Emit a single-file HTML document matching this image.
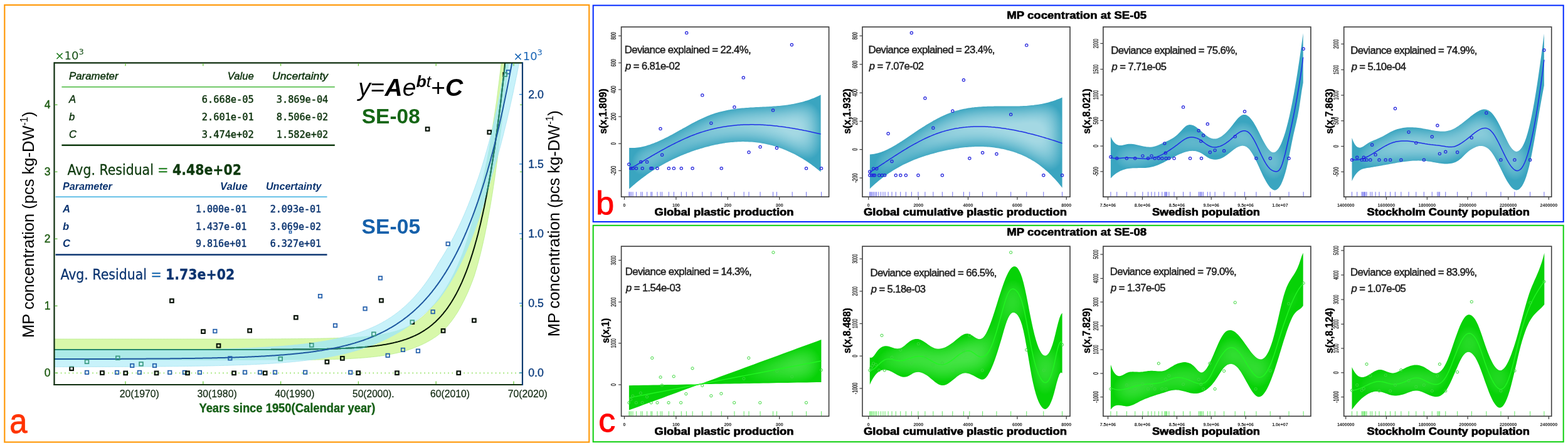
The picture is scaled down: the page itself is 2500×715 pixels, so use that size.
<!DOCTYPE html>
<html><head><meta charset="utf-8"><title>MP concentration figure</title>
<style>html,body{margin:0;padding:0;background:#fff;} svg{display:block;}</style></head>
<body><svg width="2500" height="715" viewBox="0 0 2500 715">
<rect width="2500" height="715" fill="#fff"/>
<rect x="7.3" y="8" width="932" height="697.6" fill="none" stroke="#FF9A0C" stroke-width="2.2"/>
<rect x="945.7" y="8.6" width="1547" height="345.4" fill="none" stroke="#0028FF" stroke-width="2"/>
<rect x="945.7" y="359.8" width="1547" height="345.4" fill="none" stroke="#0DCF0D" stroke-width="2"/>
<defs><clipPath id="cpA"><rect x="86.5" y="100.3" width="746.5" height="513.7"/></clipPath><clipPath id="cpB5"><path d="M82.4,559.0 83.6,559.0 84.9,559.0 86.1,559.0 87.3,559.0 88.6,559.0 89.8,559.0 91.1,559.0 92.3,559.0 93.5,559.0 94.8,559.0 96.0,559.0 97.2,559.0 98.5,559.0 99.7,559.0 101.0,559.0 102.2,559.0 103.4,559.0 104.7,559.0 105.9,559.0 107.1,559.0 108.4,559.0 109.6,559.0 110.9,559.0 112.1,559.0 113.3,559.0 114.6,559.0 115.8,559.0 117.1,559.0 118.3,559.0 119.5,559.0 120.8,559.0 122.0,559.0 123.2,559.0 124.5,559.0 125.7,559.0 127.0,559.0 128.2,559.0 129.4,559.0 130.7,559.0 131.9,559.0 133.1,559.0 134.4,559.0 135.6,559.0 136.9,559.0 138.1,559.0 139.3,559.0 140.6,559.0 141.8,559.0 143.1,558.9 144.3,558.9 145.5,558.9 146.8,558.9 148.0,558.9 149.2,558.9 150.5,558.9 151.7,558.9 153.0,558.9 154.2,558.9 155.4,558.9 156.7,558.9 157.9,558.9 159.1,558.9 160.4,558.9 161.6,558.9 162.9,558.9 164.1,558.9 165.3,558.9 166.6,558.9 167.8,558.9 169.1,558.9 170.3,558.9 171.5,558.9 172.8,558.9 174.0,558.9 175.2,558.9 176.5,558.9 177.7,558.9 179.0,558.8 180.2,558.8 181.4,558.8 182.7,558.8 183.9,558.8 185.1,558.8 186.4,558.8 187.6,558.8 188.9,558.8 190.1,558.8 191.3,558.8 192.6,558.8 193.8,558.8 195.0,558.8 196.3,558.8 197.5,558.8 198.8,558.8 200.0,558.8 201.2,558.8 202.5,558.8 203.7,558.8 205.0,558.7 206.2,558.7 207.4,558.7 208.7,558.7 209.9,558.7 211.1,558.7 212.4,558.7 213.6,558.7 214.9,558.7 216.1,558.7 217.3,558.7 218.6,558.7 219.8,558.7 221.0,558.7 222.3,558.7 223.5,558.7 224.8,558.6 226.0,558.6 227.2,558.6 228.5,558.6 229.7,558.6 230.9,558.6 232.2,558.6 233.4,558.6 234.7,558.6 235.9,558.6 237.1,558.6 238.4,558.6 239.6,558.6 240.9,558.5 242.1,558.5 243.3,558.5 244.6,558.5 245.8,558.5 247.0,558.5 248.3,558.5 249.5,558.5 250.8,558.5 252.0,558.5 253.2,558.5 254.5,558.4 255.7,558.4 256.9,558.4 258.2,558.4 259.4,558.4 260.7,558.4 261.9,558.4 263.1,558.4 264.4,558.4 265.6,558.3 266.9,558.3 268.1,558.3 269.3,558.3 270.6,558.3 271.8,558.3 273.0,558.3 274.3,558.3 275.5,558.2 276.8,558.2 278.0,558.2 279.2,558.2 280.5,558.2 281.7,558.2 282.9,558.2 284.2,558.2 285.4,558.1 286.7,558.1 287.9,558.1 289.1,558.1 290.4,558.1 291.6,558.1 292.9,558.1 294.1,558.0 295.3,558.0 296.6,558.0 297.8,558.0 299.0,558.0 300.3,558.0 301.5,557.9 302.8,557.9 304.0,557.9 305.2,557.9 306.5,557.9 307.7,557.8 308.9,557.8 310.2,557.8 311.4,557.8 312.7,557.8 313.9,557.8 315.1,557.7 316.4,557.7 317.6,557.7 318.8,557.7 320.1,557.6 321.3,557.6 322.6,557.6 323.8,557.6 325.0,557.6 326.3,557.5 327.5,557.5 328.8,557.5 330.0,557.5 331.2,557.4 332.5,557.4 333.7,557.4 334.9,557.4 336.2,557.3 337.4,557.3 338.7,557.3 339.9,557.3 341.1,557.2 342.4,557.2 343.6,557.2 344.8,557.2 346.1,557.1 347.3,557.1 348.6,557.1 349.8,557.0 351.0,557.0 352.3,557.0 353.5,556.9 354.8,556.9 356.0,556.9 357.2,556.8 358.5,556.8 359.7,556.8 360.9,556.7 362.2,556.7 363.4,556.7 364.7,556.6 365.9,556.6 367.1,556.6 368.4,556.5 369.6,556.5 370.8,556.4 372.1,556.4 373.3,556.4 374.6,556.3 375.8,556.3 377.0,556.2 378.3,556.2 379.5,556.2 380.7,556.1 382.0,556.1 383.2,556.0 384.5,556.0 385.7,555.9 386.9,555.9 388.2,555.9 389.4,555.8 390.7,555.8 391.9,555.7 393.1,555.7 394.4,555.6 395.6,555.6 396.8,555.5 398.1,555.4 399.3,555.4 400.6,555.3 401.8,555.3 403.0,555.2 404.3,555.2 405.5,555.1 406.7,555.1 408.0,555.0 409.2,554.9 410.5,554.9 411.7,554.8 412.9,554.8 414.2,554.7 415.4,554.6 416.6,554.6 417.9,554.5 419.1,554.4 420.4,554.4 421.6,554.3 422.8,554.2 424.1,554.1 425.3,554.1 426.6,554.0 427.8,553.9 429.0,553.9 430.3,553.8 431.5,553.7 432.7,553.6 434.0,553.5 435.2,553.5 436.5,553.4 437.7,553.3 438.9,553.2 440.2,553.1 441.4,553.0 442.6,552.9 443.9,552.9 445.1,552.8 446.4,552.7 447.6,552.6 448.8,552.5 450.1,552.4 451.3,552.3 452.6,552.2 453.8,552.1 455.0,552.0 456.3,551.9 457.5,551.8 458.7,551.7 460.0,551.6 461.2,551.5 462.5,551.3 463.7,551.2 464.9,551.1 466.2,551.0 467.4,550.9 468.6,550.8 469.9,550.6 471.1,550.5 472.4,550.4 473.6,550.3 474.8,550.1 476.1,550.0 477.3,549.9 478.6,549.7 479.8,549.6 481.0,549.5 482.3,549.3 483.5,549.2 484.7,549.0 486.0,548.9 487.2,548.7 488.5,548.6 489.7,548.4 490.9,548.3 492.2,548.1 493.4,547.9 494.6,547.8 495.9,547.6 497.1,547.5 498.4,547.3 499.6,547.1 500.8,546.9 502.1,546.8 503.3,546.6 504.5,546.4 505.8,546.2 507.0,546.0 508.3,545.8 509.5,545.6 510.7,545.4 512.0,545.2 513.2,545.0 514.5,544.8 515.7,544.6 516.9,544.4 518.2,544.2 519.4,544.0 520.6,543.8 521.9,543.5 523.1,543.3 524.4,543.1 525.6,542.8 526.8,542.6 528.1,542.4 529.3,542.1 530.5,541.9 531.8,541.6 533.0,541.3 534.3,541.1 535.5,540.8 536.7,540.6 538.0,540.3 539.2,540.0 540.5,539.7 541.7,539.4 542.9,539.2 544.2,538.9 545.4,538.6 546.6,538.3 547.9,538.0 549.1,537.6 550.4,537.3 551.6,537.0 552.8,536.7 554.1,536.4 555.3,536.0 556.5,535.7 557.8,535.3 559.0,535.0 560.3,534.6 561.5,534.3 562.7,533.9 564.0,533.5 565.2,533.2 566.4,532.8 567.7,532.4 568.9,532.0 570.2,531.6 571.4,531.2 572.6,530.8 573.9,530.4 575.1,529.9 576.4,529.5 577.6,529.0 578.8,528.6 580.1,528.1 581.3,527.7 582.5,527.2 583.8,526.7 585.0,526.2 586.3,525.7 587.5,525.2 588.7,524.7 590.0,524.2 591.2,523.6 592.4,523.1 593.7,522.5 594.9,522.0 596.2,521.4 597.4,520.8 598.6,520.3 599.9,519.7 601.1,519.0 602.4,518.4 603.6,517.8 604.8,517.2 606.1,516.5 607.3,515.9 608.5,515.2 609.8,514.5 611.0,513.8 612.3,513.1 613.5,512.4 614.7,511.7 616.0,510.9 617.2,510.2 618.4,509.4 619.7,508.6 620.9,507.8 622.2,507.0 623.4,506.2 624.6,505.4 625.9,504.5 627.1,503.7 628.3,502.8 629.6,501.9 630.8,501.0 632.1,500.1 633.3,499.1 634.5,498.2 635.8,497.2 637.0,496.2 638.3,495.2 639.5,494.2 640.7,493.1 642.0,492.1 643.2,491.0 644.4,489.9 645.7,488.8 646.9,487.6 648.2,486.5 649.4,485.3 650.6,484.1 651.9,482.9 653.1,481.7 654.3,480.4 655.6,479.2 656.8,477.9 658.1,476.6 659.3,475.3 660.5,474.0 661.8,472.6 663.0,471.2 664.2,469.8 665.5,468.4 666.7,466.9 668.0,465.5 669.2,464.0 670.4,462.4 671.7,460.9 672.9,459.3 674.2,457.7 675.4,456.1 676.6,454.5 677.9,452.8 679.1,451.1 680.3,449.4 681.6,447.6 682.8,445.8 684.1,444.0 685.3,442.2 686.5,440.3 687.8,438.4 689.0,436.4 690.2,434.5 691.5,432.5 692.7,430.4 694.0,428.4 695.2,426.3 696.4,424.2 697.7,422.0 698.9,419.8 700.2,417.9 701.4,416.0 702.6,414.1 703.9,412.2 705.1,410.2 706.3,408.2 707.6,406.2 708.8,404.1 710.1,402.0 711.3,399.9 712.5,397.8 713.8,395.6 715.0,393.4 716.2,391.2 717.5,389.0 718.7,386.7 720.0,384.4 721.2,382.1 722.4,379.7 723.7,377.3 724.9,374.9 726.1,372.5 727.4,370.0 728.6,367.5 729.9,364.9 731.1,362.4 732.3,359.7 733.6,357.1 734.8,354.4 736.1,351.7 737.3,348.9 738.5,346.1 739.8,343.3 741.0,340.4 742.2,337.5 743.5,334.5 744.7,331.5 746.0,328.5 747.2,325.4 748.4,322.3 749.7,319.2 750.9,316.0 752.1,312.8 753.4,309.5 754.6,306.2 755.9,302.9 757.1,299.5 758.3,296.1 759.6,292.6 760.8,289.0 762.1,285.5 763.3,281.9 764.5,278.2 765.8,274.3 767.0,270.4 768.2,266.4 769.5,262.4 770.7,258.3 772.0,254.2 773.2,250.0 774.4,245.7 775.7,241.4 776.9,237.1 778.1,232.6 779.4,228.2 780.6,223.6 781.9,219.0 783.1,214.4 784.3,209.6 785.6,204.2 786.8,198.6 788.1,193.0 789.3,187.2 790.5,181.4 791.8,175.5 793.0,169.5 794.2,163.4 795.5,157.2 796.7,151.0 798.0,144.6 799.2,138.1 800.4,131.5 801.7,124.8 802.9,118.0 804.1,111.1 805.4,104.1 806.6,97.0 807.9,89.8 809.1,82.5 810.3,75.0 811.6,67.5 812.8,59.8 814.0,52.0 815.3,44.1 816.5,36.0 817.8,27.9 819.0,19.6 820.2,11.2 821.5,2.6 822.7,-6.1 824.0,-14.9 825.2,-23.8 826.4,-32.9 827.7,-42.2 828.9,-51.4 830.1,-60.8 831.4,-70.3 832.6,-80.0 833.9,-89.8 835.1,-99.8 836.3,-109.9 837.6,-120.2 838.8,-130.7 840.0,-141.3 841.3,-152.0 842.5,-162.9 843.8,-174.0 843.8,7.3 842.5,15.0 841.3,22.7 840.0,30.2 838.8,37.7 837.6,45.0 836.3,52.3 835.1,59.4 833.9,66.4 832.6,73.4 831.4,80.3 830.1,87.0 828.9,93.7 827.7,100.3 826.4,106.7 825.2,113.0 824.0,119.2 822.7,125.4 821.5,131.5 820.2,137.4 819.0,143.3 817.8,149.2 816.5,154.9 815.3,160.6 814.0,166.2 812.8,171.7 811.6,177.2 810.3,182.6 809.1,187.9 807.9,193.1 806.6,198.3 805.4,203.4 804.1,208.4 802.9,213.4 801.7,218.3 800.4,223.1 799.2,227.9 798.0,232.6 796.7,237.3 795.5,241.8 794.2,246.4 793.0,250.8 791.8,255.3 790.5,259.6 789.3,263.9 788.1,268.1 786.8,272.3 785.6,276.4 784.3,280.5 783.1,285.1 781.9,289.6 780.6,294.0 779.4,298.3 778.1,302.6 776.9,306.8 775.7,311.0 774.4,315.1 773.2,319.1 772.0,323.1 770.7,327.0 769.5,330.8 768.2,334.6 767.0,338.3 765.8,342.0 764.5,345.6 763.3,349.3 762.1,352.9 760.8,356.5 759.6,360.0 758.3,363.5 757.1,366.9 755.9,370.2 754.6,373.5 753.4,376.8 752.1,379.9 750.9,383.1 749.7,386.2 748.4,389.2 747.2,392.2 746.0,395.2 744.7,398.1 743.5,400.9 742.2,403.7 741.0,406.5 739.8,409.2 738.5,411.9 737.3,414.5 736.1,417.1 734.8,419.7 733.6,422.2 732.3,424.6 731.1,427.1 729.9,429.5 728.6,431.9 727.4,434.2 726.1,436.5 724.9,438.8 723.7,441.0 722.4,443.2 721.2,445.3 720.0,447.4 718.7,449.5 717.5,451.6 716.2,453.6 715.0,455.6 713.8,457.5 712.5,459.4 711.3,461.3 710.1,463.2 708.8,465.0 707.6,466.8 706.3,468.6 705.1,470.4 703.9,472.1 702.6,473.8 701.4,475.4 700.2,477.1 698.9,478.7 697.7,480.1 696.4,481.4 695.2,482.8 694.0,484.1 692.7,485.4 691.5,486.7 690.2,487.9 689.0,489.2 687.8,490.4 686.5,491.7 685.3,492.9 684.1,494.1 682.8,495.2 681.6,496.4 680.3,497.5 679.1,498.7 677.9,499.8 676.6,500.9 675.4,502.0 674.2,503.1 672.9,504.1 671.7,505.2 670.4,506.2 669.2,507.3 668.0,508.3 666.7,509.3 665.5,510.3 664.2,511.2 663.0,512.2 661.8,513.2 660.5,514.1 659.3,515.0 658.1,516.0 656.8,516.9 655.6,517.8 654.3,518.6 653.1,519.5 651.9,520.3 650.6,521.2 649.4,522.0 648.2,522.8 646.9,523.6 645.7,524.4 644.4,525.2 643.2,526.0 642.0,526.8 640.7,527.5 639.5,528.3 638.3,529.0 637.0,529.8 635.8,530.5 634.5,531.2 633.3,531.9 632.1,532.6 630.8,533.3 629.6,534.0 628.3,534.7 627.1,535.4 625.9,536.0 624.6,536.7 623.4,537.3 622.2,538.0 620.9,538.6 619.7,539.2 618.4,539.9 617.2,540.5 616.0,541.1 614.7,541.7 613.5,542.2 612.3,542.8 611.0,543.4 609.8,544.0 608.5,544.5 607.3,545.1 606.1,545.6 604.8,546.2 603.6,546.7 602.4,547.2 601.1,547.7 599.9,548.3 598.6,548.8 597.4,549.3 596.2,549.8 594.9,550.2 593.7,550.7 592.4,551.2 591.2,551.7 590.0,552.1 588.7,552.6 587.5,553.1 586.3,553.5 585.0,553.9 583.8,554.4 582.5,554.8 581.3,555.2 580.1,555.6 578.8,556.1 577.6,556.5 576.4,556.9 575.1,557.3 573.9,557.7 572.6,558.1 571.4,558.4 570.2,558.8 568.9,559.2 567.7,559.6 566.4,559.9 565.2,560.3 564.0,560.7 562.7,561.0 561.5,561.3 560.3,561.7 559.0,562.0 557.8,562.4 556.5,562.7 555.3,563.0 554.1,563.3 552.8,563.6 551.6,564.0 550.4,564.3 549.1,564.6 547.9,564.9 546.6,565.1 545.4,565.4 544.2,565.7 542.9,566.0 541.7,566.3 540.5,566.6 539.2,566.8 538.0,567.1 536.7,567.3 535.5,567.6 534.3,567.9 533.0,568.1 531.8,568.4 530.5,568.6 529.3,568.8 528.1,569.1 526.8,569.3 525.6,569.5 524.4,569.8 523.1,570.0 521.9,570.2 520.6,570.4 519.4,570.7 518.2,570.9 516.9,571.1 515.7,571.3 514.5,571.5 513.2,571.7 512.0,571.9 510.7,572.1 509.5,572.3 508.3,572.5 507.0,572.6 505.8,572.8 504.5,573.0 503.3,573.2 502.1,573.4 500.8,573.5 499.6,573.7 498.4,573.9 497.1,574.0 495.9,574.2 494.6,574.4 493.4,574.5 492.2,574.7 490.9,574.8 489.7,575.0 488.5,575.2 487.2,575.3 486.0,575.4 484.7,575.6 483.5,575.7 482.3,575.9 481.0,576.0 479.8,576.1 478.6,576.3 477.3,576.4 476.1,576.5 474.8,576.7 473.6,576.8 472.4,576.9 471.1,577.1 469.9,577.2 468.6,577.3 467.4,577.4 466.2,577.5 464.9,577.6 463.7,577.8 462.5,577.9 461.2,578.0 460.0,578.1 458.7,578.2 457.5,578.3 456.3,578.4 455.0,578.5 453.8,578.6 452.6,578.7 451.3,578.8 450.1,578.9 448.8,579.0 447.6,579.1 446.4,579.2 445.1,579.3 443.9,579.4 442.6,579.5 441.4,579.6 440.2,579.6 438.9,579.7 437.7,579.8 436.5,579.9 435.2,580.0 434.0,580.1 432.7,580.1 431.5,580.2 430.3,580.3 429.0,580.4 427.8,580.4 426.6,580.5 425.3,580.6 424.1,580.7 422.8,580.7 421.6,580.8 420.4,580.9 419.1,580.9 417.9,581.0 416.6,581.1 415.4,581.1 414.2,581.2 412.9,581.3 411.7,581.3 410.5,581.4 409.2,581.4 408.0,581.5 406.7,581.6 405.5,581.6 404.3,581.7 403.0,581.7 401.8,581.8 400.6,581.8 399.3,581.9 398.1,582.0 396.8,582.0 395.6,582.1 394.4,582.1 393.1,582.2 391.9,582.2 390.7,582.3 389.4,582.3 388.2,582.4 386.9,582.4 385.7,582.4 384.5,582.5 383.2,582.5 382.0,582.6 380.7,582.6 379.5,582.7 378.3,582.7 377.0,582.7 375.8,582.8 374.6,582.8 373.3,582.9 372.1,582.9 370.8,582.9 369.6,583.0 368.4,583.0 367.1,583.1 365.9,583.1 364.7,583.1 363.4,583.2 362.2,583.2 360.9,583.2 359.7,583.3 358.5,583.3 357.2,583.3 356.0,583.4 354.8,583.4 353.5,583.4 352.3,583.5 351.0,583.5 349.8,583.5 348.6,583.6 347.3,583.6 346.1,583.6 344.8,583.6 343.6,583.7 342.4,583.7 341.1,583.7 339.9,583.8 338.7,583.8 337.4,583.8 336.2,583.8 334.9,583.9 333.7,583.9 332.5,583.9 331.2,583.9 330.0,584.0 328.8,584.0 327.5,584.0 326.3,584.0 325.0,584.1 323.8,584.1 322.6,584.1 321.3,584.1 320.1,584.1 318.8,584.2 317.6,584.2 316.4,584.2 315.1,584.2 313.9,584.2 312.7,584.3 311.4,584.3 310.2,584.3 308.9,584.3 307.7,584.3 306.5,584.4 305.2,584.4 304.0,584.4 302.8,584.4 301.5,584.4 300.3,584.5 299.0,584.5 297.8,584.5 296.6,584.5 295.3,584.5 294.1,584.5 292.9,584.5 291.6,584.6 290.4,584.6 289.1,584.6 287.9,584.6 286.7,584.6 285.4,584.6 284.2,584.7 282.9,584.7 281.7,584.7 280.5,584.7 279.2,584.7 278.0,584.7 276.8,584.7 275.5,584.7 274.3,584.8 273.0,584.8 271.8,584.8 270.6,584.8 269.3,584.8 268.1,584.8 266.9,584.8 265.6,584.8 264.4,584.9 263.1,584.9 261.9,584.9 260.7,584.9 259.4,584.9 258.2,584.9 256.9,584.9 255.7,584.9 254.5,584.9 253.2,584.9 252.0,585.0 250.8,585.0 249.5,585.0 248.3,585.0 247.0,585.0 245.8,585.0 244.6,585.0 243.3,585.0 242.1,585.0 240.9,585.0 239.6,585.0 238.4,585.1 237.1,585.1 235.9,585.1 234.7,585.1 233.4,585.1 232.2,585.1 230.9,585.1 229.7,585.1 228.5,585.1 227.2,585.1 226.0,585.1 224.8,585.1 223.5,585.1 222.3,585.2 221.0,585.2 219.8,585.2 218.6,585.2 217.3,585.2 216.1,585.2 214.9,585.2 213.6,585.2 212.4,585.2 211.1,585.2 209.9,585.2 208.7,585.2 207.4,585.2 206.2,585.2 205.0,585.2 203.7,585.2 202.5,585.3 201.2,585.3 200.0,585.3 198.8,585.3 197.5,585.3 196.3,585.3 195.0,585.3 193.8,585.3 192.6,585.3 191.3,585.3 190.1,585.3 188.9,585.3 187.6,585.3 186.4,585.3 185.1,585.3 183.9,585.3 182.7,585.3 181.4,585.3 180.2,585.3 179.0,585.3 177.7,585.3 176.5,585.4 175.2,585.4 174.0,585.4 172.8,585.4 171.5,585.4 170.3,585.4 169.1,585.4 167.8,585.4 166.6,585.4 165.3,585.4 164.1,585.4 162.9,585.4 161.6,585.4 160.4,585.4 159.1,585.4 157.9,585.4 156.7,585.4 155.4,585.4 154.2,585.4 153.0,585.4 151.7,585.4 150.5,585.4 149.2,585.4 148.0,585.4 146.8,585.4 145.5,585.4 144.3,585.4 143.1,585.4 141.8,585.4 140.6,585.4 139.3,585.5 138.1,585.5 136.9,585.5 135.6,585.5 134.4,585.5 133.1,585.5 131.9,585.5 130.7,585.5 129.4,585.5 128.2,585.5 127.0,585.5 125.7,585.5 124.5,585.5 123.2,585.5 122.0,585.5 120.8,585.5 119.5,585.5 118.3,585.5 117.1,585.5 115.8,585.5 114.6,585.5 113.3,585.5 112.1,585.5 110.9,585.5 109.6,585.5 108.4,585.5 107.1,585.5 105.9,585.5 104.7,585.5 103.4,585.5 102.2,585.5 101.0,585.5 99.7,585.5 98.5,585.5 97.2,585.5 96.0,585.5 94.8,585.5 93.5,585.5 92.3,585.5 91.1,585.5 89.8,585.5 88.6,585.5 87.3,585.5 86.1,585.5 84.9,585.5 83.6,585.5 82.4,585.5 Z"/></clipPath><clipPath id="cpB8"><path d="M82.4,541.1 83.6,541.1 84.9,541.1 86.1,541.1 87.3,541.1 88.6,541.1 89.8,541.1 91.1,541.1 92.3,541.1 93.5,541.1 94.8,541.1 96.0,541.1 97.2,541.1 98.5,541.1 99.7,541.1 101.0,541.1 102.2,541.1 103.4,541.1 104.7,541.1 105.9,541.1 107.1,541.1 108.4,541.1 109.6,541.1 110.9,541.1 112.1,541.1 113.3,541.1 114.6,541.1 115.8,541.1 117.1,541.1 118.3,541.1 119.5,541.1 120.8,541.1 122.0,541.1 123.2,541.1 124.5,541.1 125.7,541.1 127.0,541.1 128.2,541.1 129.4,541.1 130.7,541.1 131.9,541.1 133.1,541.1 134.4,541.1 135.6,541.1 136.9,541.1 138.1,541.1 139.3,541.1 140.6,541.1 141.8,541.1 143.1,541.1 144.3,541.1 145.5,541.1 146.8,541.1 148.0,541.1 149.2,541.1 150.5,541.1 151.7,541.1 153.0,541.1 154.2,541.1 155.4,541.1 156.7,541.1 157.9,541.1 159.1,541.1 160.4,541.1 161.6,541.1 162.9,541.1 164.1,541.1 165.3,541.1 166.6,541.1 167.8,541.1 169.1,541.1 170.3,541.1 171.5,541.1 172.8,541.1 174.0,541.1 175.2,541.1 176.5,541.1 177.7,541.1 179.0,541.1 180.2,541.1 181.4,541.1 182.7,541.1 183.9,541.1 185.1,541.1 186.4,541.1 187.6,541.1 188.9,541.1 190.1,541.1 191.3,541.1 192.6,541.1 193.8,541.1 195.0,541.1 196.3,541.1 197.5,541.1 198.8,541.1 200.0,541.1 201.2,541.1 202.5,541.1 203.7,541.1 205.0,541.1 206.2,541.1 207.4,541.1 208.7,541.1 209.9,541.1 211.1,541.1 212.4,541.1 213.6,541.1 214.9,541.1 216.1,541.1 217.3,541.1 218.6,541.1 219.8,541.1 221.0,541.1 222.3,541.1 223.5,541.1 224.8,541.1 226.0,541.1 227.2,541.1 228.5,541.1 229.7,541.1 230.9,541.1 232.2,541.1 233.4,541.1 234.7,541.1 235.9,541.1 237.1,541.1 238.4,541.1 239.6,541.1 240.9,541.1 242.1,541.1 243.3,541.1 244.6,541.1 245.8,541.1 247.0,541.1 248.3,541.1 249.5,541.1 250.8,541.1 252.0,541.1 253.2,541.1 254.5,541.1 255.7,541.1 256.9,541.1 258.2,541.1 259.4,541.1 260.7,541.1 261.9,541.1 263.1,541.1 264.4,541.1 265.6,541.1 266.9,541.1 268.1,541.1 269.3,541.1 270.6,541.1 271.8,541.1 273.0,541.1 274.3,541.1 275.5,541.1 276.8,541.1 278.0,541.1 279.2,541.1 280.5,541.1 281.7,541.1 282.9,541.1 284.2,541.1 285.4,541.1 286.7,541.1 287.9,541.1 289.1,541.1 290.4,541.1 291.6,541.1 292.9,541.1 294.1,541.1 295.3,541.1 296.6,541.1 297.8,541.1 299.0,541.1 300.3,541.1 301.5,541.1 302.8,541.1 304.0,541.1 305.2,541.1 306.5,541.1 307.7,541.1 308.9,541.1 310.2,541.1 311.4,541.1 312.7,541.1 313.9,541.1 315.1,541.1 316.4,541.1 317.6,541.1 318.8,541.1 320.1,541.1 321.3,541.1 322.6,541.1 323.8,541.1 325.0,541.1 326.3,541.1 327.5,541.1 328.8,541.1 330.0,541.1 331.2,541.1 332.5,541.1 333.7,541.1 334.9,541.1 336.2,541.1 337.4,541.1 338.7,541.1 339.9,541.1 341.1,541.1 342.4,541.1 343.6,541.1 344.8,541.1 346.1,541.1 347.3,541.1 348.6,541.1 349.8,541.1 351.0,541.1 352.3,541.1 353.5,541.1 354.8,541.1 356.0,541.1 357.2,541.1 358.5,541.1 359.7,541.1 360.9,541.1 362.2,541.1 363.4,541.1 364.7,541.1 365.9,541.1 367.1,541.1 368.4,541.1 369.6,541.1 370.8,541.1 372.1,541.0 373.3,541.0 374.6,541.0 375.8,541.0 377.0,541.0 378.3,541.0 379.5,541.0 380.7,541.0 382.0,541.0 383.2,541.0 384.5,541.0 385.7,541.0 386.9,541.0 388.2,541.0 389.4,541.0 390.7,541.0 391.9,541.0 393.1,541.0 394.4,541.0 395.6,541.0 396.8,541.0 398.1,541.0 399.3,541.0 400.6,541.0 401.8,541.0 403.0,541.0 404.3,541.0 405.5,541.0 406.7,541.0 408.0,541.0 409.2,541.0 410.5,541.0 411.7,541.0 412.9,541.0 414.2,541.0 415.4,541.0 416.6,541.0 417.9,541.0 419.1,541.0 420.4,541.0 421.6,541.0 422.8,541.0 424.1,540.9 425.3,540.9 426.6,540.9 427.8,540.9 429.0,540.9 430.3,540.9 431.5,540.9 432.7,540.9 434.0,540.9 435.2,540.9 436.5,540.9 437.7,540.9 438.9,540.9 440.2,540.9 441.4,540.9 442.6,540.9 443.9,540.9 445.1,540.9 446.4,540.9 447.6,540.9 448.8,540.8 450.1,540.8 451.3,540.8 452.6,540.8 453.8,540.8 455.0,540.8 456.3,540.8 457.5,540.8 458.7,540.8 460.0,540.8 461.2,540.8 462.5,540.8 463.7,540.7 464.9,540.7 466.2,540.7 467.4,540.7 468.6,540.7 469.9,540.7 471.1,540.7 472.4,540.7 473.6,540.7 474.8,540.7 476.1,540.6 477.3,540.6 478.6,540.6 479.8,540.6 481.0,540.6 482.3,540.6 483.5,540.6 484.7,540.6 486.0,540.5 487.2,540.5 488.5,540.5 489.7,540.5 490.9,540.5 492.2,540.5 493.4,540.4 494.6,540.4 495.9,540.4 497.1,540.4 498.4,540.4 499.6,540.4 500.8,540.3 502.1,540.3 503.3,540.3 504.5,540.3 505.8,540.2 507.0,540.2 508.3,540.2 509.5,540.2 510.7,540.2 512.0,540.1 513.2,540.1 514.5,540.1 515.7,540.0 516.9,540.0 518.2,540.0 519.4,540.0 520.6,539.9 521.9,539.9 523.1,539.9 524.4,539.8 525.6,539.8 526.8,539.8 528.1,539.7 529.3,539.7 530.5,539.7 531.8,539.6 533.0,539.6 534.3,539.5 535.5,539.5 536.7,539.5 538.0,539.4 539.2,539.4 540.5,539.3 541.7,539.3 542.9,539.2 544.2,539.2 545.4,539.1 546.6,539.1 547.9,539.0 549.1,539.0 550.4,538.9 551.6,538.8 552.8,538.8 554.1,538.7 555.3,538.6 556.5,538.6 557.8,538.5 559.0,538.4 560.3,538.4 561.5,538.3 562.7,538.2 564.0,538.1 565.2,538.1 566.4,538.0 567.7,537.9 568.9,537.8 570.2,537.7 571.4,537.6 572.6,537.5 573.9,537.4 575.1,537.3 576.4,537.2 577.6,537.1 578.8,537.0 580.1,536.9 581.3,536.8 582.5,536.7 583.8,536.5 585.0,536.4 586.3,536.3 587.5,536.2 588.7,536.0 590.0,535.9 591.2,535.7 592.4,535.6 593.7,535.4 594.9,535.3 596.2,535.1 597.4,535.0 598.6,534.8 599.9,534.6 601.1,534.4 602.4,534.2 603.6,534.1 604.8,533.9 606.1,533.7 607.3,533.4 608.5,533.2 609.8,533.0 611.0,532.8 612.3,532.5 613.5,532.3 614.7,532.1 616.0,531.8 617.2,531.5 618.4,531.3 619.7,531.0 620.9,530.7 622.2,530.4 623.4,530.1 624.6,529.8 625.9,529.5 627.1,529.1 628.3,528.8 629.6,528.4 630.8,528.1 632.1,527.7 633.3,527.3 634.5,526.9 635.8,526.5 637.0,526.0 638.3,525.6 639.5,525.2 640.7,524.7 642.0,524.2 643.2,523.7 644.4,523.2 645.7,522.7 646.9,522.1 648.2,521.6 649.4,521.0 650.6,520.4 651.9,519.8 653.1,519.2 654.3,518.5 655.6,517.8 656.8,517.2 658.1,516.4 659.3,515.7 660.5,515.0 661.8,514.2 663.0,513.4 664.2,512.5 665.5,511.7 666.7,510.8 668.0,509.9 669.2,509.0 670.4,508.0 671.7,507.0 672.9,506.0 674.2,504.9 675.4,503.8 676.6,502.7 677.9,501.6 679.1,500.4 680.3,499.1 681.6,497.9 682.8,496.6 684.1,495.3 685.3,493.9 686.5,492.5 687.8,491.0 689.0,489.5 690.2,488.0 691.5,486.4 692.7,484.7 694.0,483.0 695.2,481.3 696.4,479.5 697.7,478.0 698.9,476.4 700.2,474.7 701.4,473.1 702.6,471.4 703.9,469.6 705.1,467.8 706.3,466.0 707.6,464.1 708.8,462.2 710.1,460.2 711.3,458.2 712.5,456.2 713.8,454.1 715.0,451.9 716.2,449.7 717.5,447.5 718.7,445.2 720.0,442.8 721.2,440.4 722.4,438.0 723.7,435.5 724.9,432.9 726.1,430.3 727.4,427.6 728.6,424.8 729.9,422.0 731.1,419.1 732.3,416.2 733.6,413.2 734.8,410.1 736.1,407.0 737.3,403.8 738.5,400.5 739.8,396.9 741.0,393.2 742.2,389.4 743.5,385.5 744.7,381.6 746.0,377.5 747.2,373.3 748.4,369.1 749.7,364.7 750.9,360.2 752.1,355.7 753.4,351.0 754.6,346.2 755.9,341.3 757.1,336.8 758.3,332.2 759.6,327.5 760.8,322.8 762.1,317.9 763.3,313.0 764.5,307.9 765.8,302.7 767.0,297.4 768.2,292.0 769.5,286.5 770.7,280.9 772.0,275.1 773.2,269.2 774.4,263.2 775.7,257.1 776.9,250.7 778.1,244.1 779.4,237.4 780.6,230.5 781.9,223.5 783.1,216.3 784.3,209.0 785.6,201.5 786.8,193.8 788.1,186.0 789.3,178.0 790.5,169.8 791.8,161.5 793.0,152.0 794.2,142.2 795.5,132.2 796.7,121.9 798.0,111.4 799.2,100.7 800.4,89.7 801.7,78.4 802.9,66.8 804.1,55.0 805.4,42.8 806.6,30.4 807.9,16.6 809.1,2.5 810.3,-12.0 811.6,-26.9 812.8,-42.2 814.0,-57.9 815.3,-74.0 816.5,-90.6 817.8,-107.6 819.0,-125.0 820.2,-142.9 821.5,-161.3 822.7,-180.1 824.0,-199.5 825.2,-219.3 826.4,-239.7 827.7,-260.7 828.9,-282.2 830.1,-304.2 831.4,-326.9 832.6,-350.1 833.9,-373.9 835.1,-398.4 836.3,-423.6 837.6,-449.3 838.8,-475.8 840.0,-503.0 841.3,-530.9 842.5,-559.5 843.8,-588.9 843.8,-354.8 842.5,-331.3 841.3,-308.4 840.0,-286.1 838.8,-264.3 837.6,-243.1 836.3,-222.5 835.1,-202.4 833.9,-182.8 832.6,-163.7 831.4,-145.1 830.1,-126.9 828.9,-109.3 827.7,-92.0 826.4,-75.3 825.2,-58.9 824.0,-43.0 822.7,-27.4 821.5,-12.3 820.2,2.4 819.0,16.8 817.8,30.8 816.5,44.5 815.3,57.8 814.0,70.7 812.8,83.3 811.6,95.6 810.3,107.6 809.1,119.3 807.9,130.7 806.6,141.8 805.4,153.5 804.1,164.8 802.9,175.9 801.7,186.6 800.4,197.0 799.2,207.1 798.0,217.0 796.7,226.6 795.5,235.9 794.2,245.0 793.0,253.8 791.8,262.3 790.5,271.4 789.3,280.3 788.1,288.8 786.8,297.1 785.6,305.2 784.3,313.0 783.1,320.6 781.9,327.9 780.6,335.0 779.4,341.9 778.1,348.6 776.9,355.1 775.7,361.4 774.4,367.7 773.2,373.7 772.0,379.6 770.7,385.2 769.5,390.7 768.2,396.1 767.0,401.2 765.8,406.2 764.5,411.1 763.3,415.8 762.1,420.3 760.8,424.8 759.6,429.0 758.3,433.2 757.1,437.2 755.9,441.1 754.6,444.6 753.4,448.0 752.1,451.2 750.9,454.4 749.7,457.5 748.4,460.5 747.2,463.5 746.0,466.3 744.7,469.1 743.5,471.8 742.2,474.4 741.0,477.0 739.8,479.5 738.5,481.9 737.3,484.4 736.1,486.8 734.8,489.1 733.6,491.4 732.3,493.6 731.1,495.7 729.9,497.8 728.6,499.8 727.4,501.7 726.1,503.6 724.9,505.5 723.7,507.3 722.4,509.0 721.2,510.7 720.0,512.4 718.7,514.0 717.5,515.5 716.2,517.1 715.0,518.5 713.8,520.0 712.5,521.3 711.3,522.7 710.1,524.0 708.8,525.3 707.6,526.5 706.3,527.7 705.1,528.9 703.9,530.1 702.6,531.2 701.4,532.3 700.2,533.3 698.9,534.4 697.7,535.4 696.4,536.3 695.2,537.2 694.0,538.0 692.7,538.8 691.5,539.6 690.2,540.4 689.0,541.2 687.8,542.0 686.5,542.7 685.3,543.4 684.1,544.1 682.8,544.8 681.6,545.5 680.3,546.2 679.1,546.8 677.9,547.5 676.6,548.1 675.4,548.7 674.2,549.3 672.9,549.9 671.7,550.4 670.4,551.0 669.2,551.6 668.0,552.1 666.7,552.6 665.5,553.1 664.2,553.7 663.0,554.1 661.8,554.6 660.5,555.1 659.3,555.6 658.1,556.0 656.8,556.5 655.6,556.9 654.3,557.3 653.1,557.7 651.9,558.2 650.6,558.6 649.4,558.9 648.2,559.3 646.9,559.7 645.7,560.1 644.4,560.4 643.2,560.8 642.0,561.1 640.7,561.4 639.5,561.8 638.3,562.1 637.0,562.4 635.8,562.7 634.5,563.0 633.3,563.3 632.1,563.6 630.8,563.8 629.6,564.1 628.3,564.4 627.1,564.6 625.9,564.9 624.6,565.1 623.4,565.4 622.2,565.6 620.9,565.8 619.7,566.1 618.4,566.3 617.2,566.5 616.0,566.7 614.7,566.9 613.5,567.1 612.3,567.3 611.0,567.5 609.8,567.7 608.5,567.9 607.3,568.0 606.1,568.2 604.8,568.4 603.6,568.5 602.4,568.7 601.1,568.9 599.9,569.0 598.6,569.2 597.4,569.3 596.2,569.4 594.9,569.6 593.7,569.7 592.4,569.8 591.2,570.0 590.0,570.1 588.7,570.2 587.5,570.3 586.3,570.5 585.0,570.6 583.8,570.7 582.5,570.8 581.3,570.9 580.1,571.0 578.8,571.1 577.6,571.2 576.4,571.3 575.1,571.4 573.9,571.5 572.6,571.6 571.4,571.6 570.2,571.7 568.9,571.8 567.7,571.9 566.4,572.0 565.2,572.0 564.0,572.1 562.7,572.2 561.5,572.3 560.3,572.3 559.0,572.4 557.8,572.5 556.5,572.5 555.3,572.6 554.1,572.6 552.8,572.7 551.6,572.8 550.4,572.8 549.1,572.9 547.9,572.9 546.6,573.0 545.4,573.0 544.2,573.1 542.9,573.1 541.7,573.2 540.5,573.2 539.2,573.3 538.0,573.3 536.7,573.3 535.5,573.4 534.3,573.4 533.0,573.5 531.8,573.5 530.5,573.5 529.3,573.6 528.1,573.6 526.8,573.6 525.6,573.7 524.4,573.7 523.1,573.7 521.9,573.8 520.6,573.8 519.4,573.8 518.2,573.9 516.9,573.9 515.7,573.9 514.5,573.9 513.2,574.0 512.0,574.0 510.7,574.0 509.5,574.0 508.3,574.1 507.0,574.1 505.8,574.1 504.5,574.1 503.3,574.2 502.1,574.2 500.8,574.2 499.6,574.2 498.4,574.2 497.1,574.3 495.9,574.3 494.6,574.3 493.4,574.3 492.2,574.3 490.9,574.3 489.7,574.4 488.5,574.4 487.2,574.4 486.0,574.4 484.7,574.4 483.5,574.4 482.3,574.4 481.0,574.5 479.8,574.5 478.6,574.5 477.3,574.5 476.1,574.5 474.8,574.5 473.6,574.5 472.4,574.5 471.1,574.5 469.9,574.6 468.6,574.6 467.4,574.6 466.2,574.6 464.9,574.6 463.7,574.6 462.5,574.6 461.2,574.6 460.0,574.6 458.7,574.6 457.5,574.6 456.3,574.7 455.0,574.7 453.8,574.7 452.6,574.7 451.3,574.7 450.1,574.7 448.8,574.7 447.6,574.7 446.4,574.7 445.1,574.7 443.9,574.7 442.6,574.7 441.4,574.7 440.2,574.7 438.9,574.7 437.7,574.8 436.5,574.8 435.2,574.8 434.0,574.8 432.7,574.8 431.5,574.8 430.3,574.8 429.0,574.8 427.8,574.8 426.6,574.8 425.3,574.8 424.1,574.8 422.8,574.8 421.6,574.8 420.4,574.8 419.1,574.8 417.9,574.8 416.6,574.8 415.4,574.8 414.2,574.8 412.9,574.8 411.7,574.8 410.5,574.8 409.2,574.8 408.0,574.8 406.7,574.8 405.5,574.9 404.3,574.9 403.0,574.9 401.8,574.9 400.6,574.9 399.3,574.9 398.1,574.9 396.8,574.9 395.6,574.9 394.4,574.9 393.1,574.9 391.9,574.9 390.7,574.9 389.4,574.9 388.2,574.9 386.9,574.9 385.7,574.9 384.5,574.9 383.2,574.9 382.0,574.9 380.7,574.9 379.5,574.9 378.3,574.9 377.0,574.9 375.8,574.9 374.6,574.9 373.3,574.9 372.1,574.9 370.8,574.9 369.6,574.9 368.4,574.9 367.1,574.9 365.9,574.9 364.7,574.9 363.4,574.9 362.2,574.9 360.9,574.9 359.7,574.9 358.5,574.9 357.2,574.9 356.0,574.9 354.8,574.9 353.5,574.9 352.3,574.9 351.0,574.9 349.8,574.9 348.6,574.9 347.3,574.9 346.1,574.9 344.8,574.9 343.6,574.9 342.4,574.9 341.1,574.9 339.9,574.9 338.7,574.9 337.4,574.9 336.2,574.9 334.9,574.9 333.7,574.9 332.5,574.9 331.2,574.9 330.0,574.9 328.8,574.9 327.5,574.9 326.3,574.9 325.0,574.9 323.8,574.9 322.6,574.9 321.3,574.9 320.1,574.9 318.8,574.9 317.6,574.9 316.4,574.9 315.1,574.9 313.9,574.9 312.7,574.9 311.4,574.9 310.2,574.9 308.9,574.9 307.7,574.9 306.5,574.9 305.2,574.9 304.0,574.9 302.8,574.9 301.5,574.9 300.3,574.9 299.0,574.9 297.8,574.9 296.6,574.9 295.3,574.9 294.1,574.9 292.9,574.9 291.6,574.9 290.4,574.9 289.1,574.9 287.9,574.9 286.7,574.9 285.4,574.9 284.2,574.9 282.9,574.9 281.7,574.9 280.5,574.9 279.2,574.9 278.0,574.9 276.8,574.9 275.5,574.9 274.3,574.9 273.0,574.9 271.8,574.9 270.6,574.9 269.3,574.9 268.1,574.9 266.9,575.0 265.6,575.0 264.4,575.0 263.1,575.0 261.9,575.0 260.7,575.0 259.4,575.0 258.2,575.0 256.9,575.0 255.7,575.0 254.5,575.0 253.2,575.0 252.0,575.0 250.8,575.0 249.5,575.0 248.3,575.0 247.0,575.0 245.8,575.0 244.6,575.0 243.3,575.0 242.1,575.0 240.9,575.0 239.6,575.0 238.4,575.0 237.1,575.0 235.9,575.0 234.7,575.0 233.4,575.0 232.2,575.0 230.9,575.0 229.7,575.0 228.5,575.0 227.2,575.0 226.0,575.0 224.8,575.0 223.5,575.0 222.3,575.0 221.0,575.0 219.8,575.0 218.6,575.0 217.3,575.0 216.1,575.0 214.9,575.0 213.6,575.0 212.4,575.0 211.1,575.0 209.9,575.0 208.7,575.0 207.4,575.0 206.2,575.0 205.0,575.0 203.7,575.0 202.5,575.0 201.2,575.0 200.0,575.0 198.8,575.0 197.5,575.0 196.3,575.0 195.0,575.0 193.8,575.0 192.6,575.0 191.3,575.0 190.1,575.0 188.9,575.0 187.6,575.0 186.4,575.0 185.1,575.0 183.9,575.0 182.7,575.0 181.4,575.0 180.2,575.0 179.0,575.0 177.7,575.0 176.5,575.0 175.2,575.0 174.0,575.0 172.8,575.0 171.5,575.0 170.3,575.0 169.1,575.0 167.8,575.0 166.6,575.0 165.3,575.0 164.1,575.0 162.9,575.0 161.6,575.0 160.4,575.0 159.1,575.0 157.9,575.0 156.7,575.0 155.4,575.0 154.2,575.0 153.0,575.0 151.7,575.0 150.5,575.0 149.2,575.0 148.0,575.0 146.8,575.0 145.5,575.0 144.3,575.0 143.1,575.0 141.8,575.0 140.6,575.0 139.3,575.0 138.1,575.0 136.9,575.0 135.6,575.0 134.4,575.0 133.1,575.0 131.9,575.0 130.7,575.0 129.4,575.0 128.2,575.0 127.0,575.0 125.7,575.0 124.5,575.0 123.2,575.0 122.0,575.0 120.8,575.0 119.5,575.0 118.3,575.0 117.1,575.0 115.8,575.0 114.6,575.0 113.3,575.0 112.1,575.0 110.9,575.0 109.6,575.0 108.4,575.0 107.1,575.0 105.9,575.0 104.7,575.0 103.4,575.0 102.2,575.0 101.0,575.0 99.7,575.0 98.5,575.0 97.2,575.0 96.0,575.0 94.8,575.0 93.5,575.0 92.3,575.0 91.1,575.0 89.8,575.0 88.6,575.0 87.3,575.0 86.1,575.0 84.9,575.0 83.6,575.0 82.4,575.0 Z"/></clipPath><mask id="mOut5" maskUnits="userSpaceOnUse" x="0" y="0" width="2500" height="715"><rect width="2500" height="715" fill="#fff"/><path d="M82.4,559.0 83.6,559.0 84.9,559.0 86.1,559.0 87.3,559.0 88.6,559.0 89.8,559.0 91.1,559.0 92.3,559.0 93.5,559.0 94.8,559.0 96.0,559.0 97.2,559.0 98.5,559.0 99.7,559.0 101.0,559.0 102.2,559.0 103.4,559.0 104.7,559.0 105.9,559.0 107.1,559.0 108.4,559.0 109.6,559.0 110.9,559.0 112.1,559.0 113.3,559.0 114.6,559.0 115.8,559.0 117.1,559.0 118.3,559.0 119.5,559.0 120.8,559.0 122.0,559.0 123.2,559.0 124.5,559.0 125.7,559.0 127.0,559.0 128.2,559.0 129.4,559.0 130.7,559.0 131.9,559.0 133.1,559.0 134.4,559.0 135.6,559.0 136.9,559.0 138.1,559.0 139.3,559.0 140.6,559.0 141.8,559.0 143.1,558.9 144.3,558.9 145.5,558.9 146.8,558.9 148.0,558.9 149.2,558.9 150.5,558.9 151.7,558.9 153.0,558.9 154.2,558.9 155.4,558.9 156.7,558.9 157.9,558.9 159.1,558.9 160.4,558.9 161.6,558.9 162.9,558.9 164.1,558.9 165.3,558.9 166.6,558.9 167.8,558.9 169.1,558.9 170.3,558.9 171.5,558.9 172.8,558.9 174.0,558.9 175.2,558.9 176.5,558.9 177.7,558.9 179.0,558.8 180.2,558.8 181.4,558.8 182.7,558.8 183.9,558.8 185.1,558.8 186.4,558.8 187.6,558.8 188.9,558.8 190.1,558.8 191.3,558.8 192.6,558.8 193.8,558.8 195.0,558.8 196.3,558.8 197.5,558.8 198.8,558.8 200.0,558.8 201.2,558.8 202.5,558.8 203.7,558.8 205.0,558.7 206.2,558.7 207.4,558.7 208.7,558.7 209.9,558.7 211.1,558.7 212.4,558.7 213.6,558.7 214.9,558.7 216.1,558.7 217.3,558.7 218.6,558.7 219.8,558.7 221.0,558.7 222.3,558.7 223.5,558.7 224.8,558.6 226.0,558.6 227.2,558.6 228.5,558.6 229.7,558.6 230.9,558.6 232.2,558.6 233.4,558.6 234.7,558.6 235.9,558.6 237.1,558.6 238.4,558.6 239.6,558.6 240.9,558.5 242.1,558.5 243.3,558.5 244.6,558.5 245.8,558.5 247.0,558.5 248.3,558.5 249.5,558.5 250.8,558.5 252.0,558.5 253.2,558.5 254.5,558.4 255.7,558.4 256.9,558.4 258.2,558.4 259.4,558.4 260.7,558.4 261.9,558.4 263.1,558.4 264.4,558.4 265.6,558.3 266.9,558.3 268.1,558.3 269.3,558.3 270.6,558.3 271.8,558.3 273.0,558.3 274.3,558.3 275.5,558.2 276.8,558.2 278.0,558.2 279.2,558.2 280.5,558.2 281.7,558.2 282.9,558.2 284.2,558.2 285.4,558.1 286.7,558.1 287.9,558.1 289.1,558.1 290.4,558.1 291.6,558.1 292.9,558.1 294.1,558.0 295.3,558.0 296.6,558.0 297.8,558.0 299.0,558.0 300.3,558.0 301.5,557.9 302.8,557.9 304.0,557.9 305.2,557.9 306.5,557.9 307.7,557.8 308.9,557.8 310.2,557.8 311.4,557.8 312.7,557.8 313.9,557.8 315.1,557.7 316.4,557.7 317.6,557.7 318.8,557.7 320.1,557.6 321.3,557.6 322.6,557.6 323.8,557.6 325.0,557.6 326.3,557.5 327.5,557.5 328.8,557.5 330.0,557.5 331.2,557.4 332.5,557.4 333.7,557.4 334.9,557.4 336.2,557.3 337.4,557.3 338.7,557.3 339.9,557.3 341.1,557.2 342.4,557.2 343.6,557.2 344.8,557.2 346.1,557.1 347.3,557.1 348.6,557.1 349.8,557.0 351.0,557.0 352.3,557.0 353.5,556.9 354.8,556.9 356.0,556.9 357.2,556.8 358.5,556.8 359.7,556.8 360.9,556.7 362.2,556.7 363.4,556.7 364.7,556.6 365.9,556.6 367.1,556.6 368.4,556.5 369.6,556.5 370.8,556.4 372.1,556.4 373.3,556.4 374.6,556.3 375.8,556.3 377.0,556.2 378.3,556.2 379.5,556.2 380.7,556.1 382.0,556.1 383.2,556.0 384.5,556.0 385.7,555.9 386.9,555.9 388.2,555.9 389.4,555.8 390.7,555.8 391.9,555.7 393.1,555.7 394.4,555.6 395.6,555.6 396.8,555.5 398.1,555.4 399.3,555.4 400.6,555.3 401.8,555.3 403.0,555.2 404.3,555.2 405.5,555.1 406.7,555.1 408.0,555.0 409.2,554.9 410.5,554.9 411.7,554.8 412.9,554.8 414.2,554.7 415.4,554.6 416.6,554.6 417.9,554.5 419.1,554.4 420.4,554.4 421.6,554.3 422.8,554.2 424.1,554.1 425.3,554.1 426.6,554.0 427.8,553.9 429.0,553.9 430.3,553.8 431.5,553.7 432.7,553.6 434.0,553.5 435.2,553.5 436.5,553.4 437.7,553.3 438.9,553.2 440.2,553.1 441.4,553.0 442.6,552.9 443.9,552.9 445.1,552.8 446.4,552.7 447.6,552.6 448.8,552.5 450.1,552.4 451.3,552.3 452.6,552.2 453.8,552.1 455.0,552.0 456.3,551.9 457.5,551.8 458.7,551.7 460.0,551.6 461.2,551.5 462.5,551.3 463.7,551.2 464.9,551.1 466.2,551.0 467.4,550.9 468.6,550.8 469.9,550.6 471.1,550.5 472.4,550.4 473.6,550.3 474.8,550.1 476.1,550.0 477.3,549.9 478.6,549.7 479.8,549.6 481.0,549.5 482.3,549.3 483.5,549.2 484.7,549.0 486.0,548.9 487.2,548.7 488.5,548.6 489.7,548.4 490.9,548.3 492.2,548.1 493.4,547.9 494.6,547.8 495.9,547.6 497.1,547.5 498.4,547.3 499.6,547.1 500.8,546.9 502.1,546.8 503.3,546.6 504.5,546.4 505.8,546.2 507.0,546.0 508.3,545.8 509.5,545.6 510.7,545.4 512.0,545.2 513.2,545.0 514.5,544.8 515.7,544.6 516.9,544.4 518.2,544.2 519.4,544.0 520.6,543.8 521.9,543.5 523.1,543.3 524.4,543.1 525.6,542.8 526.8,542.6 528.1,542.4 529.3,542.1 530.5,541.9 531.8,541.6 533.0,541.3 534.3,541.1 535.5,540.8 536.7,540.6 538.0,540.3 539.2,540.0 540.5,539.7 541.7,539.4 542.9,539.2 544.2,538.9 545.4,538.6 546.6,538.3 547.9,538.0 549.1,537.6 550.4,537.3 551.6,537.0 552.8,536.7 554.1,536.4 555.3,536.0 556.5,535.7 557.8,535.3 559.0,535.0 560.3,534.6 561.5,534.3 562.7,533.9 564.0,533.5 565.2,533.2 566.4,532.8 567.7,532.4 568.9,532.0 570.2,531.6 571.4,531.2 572.6,530.8 573.9,530.4 575.1,529.9 576.4,529.5 577.6,529.0 578.8,528.6 580.1,528.1 581.3,527.7 582.5,527.2 583.8,526.7 585.0,526.2 586.3,525.7 587.5,525.2 588.7,524.7 590.0,524.2 591.2,523.6 592.4,523.1 593.7,522.5 594.9,522.0 596.2,521.4 597.4,520.8 598.6,520.3 599.9,519.7 601.1,519.0 602.4,518.4 603.6,517.8 604.8,517.2 606.1,516.5 607.3,515.9 608.5,515.2 609.8,514.5 611.0,513.8 612.3,513.1 613.5,512.4 614.7,511.7 616.0,510.9 617.2,510.2 618.4,509.4 619.7,508.6 620.9,507.8 622.2,507.0 623.4,506.2 624.6,505.4 625.9,504.5 627.1,503.7 628.3,502.8 629.6,501.9 630.8,501.0 632.1,500.1 633.3,499.1 634.5,498.2 635.8,497.2 637.0,496.2 638.3,495.2 639.5,494.2 640.7,493.1 642.0,492.1 643.2,491.0 644.4,489.9 645.7,488.8 646.9,487.6 648.2,486.5 649.4,485.3 650.6,484.1 651.9,482.9 653.1,481.7 654.3,480.4 655.6,479.2 656.8,477.9 658.1,476.6 659.3,475.3 660.5,474.0 661.8,472.6 663.0,471.2 664.2,469.8 665.5,468.4 666.7,466.9 668.0,465.5 669.2,464.0 670.4,462.4 671.7,460.9 672.9,459.3 674.2,457.7 675.4,456.1 676.6,454.5 677.9,452.8 679.1,451.1 680.3,449.4 681.6,447.6 682.8,445.8 684.1,444.0 685.3,442.2 686.5,440.3 687.8,438.4 689.0,436.4 690.2,434.5 691.5,432.5 692.7,430.4 694.0,428.4 695.2,426.3 696.4,424.2 697.7,422.0 698.9,419.8 700.2,417.9 701.4,416.0 702.6,414.1 703.9,412.2 705.1,410.2 706.3,408.2 707.6,406.2 708.8,404.1 710.1,402.0 711.3,399.9 712.5,397.8 713.8,395.6 715.0,393.4 716.2,391.2 717.5,389.0 718.7,386.7 720.0,384.4 721.2,382.1 722.4,379.7 723.7,377.3 724.9,374.9 726.1,372.5 727.4,370.0 728.6,367.5 729.9,364.9 731.1,362.4 732.3,359.7 733.6,357.1 734.8,354.4 736.1,351.7 737.3,348.9 738.5,346.1 739.8,343.3 741.0,340.4 742.2,337.5 743.5,334.5 744.7,331.5 746.0,328.5 747.2,325.4 748.4,322.3 749.7,319.2 750.9,316.0 752.1,312.8 753.4,309.5 754.6,306.2 755.9,302.9 757.1,299.5 758.3,296.1 759.6,292.6 760.8,289.0 762.1,285.5 763.3,281.9 764.5,278.2 765.8,274.3 767.0,270.4 768.2,266.4 769.5,262.4 770.7,258.3 772.0,254.2 773.2,250.0 774.4,245.7 775.7,241.4 776.9,237.1 778.1,232.6 779.4,228.2 780.6,223.6 781.9,219.0 783.1,214.4 784.3,209.6 785.6,204.2 786.8,198.6 788.1,193.0 789.3,187.2 790.5,181.4 791.8,175.5 793.0,169.5 794.2,163.4 795.5,157.2 796.7,151.0 798.0,144.6 799.2,138.1 800.4,131.5 801.7,124.8 802.9,118.0 804.1,111.1 805.4,104.1 806.6,97.0 807.9,89.8 809.1,82.5 810.3,75.0 811.6,67.5 812.8,59.8 814.0,52.0 815.3,44.1 816.5,36.0 817.8,27.9 819.0,19.6 820.2,11.2 821.5,2.6 822.7,-6.1 824.0,-14.9 825.2,-23.8 826.4,-32.9 827.7,-42.2 828.9,-51.4 830.1,-60.8 831.4,-70.3 832.6,-80.0 833.9,-89.8 835.1,-99.8 836.3,-109.9 837.6,-120.2 838.8,-130.7 840.0,-141.3 841.3,-152.0 842.5,-162.9 843.8,-174.0 843.8,7.3 842.5,15.0 841.3,22.7 840.0,30.2 838.8,37.7 837.6,45.0 836.3,52.3 835.1,59.4 833.9,66.4 832.6,73.4 831.4,80.3 830.1,87.0 828.9,93.7 827.7,100.3 826.4,106.7 825.2,113.0 824.0,119.2 822.7,125.4 821.5,131.5 820.2,137.4 819.0,143.3 817.8,149.2 816.5,154.9 815.3,160.6 814.0,166.2 812.8,171.7 811.6,177.2 810.3,182.6 809.1,187.9 807.9,193.1 806.6,198.3 805.4,203.4 804.1,208.4 802.9,213.4 801.7,218.3 800.4,223.1 799.2,227.9 798.0,232.6 796.7,237.3 795.5,241.8 794.2,246.4 793.0,250.8 791.8,255.3 790.5,259.6 789.3,263.9 788.1,268.1 786.8,272.3 785.6,276.4 784.3,280.5 783.1,285.1 781.9,289.6 780.6,294.0 779.4,298.3 778.1,302.6 776.9,306.8 775.7,311.0 774.4,315.1 773.2,319.1 772.0,323.1 770.7,327.0 769.5,330.8 768.2,334.6 767.0,338.3 765.8,342.0 764.5,345.6 763.3,349.3 762.1,352.9 760.8,356.5 759.6,360.0 758.3,363.5 757.1,366.9 755.9,370.2 754.6,373.5 753.4,376.8 752.1,379.9 750.9,383.1 749.7,386.2 748.4,389.2 747.2,392.2 746.0,395.2 744.7,398.1 743.5,400.9 742.2,403.7 741.0,406.5 739.8,409.2 738.5,411.9 737.3,414.5 736.1,417.1 734.8,419.7 733.6,422.2 732.3,424.6 731.1,427.1 729.9,429.5 728.6,431.9 727.4,434.2 726.1,436.5 724.9,438.8 723.7,441.0 722.4,443.2 721.2,445.3 720.0,447.4 718.7,449.5 717.5,451.6 716.2,453.6 715.0,455.6 713.8,457.5 712.5,459.4 711.3,461.3 710.1,463.2 708.8,465.0 707.6,466.8 706.3,468.6 705.1,470.4 703.9,472.1 702.6,473.8 701.4,475.4 700.2,477.1 698.9,478.7 697.7,480.1 696.4,481.4 695.2,482.8 694.0,484.1 692.7,485.4 691.5,486.7 690.2,487.9 689.0,489.2 687.8,490.4 686.5,491.7 685.3,492.9 684.1,494.1 682.8,495.2 681.6,496.4 680.3,497.5 679.1,498.7 677.9,499.8 676.6,500.9 675.4,502.0 674.2,503.1 672.9,504.1 671.7,505.2 670.4,506.2 669.2,507.3 668.0,508.3 666.7,509.3 665.5,510.3 664.2,511.2 663.0,512.2 661.8,513.2 660.5,514.1 659.3,515.0 658.1,516.0 656.8,516.9 655.6,517.8 654.3,518.6 653.1,519.5 651.9,520.3 650.6,521.2 649.4,522.0 648.2,522.8 646.9,523.6 645.7,524.4 644.4,525.2 643.2,526.0 642.0,526.8 640.7,527.5 639.5,528.3 638.3,529.0 637.0,529.8 635.8,530.5 634.5,531.2 633.3,531.9 632.1,532.6 630.8,533.3 629.6,534.0 628.3,534.7 627.1,535.4 625.9,536.0 624.6,536.7 623.4,537.3 622.2,538.0 620.9,538.6 619.7,539.2 618.4,539.9 617.2,540.5 616.0,541.1 614.7,541.7 613.5,542.2 612.3,542.8 611.0,543.4 609.8,544.0 608.5,544.5 607.3,545.1 606.1,545.6 604.8,546.2 603.6,546.7 602.4,547.2 601.1,547.7 599.9,548.3 598.6,548.8 597.4,549.3 596.2,549.8 594.9,550.2 593.7,550.7 592.4,551.2 591.2,551.7 590.0,552.1 588.7,552.6 587.5,553.1 586.3,553.5 585.0,553.9 583.8,554.4 582.5,554.8 581.3,555.2 580.1,555.6 578.8,556.1 577.6,556.5 576.4,556.9 575.1,557.3 573.9,557.7 572.6,558.1 571.4,558.4 570.2,558.8 568.9,559.2 567.7,559.6 566.4,559.9 565.2,560.3 564.0,560.7 562.7,561.0 561.5,561.3 560.3,561.7 559.0,562.0 557.8,562.4 556.5,562.7 555.3,563.0 554.1,563.3 552.8,563.6 551.6,564.0 550.4,564.3 549.1,564.6 547.9,564.9 546.6,565.1 545.4,565.4 544.2,565.7 542.9,566.0 541.7,566.3 540.5,566.6 539.2,566.8 538.0,567.1 536.7,567.3 535.5,567.6 534.3,567.9 533.0,568.1 531.8,568.4 530.5,568.6 529.3,568.8 528.1,569.1 526.8,569.3 525.6,569.5 524.4,569.8 523.1,570.0 521.9,570.2 520.6,570.4 519.4,570.7 518.2,570.9 516.9,571.1 515.7,571.3 514.5,571.5 513.2,571.7 512.0,571.9 510.7,572.1 509.5,572.3 508.3,572.5 507.0,572.6 505.8,572.8 504.5,573.0 503.3,573.2 502.1,573.4 500.8,573.5 499.6,573.7 498.4,573.9 497.1,574.0 495.9,574.2 494.6,574.4 493.4,574.5 492.2,574.7 490.9,574.8 489.7,575.0 488.5,575.2 487.2,575.3 486.0,575.4 484.7,575.6 483.5,575.7 482.3,575.9 481.0,576.0 479.8,576.1 478.6,576.3 477.3,576.4 476.1,576.5 474.8,576.7 473.6,576.8 472.4,576.9 471.1,577.1 469.9,577.2 468.6,577.3 467.4,577.4 466.2,577.5 464.9,577.6 463.7,577.8 462.5,577.9 461.2,578.0 460.0,578.1 458.7,578.2 457.5,578.3 456.3,578.4 455.0,578.5 453.8,578.6 452.6,578.7 451.3,578.8 450.1,578.9 448.8,579.0 447.6,579.1 446.4,579.2 445.1,579.3 443.9,579.4 442.6,579.5 441.4,579.6 440.2,579.6 438.9,579.7 437.7,579.8 436.5,579.9 435.2,580.0 434.0,580.1 432.7,580.1 431.5,580.2 430.3,580.3 429.0,580.4 427.8,580.4 426.6,580.5 425.3,580.6 424.1,580.7 422.8,580.7 421.6,580.8 420.4,580.9 419.1,580.9 417.9,581.0 416.6,581.1 415.4,581.1 414.2,581.2 412.9,581.3 411.7,581.3 410.5,581.4 409.2,581.4 408.0,581.5 406.7,581.6 405.5,581.6 404.3,581.7 403.0,581.7 401.8,581.8 400.6,581.8 399.3,581.9 398.1,582.0 396.8,582.0 395.6,582.1 394.4,582.1 393.1,582.2 391.9,582.2 390.7,582.3 389.4,582.3 388.2,582.4 386.9,582.4 385.7,582.4 384.5,582.5 383.2,582.5 382.0,582.6 380.7,582.6 379.5,582.7 378.3,582.7 377.0,582.7 375.8,582.8 374.6,582.8 373.3,582.9 372.1,582.9 370.8,582.9 369.6,583.0 368.4,583.0 367.1,583.1 365.9,583.1 364.7,583.1 363.4,583.2 362.2,583.2 360.9,583.2 359.7,583.3 358.5,583.3 357.2,583.3 356.0,583.4 354.8,583.4 353.5,583.4 352.3,583.5 351.0,583.5 349.8,583.5 348.6,583.6 347.3,583.6 346.1,583.6 344.8,583.6 343.6,583.7 342.4,583.7 341.1,583.7 339.9,583.8 338.7,583.8 337.4,583.8 336.2,583.8 334.9,583.9 333.7,583.9 332.5,583.9 331.2,583.9 330.0,584.0 328.8,584.0 327.5,584.0 326.3,584.0 325.0,584.1 323.8,584.1 322.6,584.1 321.3,584.1 320.1,584.1 318.8,584.2 317.6,584.2 316.4,584.2 315.1,584.2 313.9,584.2 312.7,584.3 311.4,584.3 310.2,584.3 308.9,584.3 307.7,584.3 306.5,584.4 305.2,584.4 304.0,584.4 302.8,584.4 301.5,584.4 300.3,584.5 299.0,584.5 297.8,584.5 296.6,584.5 295.3,584.5 294.1,584.5 292.9,584.5 291.6,584.6 290.4,584.6 289.1,584.6 287.9,584.6 286.7,584.6 285.4,584.6 284.2,584.7 282.9,584.7 281.7,584.7 280.5,584.7 279.2,584.7 278.0,584.7 276.8,584.7 275.5,584.7 274.3,584.8 273.0,584.8 271.8,584.8 270.6,584.8 269.3,584.8 268.1,584.8 266.9,584.8 265.6,584.8 264.4,584.9 263.1,584.9 261.9,584.9 260.7,584.9 259.4,584.9 258.2,584.9 256.9,584.9 255.7,584.9 254.5,584.9 253.2,584.9 252.0,585.0 250.8,585.0 249.5,585.0 248.3,585.0 247.0,585.0 245.8,585.0 244.6,585.0 243.3,585.0 242.1,585.0 240.9,585.0 239.6,585.0 238.4,585.1 237.1,585.1 235.9,585.1 234.7,585.1 233.4,585.1 232.2,585.1 230.9,585.1 229.7,585.1 228.5,585.1 227.2,585.1 226.0,585.1 224.8,585.1 223.5,585.1 222.3,585.2 221.0,585.2 219.8,585.2 218.6,585.2 217.3,585.2 216.1,585.2 214.9,585.2 213.6,585.2 212.4,585.2 211.1,585.2 209.9,585.2 208.7,585.2 207.4,585.2 206.2,585.2 205.0,585.2 203.7,585.2 202.5,585.3 201.2,585.3 200.0,585.3 198.8,585.3 197.5,585.3 196.3,585.3 195.0,585.3 193.8,585.3 192.6,585.3 191.3,585.3 190.1,585.3 188.9,585.3 187.6,585.3 186.4,585.3 185.1,585.3 183.9,585.3 182.7,585.3 181.4,585.3 180.2,585.3 179.0,585.3 177.7,585.3 176.5,585.4 175.2,585.4 174.0,585.4 172.8,585.4 171.5,585.4 170.3,585.4 169.1,585.4 167.8,585.4 166.6,585.4 165.3,585.4 164.1,585.4 162.9,585.4 161.6,585.4 160.4,585.4 159.1,585.4 157.9,585.4 156.7,585.4 155.4,585.4 154.2,585.4 153.0,585.4 151.7,585.4 150.5,585.4 149.2,585.4 148.0,585.4 146.8,585.4 145.5,585.4 144.3,585.4 143.1,585.4 141.8,585.4 140.6,585.4 139.3,585.5 138.1,585.5 136.9,585.5 135.6,585.5 134.4,585.5 133.1,585.5 131.9,585.5 130.7,585.5 129.4,585.5 128.2,585.5 127.0,585.5 125.7,585.5 124.5,585.5 123.2,585.5 122.0,585.5 120.8,585.5 119.5,585.5 118.3,585.5 117.1,585.5 115.8,585.5 114.6,585.5 113.3,585.5 112.1,585.5 110.9,585.5 109.6,585.5 108.4,585.5 107.1,585.5 105.9,585.5 104.7,585.5 103.4,585.5 102.2,585.5 101.0,585.5 99.7,585.5 98.5,585.5 97.2,585.5 96.0,585.5 94.8,585.5 93.5,585.5 92.3,585.5 91.1,585.5 89.8,585.5 88.6,585.5 87.3,585.5 86.1,585.5 84.9,585.5 83.6,585.5 82.4,585.5 Z" fill="#000"/></mask><clipPath id="cpB5x"><path d="M82.4,556.4 83.6,556.4 84.9,556.4 86.1,556.4 87.3,556.4 88.6,556.4 89.8,556.4 91.1,556.4 92.3,556.4 93.5,556.4 94.8,556.4 96.0,556.4 97.2,556.4 98.5,556.4 99.7,556.4 101.0,556.4 102.2,556.4 103.4,556.4 104.7,556.4 105.9,556.4 107.1,556.4 108.4,556.4 109.6,556.4 110.9,556.4 112.1,556.4 113.3,556.4 114.6,556.4 115.8,556.4 117.1,556.4 118.3,556.4 119.5,556.4 120.8,556.4 122.0,556.4 123.2,556.4 124.5,556.4 125.7,556.4 127.0,556.4 128.2,556.4 129.4,556.4 130.7,556.4 131.9,556.4 133.1,556.4 134.4,556.4 135.6,556.4 136.9,556.4 138.1,556.4 139.3,556.4 140.6,556.4 141.8,556.4 143.1,556.3 144.3,556.3 145.5,556.3 146.8,556.3 148.0,556.3 149.2,556.3 150.5,556.3 151.7,556.3 153.0,556.3 154.2,556.3 155.4,556.3 156.7,556.3 157.9,556.3 159.1,556.3 160.4,556.3 161.6,556.3 162.9,556.3 164.1,556.3 165.3,556.3 166.6,556.3 167.8,556.3 169.1,556.3 170.3,556.3 171.5,556.3 172.8,556.3 174.0,556.3 175.2,556.3 176.5,556.3 177.7,556.3 179.0,556.2 180.2,556.2 181.4,556.2 182.7,556.2 183.9,556.2 185.1,556.2 186.4,556.2 187.6,556.2 188.9,556.2 190.1,556.2 191.3,556.2 192.6,556.2 193.8,556.2 195.0,556.2 196.3,556.2 197.5,556.2 198.8,556.2 200.0,556.2 201.2,556.2 202.5,556.2 203.7,556.2 205.0,556.1 206.2,556.1 207.4,556.1 208.7,556.1 209.9,556.1 211.1,556.1 212.4,556.1 213.6,556.1 214.9,556.1 216.1,556.1 217.3,556.1 218.6,556.1 219.8,556.1 221.0,556.1 222.3,556.1 223.5,556.1 224.8,556.0 226.0,556.0 227.2,556.0 228.5,556.0 229.7,556.0 230.9,556.0 232.2,556.0 233.4,556.0 234.7,556.0 235.9,556.0 237.1,556.0 238.4,556.0 239.6,556.0 240.9,555.9 242.1,555.9 243.3,555.9 244.6,555.9 245.8,555.9 247.0,555.9 248.3,555.9 249.5,555.9 250.8,555.9 252.0,555.9 253.2,555.9 254.5,555.8 255.7,555.8 256.9,555.8 258.2,555.8 259.4,555.8 260.7,555.8 261.9,555.8 263.1,555.8 264.4,555.8 265.6,555.7 266.9,555.7 268.1,555.7 269.3,555.7 270.6,555.7 271.8,555.7 273.0,555.7 274.3,555.7 275.5,555.6 276.8,555.6 278.0,555.6 279.2,555.6 280.5,555.6 281.7,555.6 282.9,555.6 284.2,555.6 285.4,555.5 286.7,555.5 287.9,555.5 289.1,555.5 290.4,555.5 291.6,555.5 292.9,555.5 294.1,555.4 295.3,555.4 296.6,555.4 297.8,555.4 299.0,555.4 300.3,555.4 301.5,555.3 302.8,555.3 304.0,555.3 305.2,555.3 306.5,555.3 307.7,555.2 308.9,555.2 310.2,555.2 311.4,555.2 312.7,555.2 313.9,555.2 315.1,555.1 316.4,555.1 317.6,555.1 318.8,555.1 320.1,555.0 321.3,555.0 322.6,555.0 323.8,555.0 325.0,555.0 326.3,554.9 327.5,554.9 328.8,554.9 330.0,554.9 331.2,554.8 332.5,554.8 333.7,554.8 334.9,554.8 336.2,554.7 337.4,554.7 338.7,554.7 339.9,554.7 341.1,554.6 342.4,554.6 343.6,554.6 344.8,554.6 346.1,554.5 347.3,554.5 348.6,554.5 349.8,554.4 351.0,554.4 352.3,554.4 353.5,554.3 354.8,554.3 356.0,554.3 357.2,554.2 358.5,554.2 359.7,554.2 360.9,554.1 362.2,554.1 363.4,554.1 364.7,554.0 365.9,554.0 367.1,554.0 368.4,553.9 369.6,553.9 370.8,553.8 372.1,553.8 373.3,553.8 374.6,553.7 375.8,553.7 377.0,553.6 378.3,553.6 379.5,553.6 380.7,553.5 382.0,553.5 383.2,553.4 384.5,553.4 385.7,553.3 386.9,553.3 388.2,553.3 389.4,553.2 390.7,553.2 391.9,553.1 393.1,553.1 394.4,553.0 395.6,553.0 396.8,552.9 398.1,552.8 399.3,552.8 400.6,552.7 401.8,552.7 403.0,552.6 404.3,552.6 405.5,552.5 406.7,552.5 408.0,552.4 409.2,552.3 410.5,552.3 411.7,552.2 412.9,552.2 414.2,552.1 415.4,552.0 416.6,552.0 417.9,551.9 419.1,551.8 420.4,551.8 421.6,551.7 422.8,551.6 424.1,551.5 425.3,551.5 426.6,551.4 427.8,551.3 429.0,551.3 430.3,551.2 431.5,551.1 432.7,551.0 434.0,550.9 435.2,550.9 436.5,550.8 437.7,550.7 438.9,550.6 440.2,550.5 441.4,550.4 442.6,550.3 443.9,550.3 445.1,550.2 446.4,550.1 447.6,550.0 448.8,549.9 450.1,549.8 451.3,549.7 452.6,549.6 453.8,549.5 455.0,549.4 456.3,549.3 457.5,549.2 458.7,549.1 460.0,549.0 461.2,548.9 462.5,548.7 463.7,548.6 464.9,548.5 466.2,548.4 467.4,548.3 468.6,548.2 469.9,548.0 471.1,547.9 472.4,547.8 473.6,547.7 474.8,547.5 476.1,547.4 477.3,547.3 478.6,547.1 479.8,547.0 481.0,546.9 482.3,546.7 483.5,546.6 484.7,546.4 486.0,546.3 487.2,546.1 488.5,546.0 489.7,545.8 490.9,545.7 492.2,545.5 493.4,545.3 494.6,545.2 495.9,545.0 497.1,544.9 498.4,544.7 499.6,544.5 500.8,544.3 502.1,544.2 503.3,544.0 504.5,543.8 505.8,543.6 507.0,543.4 508.3,543.2 509.5,543.0 510.7,542.8 512.0,542.6 513.2,542.4 514.5,542.2 515.7,542.0 516.9,541.8 518.2,541.6 519.4,541.4 520.6,541.2 521.9,540.9 523.1,540.7 524.4,540.5 525.6,540.2 526.8,540.0 528.1,539.8 529.3,539.5 530.5,539.3 531.8,539.0 533.0,538.7 534.3,538.5 535.5,538.2 536.7,538.0 538.0,537.7 539.2,537.4 540.5,537.1 541.7,536.8 542.9,536.6 544.2,536.3 545.4,536.0 546.6,535.7 547.9,535.4 549.1,535.0 550.4,534.7 551.6,534.4 552.8,534.1 554.1,533.8 555.3,533.4 556.5,533.1 557.8,532.7 559.0,532.4 560.3,532.0 561.5,531.7 562.7,531.3 564.0,530.9 565.2,530.6 566.4,530.2 567.7,529.8 568.9,529.4 570.2,529.0 571.4,528.6 572.6,528.2 573.9,527.8 575.1,527.3 576.4,526.9 577.6,526.4 578.8,526.0 580.1,525.5 581.3,525.1 582.5,524.6 583.8,524.1 585.0,523.6 586.3,523.1 587.5,522.6 588.7,522.1 590.0,521.6 591.2,521.0 592.4,520.5 593.7,519.9 594.9,519.4 596.2,518.8 597.4,518.2 598.6,517.7 599.9,517.1 601.1,516.4 602.4,515.8 603.6,515.2 604.8,514.6 606.1,513.9 607.3,513.3 608.5,512.6 609.8,511.9 611.0,511.2 612.3,510.5 613.5,509.8 614.7,509.1 616.0,508.3 617.2,507.6 618.4,506.8 619.7,506.0 620.9,505.2 622.2,504.4 623.4,503.6 624.6,502.8 625.9,501.9 627.1,501.1 628.3,500.2 629.6,499.3 630.8,498.4 632.1,497.5 633.3,496.5 634.5,495.6 635.8,494.6 637.0,493.6 638.3,492.6 639.5,491.6 640.7,490.5 642.0,489.5 643.2,488.4 644.4,487.3 645.7,486.2 646.9,485.0 648.2,483.9 649.4,482.7 650.6,481.5 651.9,480.3 653.1,479.1 654.3,477.8 655.6,476.6 656.8,475.3 658.1,474.0 659.3,472.7 660.5,471.4 661.8,470.0 663.0,468.6 664.2,467.2 665.5,465.8 666.7,464.3 668.0,462.9 669.2,461.4 670.4,459.8 671.7,458.3 672.9,456.7 674.2,455.1 675.4,453.5 676.6,451.9 677.9,450.2 679.1,448.5 680.3,446.8 681.6,445.0 682.8,443.2 684.1,441.4 685.3,439.6 686.5,437.7 687.8,435.8 689.0,433.8 690.2,431.9 691.5,429.9 692.7,427.8 694.0,425.8 695.2,423.7 696.4,421.6 697.7,419.4 698.9,417.2 700.2,415.3 701.4,413.4 702.6,411.5 703.9,409.6 705.1,407.6 706.3,405.6 707.6,403.6 708.8,401.5 710.1,399.4 711.3,397.3 712.5,395.2 713.8,393.0 715.0,390.8 716.2,388.6 717.5,386.4 718.7,384.1 720.0,381.8 721.2,379.5 722.4,377.1 723.7,374.7 724.9,372.3 726.1,369.9 727.4,367.4 728.6,364.9 729.9,362.3 731.1,359.8 732.3,357.1 733.6,354.5 734.8,351.8 736.1,349.1 737.3,346.3 738.5,343.5 739.8,340.7 741.0,337.8 742.2,334.9 743.5,331.9 744.7,328.9 746.0,325.9 747.2,322.8 748.4,319.7 749.7,316.6 750.9,313.4 752.1,310.2 753.4,306.9 754.6,303.6 755.9,300.3 757.1,296.9 758.3,293.5 759.6,290.0 760.8,286.4 762.1,282.9 763.3,279.3 764.5,275.6 765.8,271.7 767.0,267.8 768.2,263.8 769.5,259.8 770.7,255.7 772.0,251.6 773.2,247.4 774.4,243.1 775.7,238.8 776.9,234.5 778.1,230.0 779.4,225.6 780.6,221.0 781.9,216.4 783.1,211.8 784.3,207.0 785.6,201.6 786.8,196.0 788.1,190.4 789.3,184.6 790.5,178.8 791.8,172.9 793.0,166.9 794.2,160.8 795.5,154.6 796.7,148.4 798.0,142.0 799.2,135.5 800.4,128.9 801.7,122.2 802.9,115.4 804.1,108.5 805.4,101.5 806.6,94.4 807.9,87.2 809.1,79.9 810.3,72.4 811.6,64.9 812.8,57.2 814.0,49.4 815.3,41.5 816.5,33.4 817.8,25.3 819.0,17.0 820.2,8.6 821.5,0.0 822.7,-8.7 824.0,-17.5 825.2,-26.4 826.4,-35.5 827.7,-44.8 828.9,-54.0 830.1,-63.4 831.4,-72.9 832.6,-82.6 833.9,-92.4 835.1,-102.4 836.3,-112.5 837.6,-122.8 838.8,-133.3 840.0,-143.9 841.3,-154.6 842.5,-165.5 843.8,-176.6 843.8,7.3 842.5,15.0 841.3,22.7 840.0,30.2 838.8,37.7 837.6,45.0 836.3,52.3 835.1,59.4 833.9,66.4 832.6,73.4 831.4,80.3 830.1,87.0 828.9,93.7 827.7,100.3 826.4,106.7 825.2,113.0 824.0,119.2 822.7,125.4 821.5,131.5 820.2,137.4 819.0,143.3 817.8,149.2 816.5,154.9 815.3,160.6 814.0,166.2 812.8,171.7 811.6,177.2 810.3,182.6 809.1,187.9 807.9,193.1 806.6,198.3 805.4,203.4 804.1,208.4 802.9,213.4 801.7,218.3 800.4,223.1 799.2,227.9 798.0,232.6 796.7,237.3 795.5,241.8 794.2,246.4 793.0,250.8 791.8,255.3 790.5,259.6 789.3,263.9 788.1,268.1 786.8,272.3 785.6,276.4 784.3,280.5 783.1,285.1 781.9,289.6 780.6,294.0 779.4,298.3 778.1,302.6 776.9,306.8 775.7,311.0 774.4,315.1 773.2,319.1 772.0,323.1 770.7,327.0 769.5,330.8 768.2,334.6 767.0,338.3 765.8,342.0 764.5,345.6 763.3,349.3 762.1,352.9 760.8,356.5 759.6,360.0 758.3,363.5 757.1,366.9 755.9,370.2 754.6,373.5 753.4,376.8 752.1,379.9 750.9,383.1 749.7,386.2 748.4,389.2 747.2,392.2 746.0,395.2 744.7,398.1 743.5,400.9 742.2,403.7 741.0,406.5 739.8,409.2 738.5,411.9 737.3,414.5 736.1,417.1 734.8,419.7 733.6,422.2 732.3,424.6 731.1,427.1 729.9,429.5 728.6,431.9 727.4,434.2 726.1,436.5 724.9,438.8 723.7,441.0 722.4,443.2 721.2,445.3 720.0,447.4 718.7,449.5 717.5,451.6 716.2,453.6 715.0,455.6 713.8,457.5 712.5,459.4 711.3,461.3 710.1,463.2 708.8,465.0 707.6,466.8 706.3,468.6 705.1,470.4 703.9,472.1 702.6,473.8 701.4,475.4 700.2,477.1 698.9,478.7 697.7,480.1 696.4,481.4 695.2,482.8 694.0,484.1 692.7,485.4 691.5,486.7 690.2,487.9 689.0,489.2 687.8,490.4 686.5,491.7 685.3,492.9 684.1,494.1 682.8,495.2 681.6,496.4 680.3,497.5 679.1,498.7 677.9,499.8 676.6,500.9 675.4,502.0 674.2,503.1 672.9,504.1 671.7,505.2 670.4,506.2 669.2,507.3 668.0,508.3 666.7,509.3 665.5,510.3 664.2,511.2 663.0,512.2 661.8,513.2 660.5,514.1 659.3,515.0 658.1,516.0 656.8,516.9 655.6,517.8 654.3,518.6 653.1,519.5 651.9,520.3 650.6,521.2 649.4,522.0 648.2,522.8 646.9,523.6 645.7,524.4 644.4,525.2 643.2,526.0 642.0,526.8 640.7,527.5 639.5,528.3 638.3,529.0 637.0,529.8 635.8,530.5 634.5,531.2 633.3,531.9 632.1,532.6 630.8,533.3 629.6,534.0 628.3,534.7 627.1,535.4 625.9,536.0 624.6,536.7 623.4,537.3 622.2,538.0 620.9,538.6 619.7,539.2 618.4,539.9 617.2,540.5 616.0,541.1 614.7,541.7 613.5,542.2 612.3,542.8 611.0,543.4 609.8,544.0 608.5,544.5 607.3,545.1 606.1,545.6 604.8,546.2 603.6,546.7 602.4,547.2 601.1,547.7 599.9,548.3 598.6,548.8 597.4,549.3 596.2,549.8 594.9,550.2 593.7,550.7 592.4,551.2 591.2,551.7 590.0,552.1 588.7,552.6 587.5,553.1 586.3,553.5 585.0,553.9 583.8,554.4 582.5,554.8 581.3,555.2 580.1,555.6 578.8,556.1 577.6,556.5 576.4,556.9 575.1,557.3 573.9,557.7 572.6,558.1 571.4,558.4 570.2,558.8 568.9,559.2 567.7,559.6 566.4,559.9 565.2,560.3 564.0,560.7 562.7,561.0 561.5,561.3 560.3,561.7 559.0,562.0 557.8,562.4 556.5,562.7 555.3,563.0 554.1,563.3 552.8,563.6 551.6,564.0 550.4,564.3 549.1,564.6 547.9,564.9 546.6,565.1 545.4,565.4 544.2,565.7 542.9,566.0 541.7,566.3 540.5,566.6 539.2,566.8 538.0,567.1 536.7,567.3 535.5,567.6 534.3,567.9 533.0,568.1 531.8,568.4 530.5,568.6 529.3,568.8 528.1,569.1 526.8,569.3 525.6,569.5 524.4,569.8 523.1,570.0 521.9,570.2 520.6,570.4 519.4,570.7 518.2,570.9 516.9,571.1 515.7,571.3 514.5,571.5 513.2,571.7 512.0,571.9 510.7,572.1 509.5,572.3 508.3,572.5 507.0,572.6 505.8,572.8 504.5,573.0 503.3,573.2 502.1,573.4 500.8,573.5 499.6,573.7 498.4,573.9 497.1,574.0 495.9,574.2 494.6,574.4 493.4,574.5 492.2,574.7 490.9,574.8 489.7,575.0 488.5,575.2 487.2,575.3 486.0,575.4 484.7,575.6 483.5,575.7 482.3,575.9 481.0,576.0 479.8,576.1 478.6,576.3 477.3,576.4 476.1,576.5 474.8,576.7 473.6,576.8 472.4,576.9 471.1,577.1 469.9,577.2 468.6,577.3 467.4,577.4 466.2,577.5 464.9,577.6 463.7,577.8 462.5,577.9 461.2,578.0 460.0,578.1 458.7,578.2 457.5,578.3 456.3,578.4 455.0,578.5 453.8,578.6 452.6,578.7 451.3,578.8 450.1,578.9 448.8,579.0 447.6,579.1 446.4,579.2 445.1,579.3 443.9,579.4 442.6,579.5 441.4,579.6 440.2,579.6 438.9,579.7 437.7,579.8 436.5,579.9 435.2,580.0 434.0,580.1 432.7,580.1 431.5,580.2 430.3,580.3 429.0,580.4 427.8,580.4 426.6,580.5 425.3,580.6 424.1,580.7 422.8,580.7 421.6,580.8 420.4,580.9 419.1,580.9 417.9,581.0 416.6,581.1 415.4,581.1 414.2,581.2 412.9,581.3 411.7,581.3 410.5,581.4 409.2,581.4 408.0,581.5 406.7,581.6 405.5,581.6 404.3,581.7 403.0,581.7 401.8,581.8 400.6,581.8 399.3,581.9 398.1,582.0 396.8,582.0 395.6,582.1 394.4,582.1 393.1,582.2 391.9,582.2 390.7,582.3 389.4,582.3 388.2,582.4 386.9,582.4 385.7,582.4 384.5,582.5 383.2,582.5 382.0,582.6 380.7,582.6 379.5,582.7 378.3,582.7 377.0,582.7 375.8,582.8 374.6,582.8 373.3,582.9 372.1,582.9 370.8,582.9 369.6,583.0 368.4,583.0 367.1,583.1 365.9,583.1 364.7,583.1 363.4,583.2 362.2,583.2 360.9,583.2 359.7,583.3 358.5,583.3 357.2,583.3 356.0,583.4 354.8,583.4 353.5,583.4 352.3,583.5 351.0,583.5 349.8,583.5 348.6,583.6 347.3,583.6 346.1,583.6 344.8,583.6 343.6,583.7 342.4,583.7 341.1,583.7 339.9,583.8 338.7,583.8 337.4,583.8 336.2,583.8 334.9,583.9 333.7,583.9 332.5,583.9 331.2,583.9 330.0,584.0 328.8,584.0 327.5,584.0 326.3,584.0 325.0,584.1 323.8,584.1 322.6,584.1 321.3,584.1 320.1,584.1 318.8,584.2 317.6,584.2 316.4,584.2 315.1,584.2 313.9,584.2 312.7,584.3 311.4,584.3 310.2,584.3 308.9,584.3 307.7,584.3 306.5,584.4 305.2,584.4 304.0,584.4 302.8,584.4 301.5,584.4 300.3,584.5 299.0,584.5 297.8,584.5 296.6,584.5 295.3,584.5 294.1,584.5 292.9,584.5 291.6,584.6 290.4,584.6 289.1,584.6 287.9,584.6 286.7,584.6 285.4,584.6 284.2,584.7 282.9,584.7 281.7,584.7 280.5,584.7 279.2,584.7 278.0,584.7 276.8,584.7 275.5,584.7 274.3,584.8 273.0,584.8 271.8,584.8 270.6,584.8 269.3,584.8 268.1,584.8 266.9,584.8 265.6,584.8 264.4,584.9 263.1,584.9 261.9,584.9 260.7,584.9 259.4,584.9 258.2,584.9 256.9,584.9 255.7,584.9 254.5,584.9 253.2,584.9 252.0,585.0 250.8,585.0 249.5,585.0 248.3,585.0 247.0,585.0 245.8,585.0 244.6,585.0 243.3,585.0 242.1,585.0 240.9,585.0 239.6,585.0 238.4,585.1 237.1,585.1 235.9,585.1 234.7,585.1 233.4,585.1 232.2,585.1 230.9,585.1 229.7,585.1 228.5,585.1 227.2,585.1 226.0,585.1 224.8,585.1 223.5,585.1 222.3,585.2 221.0,585.2 219.8,585.2 218.6,585.2 217.3,585.2 216.1,585.2 214.9,585.2 213.6,585.2 212.4,585.2 211.1,585.2 209.9,585.2 208.7,585.2 207.4,585.2 206.2,585.2 205.0,585.2 203.7,585.2 202.5,585.3 201.2,585.3 200.0,585.3 198.8,585.3 197.5,585.3 196.3,585.3 195.0,585.3 193.8,585.3 192.6,585.3 191.3,585.3 190.1,585.3 188.9,585.3 187.6,585.3 186.4,585.3 185.1,585.3 183.9,585.3 182.7,585.3 181.4,585.3 180.2,585.3 179.0,585.3 177.7,585.3 176.5,585.4 175.2,585.4 174.0,585.4 172.8,585.4 171.5,585.4 170.3,585.4 169.1,585.4 167.8,585.4 166.6,585.4 165.3,585.4 164.1,585.4 162.9,585.4 161.6,585.4 160.4,585.4 159.1,585.4 157.9,585.4 156.7,585.4 155.4,585.4 154.2,585.4 153.0,585.4 151.7,585.4 150.5,585.4 149.2,585.4 148.0,585.4 146.8,585.4 145.5,585.4 144.3,585.4 143.1,585.4 141.8,585.4 140.6,585.4 139.3,585.5 138.1,585.5 136.9,585.5 135.6,585.5 134.4,585.5 133.1,585.5 131.9,585.5 130.7,585.5 129.4,585.5 128.2,585.5 127.0,585.5 125.7,585.5 124.5,585.5 123.2,585.5 122.0,585.5 120.8,585.5 119.5,585.5 118.3,585.5 117.1,585.5 115.8,585.5 114.6,585.5 113.3,585.5 112.1,585.5 110.9,585.5 109.6,585.5 108.4,585.5 107.1,585.5 105.9,585.5 104.7,585.5 103.4,585.5 102.2,585.5 101.0,585.5 99.7,585.5 98.5,585.5 97.2,585.5 96.0,585.5 94.8,585.5 93.5,585.5 92.3,585.5 91.1,585.5 89.8,585.5 88.6,585.5 87.3,585.5 86.1,585.5 84.9,585.5 83.6,585.5 82.4,585.5 Z"/></clipPath></defs>
<line x1="90.5" y1="595.4" x2="830.0" y2="595.4" stroke="#8EE05A" stroke-width="1.6" stroke-dasharray="1.6 4.7"/>
<g clip-path="url(#cpA)">
<path d="M82.4,541.1 83.6,541.1 84.9,541.1 86.1,541.1 87.3,541.1 88.6,541.1 89.8,541.1 91.1,541.1 92.3,541.1 93.5,541.1 94.8,541.1 96.0,541.1 97.2,541.1 98.5,541.1 99.7,541.1 101.0,541.1 102.2,541.1 103.4,541.1 104.7,541.1 105.9,541.1 107.1,541.1 108.4,541.1 109.6,541.1 110.9,541.1 112.1,541.1 113.3,541.1 114.6,541.1 115.8,541.1 117.1,541.1 118.3,541.1 119.5,541.1 120.8,541.1 122.0,541.1 123.2,541.1 124.5,541.1 125.7,541.1 127.0,541.1 128.2,541.1 129.4,541.1 130.7,541.1 131.9,541.1 133.1,541.1 134.4,541.1 135.6,541.1 136.9,541.1 138.1,541.1 139.3,541.1 140.6,541.1 141.8,541.1 143.1,541.1 144.3,541.1 145.5,541.1 146.8,541.1 148.0,541.1 149.2,541.1 150.5,541.1 151.7,541.1 153.0,541.1 154.2,541.1 155.4,541.1 156.7,541.1 157.9,541.1 159.1,541.1 160.4,541.1 161.6,541.1 162.9,541.1 164.1,541.1 165.3,541.1 166.6,541.1 167.8,541.1 169.1,541.1 170.3,541.1 171.5,541.1 172.8,541.1 174.0,541.1 175.2,541.1 176.5,541.1 177.7,541.1 179.0,541.1 180.2,541.1 181.4,541.1 182.7,541.1 183.9,541.1 185.1,541.1 186.4,541.1 187.6,541.1 188.9,541.1 190.1,541.1 191.3,541.1 192.6,541.1 193.8,541.1 195.0,541.1 196.3,541.1 197.5,541.1 198.8,541.1 200.0,541.1 201.2,541.1 202.5,541.1 203.7,541.1 205.0,541.1 206.2,541.1 207.4,541.1 208.7,541.1 209.9,541.1 211.1,541.1 212.4,541.1 213.6,541.1 214.9,541.1 216.1,541.1 217.3,541.1 218.6,541.1 219.8,541.1 221.0,541.1 222.3,541.1 223.5,541.1 224.8,541.1 226.0,541.1 227.2,541.1 228.5,541.1 229.7,541.1 230.9,541.1 232.2,541.1 233.4,541.1 234.7,541.1 235.9,541.1 237.1,541.1 238.4,541.1 239.6,541.1 240.9,541.1 242.1,541.1 243.3,541.1 244.6,541.1 245.8,541.1 247.0,541.1 248.3,541.1 249.5,541.1 250.8,541.1 252.0,541.1 253.2,541.1 254.5,541.1 255.7,541.1 256.9,541.1 258.2,541.1 259.4,541.1 260.7,541.1 261.9,541.1 263.1,541.1 264.4,541.1 265.6,541.1 266.9,541.1 268.1,541.1 269.3,541.1 270.6,541.1 271.8,541.1 273.0,541.1 274.3,541.1 275.5,541.1 276.8,541.1 278.0,541.1 279.2,541.1 280.5,541.1 281.7,541.1 282.9,541.1 284.2,541.1 285.4,541.1 286.7,541.1 287.9,541.1 289.1,541.1 290.4,541.1 291.6,541.1 292.9,541.1 294.1,541.1 295.3,541.1 296.6,541.1 297.8,541.1 299.0,541.1 300.3,541.1 301.5,541.1 302.8,541.1 304.0,541.1 305.2,541.1 306.5,541.1 307.7,541.1 308.9,541.1 310.2,541.1 311.4,541.1 312.7,541.1 313.9,541.1 315.1,541.1 316.4,541.1 317.6,541.1 318.8,541.1 320.1,541.1 321.3,541.1 322.6,541.1 323.8,541.1 325.0,541.1 326.3,541.1 327.5,541.1 328.8,541.1 330.0,541.1 331.2,541.1 332.5,541.1 333.7,541.1 334.9,541.1 336.2,541.1 337.4,541.1 338.7,541.1 339.9,541.1 341.1,541.1 342.4,541.1 343.6,541.1 344.8,541.1 346.1,541.1 347.3,541.1 348.6,541.1 349.8,541.1 351.0,541.1 352.3,541.1 353.5,541.1 354.8,541.1 356.0,541.1 357.2,541.1 358.5,541.1 359.7,541.1 360.9,541.1 362.2,541.1 363.4,541.1 364.7,541.1 365.9,541.1 367.1,541.1 368.4,541.1 369.6,541.1 370.8,541.1 372.1,541.0 373.3,541.0 374.6,541.0 375.8,541.0 377.0,541.0 378.3,541.0 379.5,541.0 380.7,541.0 382.0,541.0 383.2,541.0 384.5,541.0 385.7,541.0 386.9,541.0 388.2,541.0 389.4,541.0 390.7,541.0 391.9,541.0 393.1,541.0 394.4,541.0 395.6,541.0 396.8,541.0 398.1,541.0 399.3,541.0 400.6,541.0 401.8,541.0 403.0,541.0 404.3,541.0 405.5,541.0 406.7,541.0 408.0,541.0 409.2,541.0 410.5,541.0 411.7,541.0 412.9,541.0 414.2,541.0 415.4,541.0 416.6,541.0 417.9,541.0 419.1,541.0 420.4,541.0 421.6,541.0 422.8,541.0 424.1,540.9 425.3,540.9 426.6,540.9 427.8,540.9 429.0,540.9 430.3,540.9 431.5,540.9 432.7,540.9 434.0,540.9 435.2,540.9 436.5,540.9 437.7,540.9 438.9,540.9 440.2,540.9 441.4,540.9 442.6,540.9 443.9,540.9 445.1,540.9 446.4,540.9 447.6,540.9 448.8,540.8 450.1,540.8 451.3,540.8 452.6,540.8 453.8,540.8 455.0,540.8 456.3,540.8 457.5,540.8 458.7,540.8 460.0,540.8 461.2,540.8 462.5,540.8 463.7,540.7 464.9,540.7 466.2,540.7 467.4,540.7 468.6,540.7 469.9,540.7 471.1,540.7 472.4,540.7 473.6,540.7 474.8,540.7 476.1,540.6 477.3,540.6 478.6,540.6 479.8,540.6 481.0,540.6 482.3,540.6 483.5,540.6 484.7,540.6 486.0,540.5 487.2,540.5 488.5,540.5 489.7,540.5 490.9,540.5 492.2,540.5 493.4,540.4 494.6,540.4 495.9,540.4 497.1,540.4 498.4,540.4 499.6,540.4 500.8,540.3 502.1,540.3 503.3,540.3 504.5,540.3 505.8,540.2 507.0,540.2 508.3,540.2 509.5,540.2 510.7,540.2 512.0,540.1 513.2,540.1 514.5,540.1 515.7,540.0 516.9,540.0 518.2,540.0 519.4,540.0 520.6,539.9 521.9,539.9 523.1,539.9 524.4,539.8 525.6,539.8 526.8,539.8 528.1,539.7 529.3,539.7 530.5,539.7 531.8,539.6 533.0,539.6 534.3,539.5 535.5,539.5 536.7,539.5 538.0,539.4 539.2,539.4 540.5,539.3 541.7,539.3 542.9,539.2 544.2,539.2 545.4,539.1 546.6,539.1 547.9,539.0 549.1,539.0 550.4,538.9 551.6,538.8 552.8,538.8 554.1,538.7 555.3,538.6 556.5,538.6 557.8,538.5 559.0,538.4 560.3,538.4 561.5,538.3 562.7,538.2 564.0,538.1 565.2,538.1 566.4,538.0 567.7,537.9 568.9,537.8 570.2,537.7 571.4,537.6 572.6,537.5 573.9,537.4 575.1,537.3 576.4,537.2 577.6,537.1 578.8,537.0 580.1,536.9 581.3,536.8 582.5,536.7 583.8,536.5 585.0,536.4 586.3,536.3 587.5,536.2 588.7,536.0 590.0,535.9 591.2,535.7 592.4,535.6 593.7,535.4 594.9,535.3 596.2,535.1 597.4,535.0 598.6,534.8 599.9,534.6 601.1,534.4 602.4,534.2 603.6,534.1 604.8,533.9 606.1,533.7 607.3,533.4 608.5,533.2 609.8,533.0 611.0,532.8 612.3,532.5 613.5,532.3 614.7,532.1 616.0,531.8 617.2,531.5 618.4,531.3 619.7,531.0 620.9,530.7 622.2,530.4 623.4,530.1 624.6,529.8 625.9,529.5 627.1,529.1 628.3,528.8 629.6,528.4 630.8,528.1 632.1,527.7 633.3,527.3 634.5,526.9 635.8,526.5 637.0,526.0 638.3,525.6 639.5,525.2 640.7,524.7 642.0,524.2 643.2,523.7 644.4,523.2 645.7,522.7 646.9,522.1 648.2,521.6 649.4,521.0 650.6,520.4 651.9,519.8 653.1,519.2 654.3,518.5 655.6,517.8 656.8,517.2 658.1,516.4 659.3,515.7 660.5,515.0 661.8,514.2 663.0,513.4 664.2,512.5 665.5,511.7 666.7,510.8 668.0,509.9 669.2,509.0 670.4,508.0 671.7,507.0 672.9,506.0 674.2,504.9 675.4,503.8 676.6,502.7 677.9,501.6 679.1,500.4 680.3,499.1 681.6,497.9 682.8,496.6 684.1,495.3 685.3,493.9 686.5,492.5 687.8,491.0 689.0,489.5 690.2,488.0 691.5,486.4 692.7,484.7 694.0,483.0 695.2,481.3 696.4,479.5 697.7,478.0 698.9,476.4 700.2,474.7 701.4,473.1 702.6,471.4 703.9,469.6 705.1,467.8 706.3,466.0 707.6,464.1 708.8,462.2 710.1,460.2 711.3,458.2 712.5,456.2 713.8,454.1 715.0,451.9 716.2,449.7 717.5,447.5 718.7,445.2 720.0,442.8 721.2,440.4 722.4,438.0 723.7,435.5 724.9,432.9 726.1,430.3 727.4,427.6 728.6,424.8 729.9,422.0 731.1,419.1 732.3,416.2 733.6,413.2 734.8,410.1 736.1,407.0 737.3,403.8 738.5,400.5 739.8,396.9 741.0,393.2 742.2,389.4 743.5,385.5 744.7,381.6 746.0,377.5 747.2,373.3 748.4,369.1 749.7,364.7 750.9,360.2 752.1,355.7 753.4,351.0 754.6,346.2 755.9,341.3 757.1,336.8 758.3,332.2 759.6,327.5 760.8,322.8 762.1,317.9 763.3,313.0 764.5,307.9 765.8,302.7 767.0,297.4 768.2,292.0 769.5,286.5 770.7,280.9 772.0,275.1 773.2,269.2 774.4,263.2 775.7,257.1 776.9,250.7 778.1,244.1 779.4,237.4 780.6,230.5 781.9,223.5 783.1,216.3 784.3,209.0 785.6,201.5 786.8,193.8 788.1,186.0 789.3,178.0 790.5,169.8 791.8,161.5 793.0,152.0 794.2,142.2 795.5,132.2 796.7,121.9 798.0,111.4 799.2,100.7 800.4,89.7 801.7,78.4 802.9,66.8 804.1,55.0 805.4,42.8 806.6,30.4 807.9,16.6 809.1,2.5 810.3,-12.0 811.6,-26.9 812.8,-42.2 814.0,-57.9 815.3,-74.0 816.5,-90.6 817.8,-107.6 819.0,-125.0 820.2,-142.9 821.5,-161.3 822.7,-180.1 824.0,-199.5 825.2,-219.3 826.4,-239.7 827.7,-260.7 828.9,-282.2 830.1,-304.2 831.4,-326.9 832.6,-350.1 833.9,-373.9 835.1,-398.4 836.3,-423.6 837.6,-449.3 838.8,-475.8 840.0,-503.0 841.3,-530.9 842.5,-559.5 843.8,-588.9 843.8,-354.8 842.5,-331.3 841.3,-308.4 840.0,-286.1 838.8,-264.3 837.6,-243.1 836.3,-222.5 835.1,-202.4 833.9,-182.8 832.6,-163.7 831.4,-145.1 830.1,-126.9 828.9,-109.3 827.7,-92.0 826.4,-75.3 825.2,-58.9 824.0,-43.0 822.7,-27.4 821.5,-12.3 820.2,2.4 819.0,16.8 817.8,30.8 816.5,44.5 815.3,57.8 814.0,70.7 812.8,83.3 811.6,95.6 810.3,107.6 809.1,119.3 807.9,130.7 806.6,141.8 805.4,153.5 804.1,164.8 802.9,175.9 801.7,186.6 800.4,197.0 799.2,207.1 798.0,217.0 796.7,226.6 795.5,235.9 794.2,245.0 793.0,253.8 791.8,262.3 790.5,271.4 789.3,280.3 788.1,288.8 786.8,297.1 785.6,305.2 784.3,313.0 783.1,320.6 781.9,327.9 780.6,335.0 779.4,341.9 778.1,348.6 776.9,355.1 775.7,361.4 774.4,367.7 773.2,373.7 772.0,379.6 770.7,385.2 769.5,390.7 768.2,396.1 767.0,401.2 765.8,406.2 764.5,411.1 763.3,415.8 762.1,420.3 760.8,424.8 759.6,429.0 758.3,433.2 757.1,437.2 755.9,441.1 754.6,444.6 753.4,448.0 752.1,451.2 750.9,454.4 749.7,457.5 748.4,460.5 747.2,463.5 746.0,466.3 744.7,469.1 743.5,471.8 742.2,474.4 741.0,477.0 739.8,479.5 738.5,481.9 737.3,484.4 736.1,486.8 734.8,489.1 733.6,491.4 732.3,493.6 731.1,495.7 729.9,497.8 728.6,499.8 727.4,501.7 726.1,503.6 724.9,505.5 723.7,507.3 722.4,509.0 721.2,510.7 720.0,512.4 718.7,514.0 717.5,515.5 716.2,517.1 715.0,518.5 713.8,520.0 712.5,521.3 711.3,522.7 710.1,524.0 708.8,525.3 707.6,526.5 706.3,527.7 705.1,528.9 703.9,530.1 702.6,531.2 701.4,532.3 700.2,533.3 698.9,534.4 697.7,535.4 696.4,536.3 695.2,537.2 694.0,538.0 692.7,538.8 691.5,539.6 690.2,540.4 689.0,541.2 687.8,542.0 686.5,542.7 685.3,543.4 684.1,544.1 682.8,544.8 681.6,545.5 680.3,546.2 679.1,546.8 677.9,547.5 676.6,548.1 675.4,548.7 674.2,549.3 672.9,549.9 671.7,550.4 670.4,551.0 669.2,551.6 668.0,552.1 666.7,552.6 665.5,553.1 664.2,553.7 663.0,554.1 661.8,554.6 660.5,555.1 659.3,555.6 658.1,556.0 656.8,556.5 655.6,556.9 654.3,557.3 653.1,557.7 651.9,558.2 650.6,558.6 649.4,558.9 648.2,559.3 646.9,559.7 645.7,560.1 644.4,560.4 643.2,560.8 642.0,561.1 640.7,561.4 639.5,561.8 638.3,562.1 637.0,562.4 635.8,562.7 634.5,563.0 633.3,563.3 632.1,563.6 630.8,563.8 629.6,564.1 628.3,564.4 627.1,564.6 625.9,564.9 624.6,565.1 623.4,565.4 622.2,565.6 620.9,565.8 619.7,566.1 618.4,566.3 617.2,566.5 616.0,566.7 614.7,566.9 613.5,567.1 612.3,567.3 611.0,567.5 609.8,567.7 608.5,567.9 607.3,568.0 606.1,568.2 604.8,568.4 603.6,568.5 602.4,568.7 601.1,568.9 599.9,569.0 598.6,569.2 597.4,569.3 596.2,569.4 594.9,569.6 593.7,569.7 592.4,569.8 591.2,570.0 590.0,570.1 588.7,570.2 587.5,570.3 586.3,570.5 585.0,570.6 583.8,570.7 582.5,570.8 581.3,570.9 580.1,571.0 578.8,571.1 577.6,571.2 576.4,571.3 575.1,571.4 573.9,571.5 572.6,571.6 571.4,571.6 570.2,571.7 568.9,571.8 567.7,571.9 566.4,572.0 565.2,572.0 564.0,572.1 562.7,572.2 561.5,572.3 560.3,572.3 559.0,572.4 557.8,572.5 556.5,572.5 555.3,572.6 554.1,572.6 552.8,572.7 551.6,572.8 550.4,572.8 549.1,572.9 547.9,572.9 546.6,573.0 545.4,573.0 544.2,573.1 542.9,573.1 541.7,573.2 540.5,573.2 539.2,573.3 538.0,573.3 536.7,573.3 535.5,573.4 534.3,573.4 533.0,573.5 531.8,573.5 530.5,573.5 529.3,573.6 528.1,573.6 526.8,573.6 525.6,573.7 524.4,573.7 523.1,573.7 521.9,573.8 520.6,573.8 519.4,573.8 518.2,573.9 516.9,573.9 515.7,573.9 514.5,573.9 513.2,574.0 512.0,574.0 510.7,574.0 509.5,574.0 508.3,574.1 507.0,574.1 505.8,574.1 504.5,574.1 503.3,574.2 502.1,574.2 500.8,574.2 499.6,574.2 498.4,574.2 497.1,574.3 495.9,574.3 494.6,574.3 493.4,574.3 492.2,574.3 490.9,574.3 489.7,574.4 488.5,574.4 487.2,574.4 486.0,574.4 484.7,574.4 483.5,574.4 482.3,574.4 481.0,574.5 479.8,574.5 478.6,574.5 477.3,574.5 476.1,574.5 474.8,574.5 473.6,574.5 472.4,574.5 471.1,574.5 469.9,574.6 468.6,574.6 467.4,574.6 466.2,574.6 464.9,574.6 463.7,574.6 462.5,574.6 461.2,574.6 460.0,574.6 458.7,574.6 457.5,574.6 456.3,574.7 455.0,574.7 453.8,574.7 452.6,574.7 451.3,574.7 450.1,574.7 448.8,574.7 447.6,574.7 446.4,574.7 445.1,574.7 443.9,574.7 442.6,574.7 441.4,574.7 440.2,574.7 438.9,574.7 437.7,574.8 436.5,574.8 435.2,574.8 434.0,574.8 432.7,574.8 431.5,574.8 430.3,574.8 429.0,574.8 427.8,574.8 426.6,574.8 425.3,574.8 424.1,574.8 422.8,574.8 421.6,574.8 420.4,574.8 419.1,574.8 417.9,574.8 416.6,574.8 415.4,574.8 414.2,574.8 412.9,574.8 411.7,574.8 410.5,574.8 409.2,574.8 408.0,574.8 406.7,574.8 405.5,574.9 404.3,574.9 403.0,574.9 401.8,574.9 400.6,574.9 399.3,574.9 398.1,574.9 396.8,574.9 395.6,574.9 394.4,574.9 393.1,574.9 391.9,574.9 390.7,574.9 389.4,574.9 388.2,574.9 386.9,574.9 385.7,574.9 384.5,574.9 383.2,574.9 382.0,574.9 380.7,574.9 379.5,574.9 378.3,574.9 377.0,574.9 375.8,574.9 374.6,574.9 373.3,574.9 372.1,574.9 370.8,574.9 369.6,574.9 368.4,574.9 367.1,574.9 365.9,574.9 364.7,574.9 363.4,574.9 362.2,574.9 360.9,574.9 359.7,574.9 358.5,574.9 357.2,574.9 356.0,574.9 354.8,574.9 353.5,574.9 352.3,574.9 351.0,574.9 349.8,574.9 348.6,574.9 347.3,574.9 346.1,574.9 344.8,574.9 343.6,574.9 342.4,574.9 341.1,574.9 339.9,574.9 338.7,574.9 337.4,574.9 336.2,574.9 334.9,574.9 333.7,574.9 332.5,574.9 331.2,574.9 330.0,574.9 328.8,574.9 327.5,574.9 326.3,574.9 325.0,574.9 323.8,574.9 322.6,574.9 321.3,574.9 320.1,574.9 318.8,574.9 317.6,574.9 316.4,574.9 315.1,574.9 313.9,574.9 312.7,574.9 311.4,574.9 310.2,574.9 308.9,574.9 307.7,574.9 306.5,574.9 305.2,574.9 304.0,574.9 302.8,574.9 301.5,574.9 300.3,574.9 299.0,574.9 297.8,574.9 296.6,574.9 295.3,574.9 294.1,574.9 292.9,574.9 291.6,574.9 290.4,574.9 289.1,574.9 287.9,574.9 286.7,574.9 285.4,574.9 284.2,574.9 282.9,574.9 281.7,574.9 280.5,574.9 279.2,574.9 278.0,574.9 276.8,574.9 275.5,574.9 274.3,574.9 273.0,574.9 271.8,574.9 270.6,574.9 269.3,574.9 268.1,574.9 266.9,575.0 265.6,575.0 264.4,575.0 263.1,575.0 261.9,575.0 260.7,575.0 259.4,575.0 258.2,575.0 256.9,575.0 255.7,575.0 254.5,575.0 253.2,575.0 252.0,575.0 250.8,575.0 249.5,575.0 248.3,575.0 247.0,575.0 245.8,575.0 244.6,575.0 243.3,575.0 242.1,575.0 240.9,575.0 239.6,575.0 238.4,575.0 237.1,575.0 235.9,575.0 234.7,575.0 233.4,575.0 232.2,575.0 230.9,575.0 229.7,575.0 228.5,575.0 227.2,575.0 226.0,575.0 224.8,575.0 223.5,575.0 222.3,575.0 221.0,575.0 219.8,575.0 218.6,575.0 217.3,575.0 216.1,575.0 214.9,575.0 213.6,575.0 212.4,575.0 211.1,575.0 209.9,575.0 208.7,575.0 207.4,575.0 206.2,575.0 205.0,575.0 203.7,575.0 202.5,575.0 201.2,575.0 200.0,575.0 198.8,575.0 197.5,575.0 196.3,575.0 195.0,575.0 193.8,575.0 192.6,575.0 191.3,575.0 190.1,575.0 188.9,575.0 187.6,575.0 186.4,575.0 185.1,575.0 183.9,575.0 182.7,575.0 181.4,575.0 180.2,575.0 179.0,575.0 177.7,575.0 176.5,575.0 175.2,575.0 174.0,575.0 172.8,575.0 171.5,575.0 170.3,575.0 169.1,575.0 167.8,575.0 166.6,575.0 165.3,575.0 164.1,575.0 162.9,575.0 161.6,575.0 160.4,575.0 159.1,575.0 157.9,575.0 156.7,575.0 155.4,575.0 154.2,575.0 153.0,575.0 151.7,575.0 150.5,575.0 149.2,575.0 148.0,575.0 146.8,575.0 145.5,575.0 144.3,575.0 143.1,575.0 141.8,575.0 140.6,575.0 139.3,575.0 138.1,575.0 136.9,575.0 135.6,575.0 134.4,575.0 133.1,575.0 131.9,575.0 130.7,575.0 129.4,575.0 128.2,575.0 127.0,575.0 125.7,575.0 124.5,575.0 123.2,575.0 122.0,575.0 120.8,575.0 119.5,575.0 118.3,575.0 117.1,575.0 115.8,575.0 114.6,575.0 113.3,575.0 112.1,575.0 110.9,575.0 109.6,575.0 108.4,575.0 107.1,575.0 105.9,575.0 104.7,575.0 103.4,575.0 102.2,575.0 101.0,575.0 99.7,575.0 98.5,575.0 97.2,575.0 96.0,575.0 94.8,575.0 93.5,575.0 92.3,575.0 91.1,575.0 89.8,575.0 88.6,575.0 87.3,575.0 86.1,575.0 84.9,575.0 83.6,575.0 82.4,575.0 Z" fill="#D8F8AA" stroke="#B6EC8C" stroke-width="0.8"/>
<path d="M82.4,559.0 83.6,559.0 84.9,559.0 86.1,559.0 87.3,559.0 88.6,559.0 89.8,559.0 91.1,559.0 92.3,559.0 93.5,559.0 94.8,559.0 96.0,559.0 97.2,559.0 98.5,559.0 99.7,559.0 101.0,559.0 102.2,559.0 103.4,559.0 104.7,559.0 105.9,559.0 107.1,559.0 108.4,559.0 109.6,559.0 110.9,559.0 112.1,559.0 113.3,559.0 114.6,559.0 115.8,559.0 117.1,559.0 118.3,559.0 119.5,559.0 120.8,559.0 122.0,559.0 123.2,559.0 124.5,559.0 125.7,559.0 127.0,559.0 128.2,559.0 129.4,559.0 130.7,559.0 131.9,559.0 133.1,559.0 134.4,559.0 135.6,559.0 136.9,559.0 138.1,559.0 139.3,559.0 140.6,559.0 141.8,559.0 143.1,558.9 144.3,558.9 145.5,558.9 146.8,558.9 148.0,558.9 149.2,558.9 150.5,558.9 151.7,558.9 153.0,558.9 154.2,558.9 155.4,558.9 156.7,558.9 157.9,558.9 159.1,558.9 160.4,558.9 161.6,558.9 162.9,558.9 164.1,558.9 165.3,558.9 166.6,558.9 167.8,558.9 169.1,558.9 170.3,558.9 171.5,558.9 172.8,558.9 174.0,558.9 175.2,558.9 176.5,558.9 177.7,558.9 179.0,558.8 180.2,558.8 181.4,558.8 182.7,558.8 183.9,558.8 185.1,558.8 186.4,558.8 187.6,558.8 188.9,558.8 190.1,558.8 191.3,558.8 192.6,558.8 193.8,558.8 195.0,558.8 196.3,558.8 197.5,558.8 198.8,558.8 200.0,558.8 201.2,558.8 202.5,558.8 203.7,558.8 205.0,558.7 206.2,558.7 207.4,558.7 208.7,558.7 209.9,558.7 211.1,558.7 212.4,558.7 213.6,558.7 214.9,558.7 216.1,558.7 217.3,558.7 218.6,558.7 219.8,558.7 221.0,558.7 222.3,558.7 223.5,558.7 224.8,558.6 226.0,558.6 227.2,558.6 228.5,558.6 229.7,558.6 230.9,558.6 232.2,558.6 233.4,558.6 234.7,558.6 235.9,558.6 237.1,558.6 238.4,558.6 239.6,558.6 240.9,558.5 242.1,558.5 243.3,558.5 244.6,558.5 245.8,558.5 247.0,558.5 248.3,558.5 249.5,558.5 250.8,558.5 252.0,558.5 253.2,558.5 254.5,558.4 255.7,558.4 256.9,558.4 258.2,558.4 259.4,558.4 260.7,558.4 261.9,558.4 263.1,558.4 264.4,558.4 265.6,558.3 266.9,558.3 268.1,558.3 269.3,558.3 270.6,558.3 271.8,558.3 273.0,558.3 274.3,558.3 275.5,558.2 276.8,558.2 278.0,558.2 279.2,558.2 280.5,558.2 281.7,558.2 282.9,558.2 284.2,558.2 285.4,558.1 286.7,558.1 287.9,558.1 289.1,558.1 290.4,558.1 291.6,558.1 292.9,558.1 294.1,558.0 295.3,558.0 296.6,558.0 297.8,558.0 299.0,558.0 300.3,558.0 301.5,557.9 302.8,557.9 304.0,557.9 305.2,557.9 306.5,557.9 307.7,557.8 308.9,557.8 310.2,557.8 311.4,557.8 312.7,557.8 313.9,557.8 315.1,557.7 316.4,557.7 317.6,557.7 318.8,557.7 320.1,557.6 321.3,557.6 322.6,557.6 323.8,557.6 325.0,557.6 326.3,557.5 327.5,557.5 328.8,557.5 330.0,557.5 331.2,557.4 332.5,557.4 333.7,557.4 334.9,557.4 336.2,557.3 337.4,557.3 338.7,557.3 339.9,557.3 341.1,557.2 342.4,557.2 343.6,557.2 344.8,557.2 346.1,557.1 347.3,557.1 348.6,557.1 349.8,557.0 351.0,557.0 352.3,557.0 353.5,556.9 354.8,556.9 356.0,556.9 357.2,556.8 358.5,556.8 359.7,556.8 360.9,556.7 362.2,556.7 363.4,556.7 364.7,556.6 365.9,556.6 367.1,556.6 368.4,556.5 369.6,556.5 370.8,556.4 372.1,556.4 373.3,556.4 374.6,556.3 375.8,556.3 377.0,556.2 378.3,556.2 379.5,556.2 380.7,556.1 382.0,556.1 383.2,556.0 384.5,556.0 385.7,555.9 386.9,555.9 388.2,555.9 389.4,555.8 390.7,555.8 391.9,555.7 393.1,555.7 394.4,555.6 395.6,555.6 396.8,555.5 398.1,555.4 399.3,555.4 400.6,555.3 401.8,555.3 403.0,555.2 404.3,555.2 405.5,555.1 406.7,555.1 408.0,555.0 409.2,554.9 410.5,554.9 411.7,554.8 412.9,554.8 414.2,554.7 415.4,554.6 416.6,554.6 417.9,554.5 419.1,554.4 420.4,554.4 421.6,554.3 422.8,554.2 424.1,554.1 425.3,554.1 426.6,554.0 427.8,553.9 429.0,553.9 430.3,553.8 431.5,553.7 432.7,553.6 434.0,553.5 435.2,553.5 436.5,553.4 437.7,553.3 438.9,553.2 440.2,553.1 441.4,553.0 442.6,552.9 443.9,552.9 445.1,552.8 446.4,552.7 447.6,552.6 448.8,552.5 450.1,552.4 451.3,552.3 452.6,552.2 453.8,552.1 455.0,552.0 456.3,551.9 457.5,551.8 458.7,551.7 460.0,551.6 461.2,551.5 462.5,551.3 463.7,551.2 464.9,551.1 466.2,551.0 467.4,550.9 468.6,550.8 469.9,550.6 471.1,550.5 472.4,550.4 473.6,550.3 474.8,550.1 476.1,550.0 477.3,549.9 478.6,549.7 479.8,549.6 481.0,549.5 482.3,549.3 483.5,549.2 484.7,549.0 486.0,548.9 487.2,548.7 488.5,548.6 489.7,548.4 490.9,548.3 492.2,548.1 493.4,547.9 494.6,547.8 495.9,547.6 497.1,547.5 498.4,547.3 499.6,547.1 500.8,546.9 502.1,546.8 503.3,546.6 504.5,546.4 505.8,546.2 507.0,546.0 508.3,545.8 509.5,545.6 510.7,545.4 512.0,545.2 513.2,545.0 514.5,544.8 515.7,544.6 516.9,544.4 518.2,544.2 519.4,544.0 520.6,543.8 521.9,543.5 523.1,543.3 524.4,543.1 525.6,542.8 526.8,542.6 528.1,542.4 529.3,542.1 530.5,541.9 531.8,541.6 533.0,541.3 534.3,541.1 535.5,540.8 536.7,540.6 538.0,540.3 539.2,540.0 540.5,539.7 541.7,539.4 542.9,539.2 544.2,538.9 545.4,538.6 546.6,538.3 547.9,538.0 549.1,537.6 550.4,537.3 551.6,537.0 552.8,536.7 554.1,536.4 555.3,536.0 556.5,535.7 557.8,535.3 559.0,535.0 560.3,534.6 561.5,534.3 562.7,533.9 564.0,533.5 565.2,533.2 566.4,532.8 567.7,532.4 568.9,532.0 570.2,531.6 571.4,531.2 572.6,530.8 573.9,530.4 575.1,529.9 576.4,529.5 577.6,529.0 578.8,528.6 580.1,528.1 581.3,527.7 582.5,527.2 583.8,526.7 585.0,526.2 586.3,525.7 587.5,525.2 588.7,524.7 590.0,524.2 591.2,523.6 592.4,523.1 593.7,522.5 594.9,522.0 596.2,521.4 597.4,520.8 598.6,520.3 599.9,519.7 601.1,519.0 602.4,518.4 603.6,517.8 604.8,517.2 606.1,516.5 607.3,515.9 608.5,515.2 609.8,514.5 611.0,513.8 612.3,513.1 613.5,512.4 614.7,511.7 616.0,510.9 617.2,510.2 618.4,509.4 619.7,508.6 620.9,507.8 622.2,507.0 623.4,506.2 624.6,505.4 625.9,504.5 627.1,503.7 628.3,502.8 629.6,501.9 630.8,501.0 632.1,500.1 633.3,499.1 634.5,498.2 635.8,497.2 637.0,496.2 638.3,495.2 639.5,494.2 640.7,493.1 642.0,492.1 643.2,491.0 644.4,489.9 645.7,488.8 646.9,487.6 648.2,486.5 649.4,485.3 650.6,484.1 651.9,482.9 653.1,481.7 654.3,480.4 655.6,479.2 656.8,477.9 658.1,476.6 659.3,475.3 660.5,474.0 661.8,472.6 663.0,471.2 664.2,469.8 665.5,468.4 666.7,466.9 668.0,465.5 669.2,464.0 670.4,462.4 671.7,460.9 672.9,459.3 674.2,457.7 675.4,456.1 676.6,454.5 677.9,452.8 679.1,451.1 680.3,449.4 681.6,447.6 682.8,445.8 684.1,444.0 685.3,442.2 686.5,440.3 687.8,438.4 689.0,436.4 690.2,434.5 691.5,432.5 692.7,430.4 694.0,428.4 695.2,426.3 696.4,424.2 697.7,422.0 698.9,419.8 700.2,417.9 701.4,416.0 702.6,414.1 703.9,412.2 705.1,410.2 706.3,408.2 707.6,406.2 708.8,404.1 710.1,402.0 711.3,399.9 712.5,397.8 713.8,395.6 715.0,393.4 716.2,391.2 717.5,389.0 718.7,386.7 720.0,384.4 721.2,382.1 722.4,379.7 723.7,377.3 724.9,374.9 726.1,372.5 727.4,370.0 728.6,367.5 729.9,364.9 731.1,362.4 732.3,359.7 733.6,357.1 734.8,354.4 736.1,351.7 737.3,348.9 738.5,346.1 739.8,343.3 741.0,340.4 742.2,337.5 743.5,334.5 744.7,331.5 746.0,328.5 747.2,325.4 748.4,322.3 749.7,319.2 750.9,316.0 752.1,312.8 753.4,309.5 754.6,306.2 755.9,302.9 757.1,299.5 758.3,296.1 759.6,292.6 760.8,289.0 762.1,285.5 763.3,281.9 764.5,278.2 765.8,274.3 767.0,270.4 768.2,266.4 769.5,262.4 770.7,258.3 772.0,254.2 773.2,250.0 774.4,245.7 775.7,241.4 776.9,237.1 778.1,232.6 779.4,228.2 780.6,223.6 781.9,219.0 783.1,214.4 784.3,209.6 785.6,204.2 786.8,198.6 788.1,193.0 789.3,187.2 790.5,181.4 791.8,175.5 793.0,169.5 794.2,163.4 795.5,157.2 796.7,151.0 798.0,144.6 799.2,138.1 800.4,131.5 801.7,124.8 802.9,118.0 804.1,111.1 805.4,104.1 806.6,97.0 807.9,89.8 809.1,82.5 810.3,75.0 811.6,67.5 812.8,59.8 814.0,52.0 815.3,44.1 816.5,36.0 817.8,27.9 819.0,19.6 820.2,11.2 821.5,2.6 822.7,-6.1 824.0,-14.9 825.2,-23.8 826.4,-32.9 827.7,-42.2 828.9,-51.4 830.1,-60.8 831.4,-70.3 832.6,-80.0 833.9,-89.8 835.1,-99.8 836.3,-109.9 837.6,-120.2 838.8,-130.7 840.0,-141.3 841.3,-152.0 842.5,-162.9 843.8,-174.0 843.8,7.3 842.5,15.0 841.3,22.7 840.0,30.2 838.8,37.7 837.6,45.0 836.3,52.3 835.1,59.4 833.9,66.4 832.6,73.4 831.4,80.3 830.1,87.0 828.9,93.7 827.7,100.3 826.4,106.7 825.2,113.0 824.0,119.2 822.7,125.4 821.5,131.5 820.2,137.4 819.0,143.3 817.8,149.2 816.5,154.9 815.3,160.6 814.0,166.2 812.8,171.7 811.6,177.2 810.3,182.6 809.1,187.9 807.9,193.1 806.6,198.3 805.4,203.4 804.1,208.4 802.9,213.4 801.7,218.3 800.4,223.1 799.2,227.9 798.0,232.6 796.7,237.3 795.5,241.8 794.2,246.4 793.0,250.8 791.8,255.3 790.5,259.6 789.3,263.9 788.1,268.1 786.8,272.3 785.6,276.4 784.3,280.5 783.1,285.1 781.9,289.6 780.6,294.0 779.4,298.3 778.1,302.6 776.9,306.8 775.7,311.0 774.4,315.1 773.2,319.1 772.0,323.1 770.7,327.0 769.5,330.8 768.2,334.6 767.0,338.3 765.8,342.0 764.5,345.6 763.3,349.3 762.1,352.9 760.8,356.5 759.6,360.0 758.3,363.5 757.1,366.9 755.9,370.2 754.6,373.5 753.4,376.8 752.1,379.9 750.9,383.1 749.7,386.2 748.4,389.2 747.2,392.2 746.0,395.2 744.7,398.1 743.5,400.9 742.2,403.7 741.0,406.5 739.8,409.2 738.5,411.9 737.3,414.5 736.1,417.1 734.8,419.7 733.6,422.2 732.3,424.6 731.1,427.1 729.9,429.5 728.6,431.9 727.4,434.2 726.1,436.5 724.9,438.8 723.7,441.0 722.4,443.2 721.2,445.3 720.0,447.4 718.7,449.5 717.5,451.6 716.2,453.6 715.0,455.6 713.8,457.5 712.5,459.4 711.3,461.3 710.1,463.2 708.8,465.0 707.6,466.8 706.3,468.6 705.1,470.4 703.9,472.1 702.6,473.8 701.4,475.4 700.2,477.1 698.9,478.7 697.7,480.1 696.4,481.4 695.2,482.8 694.0,484.1 692.7,485.4 691.5,486.7 690.2,487.9 689.0,489.2 687.8,490.4 686.5,491.7 685.3,492.9 684.1,494.1 682.8,495.2 681.6,496.4 680.3,497.5 679.1,498.7 677.9,499.8 676.6,500.9 675.4,502.0 674.2,503.1 672.9,504.1 671.7,505.2 670.4,506.2 669.2,507.3 668.0,508.3 666.7,509.3 665.5,510.3 664.2,511.2 663.0,512.2 661.8,513.2 660.5,514.1 659.3,515.0 658.1,516.0 656.8,516.9 655.6,517.8 654.3,518.6 653.1,519.5 651.9,520.3 650.6,521.2 649.4,522.0 648.2,522.8 646.9,523.6 645.7,524.4 644.4,525.2 643.2,526.0 642.0,526.8 640.7,527.5 639.5,528.3 638.3,529.0 637.0,529.8 635.8,530.5 634.5,531.2 633.3,531.9 632.1,532.6 630.8,533.3 629.6,534.0 628.3,534.7 627.1,535.4 625.9,536.0 624.6,536.7 623.4,537.3 622.2,538.0 620.9,538.6 619.7,539.2 618.4,539.9 617.2,540.5 616.0,541.1 614.7,541.7 613.5,542.2 612.3,542.8 611.0,543.4 609.8,544.0 608.5,544.5 607.3,545.1 606.1,545.6 604.8,546.2 603.6,546.7 602.4,547.2 601.1,547.7 599.9,548.3 598.6,548.8 597.4,549.3 596.2,549.8 594.9,550.2 593.7,550.7 592.4,551.2 591.2,551.7 590.0,552.1 588.7,552.6 587.5,553.1 586.3,553.5 585.0,553.9 583.8,554.4 582.5,554.8 581.3,555.2 580.1,555.6 578.8,556.1 577.6,556.5 576.4,556.9 575.1,557.3 573.9,557.7 572.6,558.1 571.4,558.4 570.2,558.8 568.9,559.2 567.7,559.6 566.4,559.9 565.2,560.3 564.0,560.7 562.7,561.0 561.5,561.3 560.3,561.7 559.0,562.0 557.8,562.4 556.5,562.7 555.3,563.0 554.1,563.3 552.8,563.6 551.6,564.0 550.4,564.3 549.1,564.6 547.9,564.9 546.6,565.1 545.4,565.4 544.2,565.7 542.9,566.0 541.7,566.3 540.5,566.6 539.2,566.8 538.0,567.1 536.7,567.3 535.5,567.6 534.3,567.9 533.0,568.1 531.8,568.4 530.5,568.6 529.3,568.8 528.1,569.1 526.8,569.3 525.6,569.5 524.4,569.8 523.1,570.0 521.9,570.2 520.6,570.4 519.4,570.7 518.2,570.9 516.9,571.1 515.7,571.3 514.5,571.5 513.2,571.7 512.0,571.9 510.7,572.1 509.5,572.3 508.3,572.5 507.0,572.6 505.8,572.8 504.5,573.0 503.3,573.2 502.1,573.4 500.8,573.5 499.6,573.7 498.4,573.9 497.1,574.0 495.9,574.2 494.6,574.4 493.4,574.5 492.2,574.7 490.9,574.8 489.7,575.0 488.5,575.2 487.2,575.3 486.0,575.4 484.7,575.6 483.5,575.7 482.3,575.9 481.0,576.0 479.8,576.1 478.6,576.3 477.3,576.4 476.1,576.5 474.8,576.7 473.6,576.8 472.4,576.9 471.1,577.1 469.9,577.2 468.6,577.3 467.4,577.4 466.2,577.5 464.9,577.6 463.7,577.8 462.5,577.9 461.2,578.0 460.0,578.1 458.7,578.2 457.5,578.3 456.3,578.4 455.0,578.5 453.8,578.6 452.6,578.7 451.3,578.8 450.1,578.9 448.8,579.0 447.6,579.1 446.4,579.2 445.1,579.3 443.9,579.4 442.6,579.5 441.4,579.6 440.2,579.6 438.9,579.7 437.7,579.8 436.5,579.9 435.2,580.0 434.0,580.1 432.7,580.1 431.5,580.2 430.3,580.3 429.0,580.4 427.8,580.4 426.6,580.5 425.3,580.6 424.1,580.7 422.8,580.7 421.6,580.8 420.4,580.9 419.1,580.9 417.9,581.0 416.6,581.1 415.4,581.1 414.2,581.2 412.9,581.3 411.7,581.3 410.5,581.4 409.2,581.4 408.0,581.5 406.7,581.6 405.5,581.6 404.3,581.7 403.0,581.7 401.8,581.8 400.6,581.8 399.3,581.9 398.1,582.0 396.8,582.0 395.6,582.1 394.4,582.1 393.1,582.2 391.9,582.2 390.7,582.3 389.4,582.3 388.2,582.4 386.9,582.4 385.7,582.4 384.5,582.5 383.2,582.5 382.0,582.6 380.7,582.6 379.5,582.7 378.3,582.7 377.0,582.7 375.8,582.8 374.6,582.8 373.3,582.9 372.1,582.9 370.8,582.9 369.6,583.0 368.4,583.0 367.1,583.1 365.9,583.1 364.7,583.1 363.4,583.2 362.2,583.2 360.9,583.2 359.7,583.3 358.5,583.3 357.2,583.3 356.0,583.4 354.8,583.4 353.5,583.4 352.3,583.5 351.0,583.5 349.8,583.5 348.6,583.6 347.3,583.6 346.1,583.6 344.8,583.6 343.6,583.7 342.4,583.7 341.1,583.7 339.9,583.8 338.7,583.8 337.4,583.8 336.2,583.8 334.9,583.9 333.7,583.9 332.5,583.9 331.2,583.9 330.0,584.0 328.8,584.0 327.5,584.0 326.3,584.0 325.0,584.1 323.8,584.1 322.6,584.1 321.3,584.1 320.1,584.1 318.8,584.2 317.6,584.2 316.4,584.2 315.1,584.2 313.9,584.2 312.7,584.3 311.4,584.3 310.2,584.3 308.9,584.3 307.7,584.3 306.5,584.4 305.2,584.4 304.0,584.4 302.8,584.4 301.5,584.4 300.3,584.5 299.0,584.5 297.8,584.5 296.6,584.5 295.3,584.5 294.1,584.5 292.9,584.5 291.6,584.6 290.4,584.6 289.1,584.6 287.9,584.6 286.7,584.6 285.4,584.6 284.2,584.7 282.9,584.7 281.7,584.7 280.5,584.7 279.2,584.7 278.0,584.7 276.8,584.7 275.5,584.7 274.3,584.8 273.0,584.8 271.8,584.8 270.6,584.8 269.3,584.8 268.1,584.8 266.9,584.8 265.6,584.8 264.4,584.9 263.1,584.9 261.9,584.9 260.7,584.9 259.4,584.9 258.2,584.9 256.9,584.9 255.7,584.9 254.5,584.9 253.2,584.9 252.0,585.0 250.8,585.0 249.5,585.0 248.3,585.0 247.0,585.0 245.8,585.0 244.6,585.0 243.3,585.0 242.1,585.0 240.9,585.0 239.6,585.0 238.4,585.1 237.1,585.1 235.9,585.1 234.7,585.1 233.4,585.1 232.2,585.1 230.9,585.1 229.7,585.1 228.5,585.1 227.2,585.1 226.0,585.1 224.8,585.1 223.5,585.1 222.3,585.2 221.0,585.2 219.8,585.2 218.6,585.2 217.3,585.2 216.1,585.2 214.9,585.2 213.6,585.2 212.4,585.2 211.1,585.2 209.9,585.2 208.7,585.2 207.4,585.2 206.2,585.2 205.0,585.2 203.7,585.2 202.5,585.3 201.2,585.3 200.0,585.3 198.8,585.3 197.5,585.3 196.3,585.3 195.0,585.3 193.8,585.3 192.6,585.3 191.3,585.3 190.1,585.3 188.9,585.3 187.6,585.3 186.4,585.3 185.1,585.3 183.9,585.3 182.7,585.3 181.4,585.3 180.2,585.3 179.0,585.3 177.7,585.3 176.5,585.4 175.2,585.4 174.0,585.4 172.8,585.4 171.5,585.4 170.3,585.4 169.1,585.4 167.8,585.4 166.6,585.4 165.3,585.4 164.1,585.4 162.9,585.4 161.6,585.4 160.4,585.4 159.1,585.4 157.9,585.4 156.7,585.4 155.4,585.4 154.2,585.4 153.0,585.4 151.7,585.4 150.5,585.4 149.2,585.4 148.0,585.4 146.8,585.4 145.5,585.4 144.3,585.4 143.1,585.4 141.8,585.4 140.6,585.4 139.3,585.5 138.1,585.5 136.9,585.5 135.6,585.5 134.4,585.5 133.1,585.5 131.9,585.5 130.7,585.5 129.4,585.5 128.2,585.5 127.0,585.5 125.7,585.5 124.5,585.5 123.2,585.5 122.0,585.5 120.8,585.5 119.5,585.5 118.3,585.5 117.1,585.5 115.8,585.5 114.6,585.5 113.3,585.5 112.1,585.5 110.9,585.5 109.6,585.5 108.4,585.5 107.1,585.5 105.9,585.5 104.7,585.5 103.4,585.5 102.2,585.5 101.0,585.5 99.7,585.5 98.5,585.5 97.2,585.5 96.0,585.5 94.8,585.5 93.5,585.5 92.3,585.5 91.1,585.5 89.8,585.5 88.6,585.5 87.3,585.5 86.1,585.5 84.9,585.5 83.6,585.5 82.4,585.5 Z" fill="#C8F2FA" stroke="#A6E2F0" stroke-width="0.8"/>
<g clip-path="url(#cpB8)"><path d="M82.4,559.0 83.6,559.0 84.9,559.0 86.1,559.0 87.3,559.0 88.6,559.0 89.8,559.0 91.1,559.0 92.3,559.0 93.5,559.0 94.8,559.0 96.0,559.0 97.2,559.0 98.5,559.0 99.7,559.0 101.0,559.0 102.2,559.0 103.4,559.0 104.7,559.0 105.9,559.0 107.1,559.0 108.4,559.0 109.6,559.0 110.9,559.0 112.1,559.0 113.3,559.0 114.6,559.0 115.8,559.0 117.1,559.0 118.3,559.0 119.5,559.0 120.8,559.0 122.0,559.0 123.2,559.0 124.5,559.0 125.7,559.0 127.0,559.0 128.2,559.0 129.4,559.0 130.7,559.0 131.9,559.0 133.1,559.0 134.4,559.0 135.6,559.0 136.9,559.0 138.1,559.0 139.3,559.0 140.6,559.0 141.8,559.0 143.1,558.9 144.3,558.9 145.5,558.9 146.8,558.9 148.0,558.9 149.2,558.9 150.5,558.9 151.7,558.9 153.0,558.9 154.2,558.9 155.4,558.9 156.7,558.9 157.9,558.9 159.1,558.9 160.4,558.9 161.6,558.9 162.9,558.9 164.1,558.9 165.3,558.9 166.6,558.9 167.8,558.9 169.1,558.9 170.3,558.9 171.5,558.9 172.8,558.9 174.0,558.9 175.2,558.9 176.5,558.9 177.7,558.9 179.0,558.8 180.2,558.8 181.4,558.8 182.7,558.8 183.9,558.8 185.1,558.8 186.4,558.8 187.6,558.8 188.9,558.8 190.1,558.8 191.3,558.8 192.6,558.8 193.8,558.8 195.0,558.8 196.3,558.8 197.5,558.8 198.8,558.8 200.0,558.8 201.2,558.8 202.5,558.8 203.7,558.8 205.0,558.7 206.2,558.7 207.4,558.7 208.7,558.7 209.9,558.7 211.1,558.7 212.4,558.7 213.6,558.7 214.9,558.7 216.1,558.7 217.3,558.7 218.6,558.7 219.8,558.7 221.0,558.7 222.3,558.7 223.5,558.7 224.8,558.6 226.0,558.6 227.2,558.6 228.5,558.6 229.7,558.6 230.9,558.6 232.2,558.6 233.4,558.6 234.7,558.6 235.9,558.6 237.1,558.6 238.4,558.6 239.6,558.6 240.9,558.5 242.1,558.5 243.3,558.5 244.6,558.5 245.8,558.5 247.0,558.5 248.3,558.5 249.5,558.5 250.8,558.5 252.0,558.5 253.2,558.5 254.5,558.4 255.7,558.4 256.9,558.4 258.2,558.4 259.4,558.4 260.7,558.4 261.9,558.4 263.1,558.4 264.4,558.4 265.6,558.3 266.9,558.3 268.1,558.3 269.3,558.3 270.6,558.3 271.8,558.3 273.0,558.3 274.3,558.3 275.5,558.2 276.8,558.2 278.0,558.2 279.2,558.2 280.5,558.2 281.7,558.2 282.9,558.2 284.2,558.2 285.4,558.1 286.7,558.1 287.9,558.1 289.1,558.1 290.4,558.1 291.6,558.1 292.9,558.1 294.1,558.0 295.3,558.0 296.6,558.0 297.8,558.0 299.0,558.0 300.3,558.0 301.5,557.9 302.8,557.9 304.0,557.9 305.2,557.9 306.5,557.9 307.7,557.8 308.9,557.8 310.2,557.8 311.4,557.8 312.7,557.8 313.9,557.8 315.1,557.7 316.4,557.7 317.6,557.7 318.8,557.7 320.1,557.6 321.3,557.6 322.6,557.6 323.8,557.6 325.0,557.6 326.3,557.5 327.5,557.5 328.8,557.5 330.0,557.5 331.2,557.4 332.5,557.4 333.7,557.4 334.9,557.4 336.2,557.3 337.4,557.3 338.7,557.3 339.9,557.3 341.1,557.2 342.4,557.2 343.6,557.2 344.8,557.2 346.1,557.1 347.3,557.1 348.6,557.1 349.8,557.0 351.0,557.0 352.3,557.0 353.5,556.9 354.8,556.9 356.0,556.9 357.2,556.8 358.5,556.8 359.7,556.8 360.9,556.7 362.2,556.7 363.4,556.7 364.7,556.6 365.9,556.6 367.1,556.6 368.4,556.5 369.6,556.5 370.8,556.4 372.1,556.4 373.3,556.4 374.6,556.3 375.8,556.3 377.0,556.2 378.3,556.2 379.5,556.2 380.7,556.1 382.0,556.1 383.2,556.0 384.5,556.0 385.7,555.9 386.9,555.9 388.2,555.9 389.4,555.8 390.7,555.8 391.9,555.7 393.1,555.7 394.4,555.6 395.6,555.6 396.8,555.5 398.1,555.4 399.3,555.4 400.6,555.3 401.8,555.3 403.0,555.2 404.3,555.2 405.5,555.1 406.7,555.1 408.0,555.0 409.2,554.9 410.5,554.9 411.7,554.8 412.9,554.8 414.2,554.7 415.4,554.6 416.6,554.6 417.9,554.5 419.1,554.4 420.4,554.4 421.6,554.3 422.8,554.2 424.1,554.1 425.3,554.1 426.6,554.0 427.8,553.9 429.0,553.9 430.3,553.8 431.5,553.7 432.7,553.6 434.0,553.5 435.2,553.5 436.5,553.4 437.7,553.3 438.9,553.2 440.2,553.1 441.4,553.0 442.6,552.9 443.9,552.9 445.1,552.8 446.4,552.7 447.6,552.6 448.8,552.5 450.1,552.4 451.3,552.3 452.6,552.2 453.8,552.1 455.0,552.0 456.3,551.9 457.5,551.8 458.7,551.7 460.0,551.6 461.2,551.5 462.5,551.3 463.7,551.2 464.9,551.1 466.2,551.0 467.4,550.9 468.6,550.8 469.9,550.6 471.1,550.5 472.4,550.4 473.6,550.3 474.8,550.1 476.1,550.0 477.3,549.9 478.6,549.7 479.8,549.6 481.0,549.5 482.3,549.3 483.5,549.2 484.7,549.0 486.0,548.9 487.2,548.7 488.5,548.6 489.7,548.4 490.9,548.3 492.2,548.1 493.4,547.9 494.6,547.8 495.9,547.6 497.1,547.5 498.4,547.3 499.6,547.1 500.8,546.9 502.1,546.8 503.3,546.6 504.5,546.4 505.8,546.2 507.0,546.0 508.3,545.8 509.5,545.6 510.7,545.4 512.0,545.2 513.2,545.0 514.5,544.8 515.7,544.6 516.9,544.4 518.2,544.2 519.4,544.0 520.6,543.8 521.9,543.5 523.1,543.3 524.4,543.1 525.6,542.8 526.8,542.6 528.1,542.4 529.3,542.1 530.5,541.9 531.8,541.6 533.0,541.3 534.3,541.1 535.5,540.8 536.7,540.6 538.0,540.3 539.2,540.0 540.5,539.7 541.7,539.4 542.9,539.2 544.2,538.9 545.4,538.6 546.6,538.3 547.9,538.0 549.1,537.6 550.4,537.3 551.6,537.0 552.8,536.7 554.1,536.4 555.3,536.0 556.5,535.7 557.8,535.3 559.0,535.0 560.3,534.6 561.5,534.3 562.7,533.9 564.0,533.5 565.2,533.2 566.4,532.8 567.7,532.4 568.9,532.0 570.2,531.6 571.4,531.2 572.6,530.8 573.9,530.4 575.1,529.9 576.4,529.5 577.6,529.0 578.8,528.6 580.1,528.1 581.3,527.7 582.5,527.2 583.8,526.7 585.0,526.2 586.3,525.7 587.5,525.2 588.7,524.7 590.0,524.2 591.2,523.6 592.4,523.1 593.7,522.5 594.9,522.0 596.2,521.4 597.4,520.8 598.6,520.3 599.9,519.7 601.1,519.0 602.4,518.4 603.6,517.8 604.8,517.2 606.1,516.5 607.3,515.9 608.5,515.2 609.8,514.5 611.0,513.8 612.3,513.1 613.5,512.4 614.7,511.7 616.0,510.9 617.2,510.2 618.4,509.4 619.7,508.6 620.9,507.8 622.2,507.0 623.4,506.2 624.6,505.4 625.9,504.5 627.1,503.7 628.3,502.8 629.6,501.9 630.8,501.0 632.1,500.1 633.3,499.1 634.5,498.2 635.8,497.2 637.0,496.2 638.3,495.2 639.5,494.2 640.7,493.1 642.0,492.1 643.2,491.0 644.4,489.9 645.7,488.8 646.9,487.6 648.2,486.5 649.4,485.3 650.6,484.1 651.9,482.9 653.1,481.7 654.3,480.4 655.6,479.2 656.8,477.9 658.1,476.6 659.3,475.3 660.5,474.0 661.8,472.6 663.0,471.2 664.2,469.8 665.5,468.4 666.7,466.9 668.0,465.5 669.2,464.0 670.4,462.4 671.7,460.9 672.9,459.3 674.2,457.7 675.4,456.1 676.6,454.5 677.9,452.8 679.1,451.1 680.3,449.4 681.6,447.6 682.8,445.8 684.1,444.0 685.3,442.2 686.5,440.3 687.8,438.4 689.0,436.4 690.2,434.5 691.5,432.5 692.7,430.4 694.0,428.4 695.2,426.3 696.4,424.2 697.7,422.0 698.9,419.8 700.2,417.9 701.4,416.0 702.6,414.1 703.9,412.2 705.1,410.2 706.3,408.2 707.6,406.2 708.8,404.1 710.1,402.0 711.3,399.9 712.5,397.8 713.8,395.6 715.0,393.4 716.2,391.2 717.5,389.0 718.7,386.7 720.0,384.4 721.2,382.1 722.4,379.7 723.7,377.3 724.9,374.9 726.1,372.5 727.4,370.0 728.6,367.5 729.9,364.9 731.1,362.4 732.3,359.7 733.6,357.1 734.8,354.4 736.1,351.7 737.3,348.9 738.5,346.1 739.8,343.3 741.0,340.4 742.2,337.5 743.5,334.5 744.7,331.5 746.0,328.5 747.2,325.4 748.4,322.3 749.7,319.2 750.9,316.0 752.1,312.8 753.4,309.5 754.6,306.2 755.9,302.9 757.1,299.5 758.3,296.1 759.6,292.6 760.8,289.0 762.1,285.5 763.3,281.9 764.5,278.2 765.8,274.3 767.0,270.4 768.2,266.4 769.5,262.4 770.7,258.3 772.0,254.2 773.2,250.0 774.4,245.7 775.7,241.4 776.9,237.1 778.1,232.6 779.4,228.2 780.6,223.6 781.9,219.0 783.1,214.4 784.3,209.6 785.6,204.2 786.8,198.6 788.1,193.0 789.3,187.2 790.5,181.4 791.8,175.5 793.0,169.5 794.2,163.4 795.5,157.2 796.7,151.0 798.0,144.6 799.2,138.1 800.4,131.5 801.7,124.8 802.9,118.0 804.1,111.1 805.4,104.1 806.6,97.0 807.9,89.8 809.1,82.5 810.3,75.0 811.6,67.5 812.8,59.8 814.0,52.0 815.3,44.1 816.5,36.0 817.8,27.9 819.0,19.6 820.2,11.2 821.5,2.6 822.7,-6.1 824.0,-14.9 825.2,-23.8 826.4,-32.9 827.7,-42.2 828.9,-51.4 830.1,-60.8 831.4,-70.3 832.6,-80.0 833.9,-89.8 835.1,-99.8 836.3,-109.9 837.6,-120.2 838.8,-130.7 840.0,-141.3 841.3,-152.0 842.5,-162.9 843.8,-174.0 843.8,7.3 842.5,15.0 841.3,22.7 840.0,30.2 838.8,37.7 837.6,45.0 836.3,52.3 835.1,59.4 833.9,66.4 832.6,73.4 831.4,80.3 830.1,87.0 828.9,93.7 827.7,100.3 826.4,106.7 825.2,113.0 824.0,119.2 822.7,125.4 821.5,131.5 820.2,137.4 819.0,143.3 817.8,149.2 816.5,154.9 815.3,160.6 814.0,166.2 812.8,171.7 811.6,177.2 810.3,182.6 809.1,187.9 807.9,193.1 806.6,198.3 805.4,203.4 804.1,208.4 802.9,213.4 801.7,218.3 800.4,223.1 799.2,227.9 798.0,232.6 796.7,237.3 795.5,241.8 794.2,246.4 793.0,250.8 791.8,255.3 790.5,259.6 789.3,263.9 788.1,268.1 786.8,272.3 785.6,276.4 784.3,280.5 783.1,285.1 781.9,289.6 780.6,294.0 779.4,298.3 778.1,302.6 776.9,306.8 775.7,311.0 774.4,315.1 773.2,319.1 772.0,323.1 770.7,327.0 769.5,330.8 768.2,334.6 767.0,338.3 765.8,342.0 764.5,345.6 763.3,349.3 762.1,352.9 760.8,356.5 759.6,360.0 758.3,363.5 757.1,366.9 755.9,370.2 754.6,373.5 753.4,376.8 752.1,379.9 750.9,383.1 749.7,386.2 748.4,389.2 747.2,392.2 746.0,395.2 744.7,398.1 743.5,400.9 742.2,403.7 741.0,406.5 739.8,409.2 738.5,411.9 737.3,414.5 736.1,417.1 734.8,419.7 733.6,422.2 732.3,424.6 731.1,427.1 729.9,429.5 728.6,431.9 727.4,434.2 726.1,436.5 724.9,438.8 723.7,441.0 722.4,443.2 721.2,445.3 720.0,447.4 718.7,449.5 717.5,451.6 716.2,453.6 715.0,455.6 713.8,457.5 712.5,459.4 711.3,461.3 710.1,463.2 708.8,465.0 707.6,466.8 706.3,468.6 705.1,470.4 703.9,472.1 702.6,473.8 701.4,475.4 700.2,477.1 698.9,478.7 697.7,480.1 696.4,481.4 695.2,482.8 694.0,484.1 692.7,485.4 691.5,486.7 690.2,487.9 689.0,489.2 687.8,490.4 686.5,491.7 685.3,492.9 684.1,494.1 682.8,495.2 681.6,496.4 680.3,497.5 679.1,498.7 677.9,499.8 676.6,500.9 675.4,502.0 674.2,503.1 672.9,504.1 671.7,505.2 670.4,506.2 669.2,507.3 668.0,508.3 666.7,509.3 665.5,510.3 664.2,511.2 663.0,512.2 661.8,513.2 660.5,514.1 659.3,515.0 658.1,516.0 656.8,516.9 655.6,517.8 654.3,518.6 653.1,519.5 651.9,520.3 650.6,521.2 649.4,522.0 648.2,522.8 646.9,523.6 645.7,524.4 644.4,525.2 643.2,526.0 642.0,526.8 640.7,527.5 639.5,528.3 638.3,529.0 637.0,529.8 635.8,530.5 634.5,531.2 633.3,531.9 632.1,532.6 630.8,533.3 629.6,534.0 628.3,534.7 627.1,535.4 625.9,536.0 624.6,536.7 623.4,537.3 622.2,538.0 620.9,538.6 619.7,539.2 618.4,539.9 617.2,540.5 616.0,541.1 614.7,541.7 613.5,542.2 612.3,542.8 611.0,543.4 609.8,544.0 608.5,544.5 607.3,545.1 606.1,545.6 604.8,546.2 603.6,546.7 602.4,547.2 601.1,547.7 599.9,548.3 598.6,548.8 597.4,549.3 596.2,549.8 594.9,550.2 593.7,550.7 592.4,551.2 591.2,551.7 590.0,552.1 588.7,552.6 587.5,553.1 586.3,553.5 585.0,553.9 583.8,554.4 582.5,554.8 581.3,555.2 580.1,555.6 578.8,556.1 577.6,556.5 576.4,556.9 575.1,557.3 573.9,557.7 572.6,558.1 571.4,558.4 570.2,558.8 568.9,559.2 567.7,559.6 566.4,559.9 565.2,560.3 564.0,560.7 562.7,561.0 561.5,561.3 560.3,561.7 559.0,562.0 557.8,562.4 556.5,562.7 555.3,563.0 554.1,563.3 552.8,563.6 551.6,564.0 550.4,564.3 549.1,564.6 547.9,564.9 546.6,565.1 545.4,565.4 544.2,565.7 542.9,566.0 541.7,566.3 540.5,566.6 539.2,566.8 538.0,567.1 536.7,567.3 535.5,567.6 534.3,567.9 533.0,568.1 531.8,568.4 530.5,568.6 529.3,568.8 528.1,569.1 526.8,569.3 525.6,569.5 524.4,569.8 523.1,570.0 521.9,570.2 520.6,570.4 519.4,570.7 518.2,570.9 516.9,571.1 515.7,571.3 514.5,571.5 513.2,571.7 512.0,571.9 510.7,572.1 509.5,572.3 508.3,572.5 507.0,572.6 505.8,572.8 504.5,573.0 503.3,573.2 502.1,573.4 500.8,573.5 499.6,573.7 498.4,573.9 497.1,574.0 495.9,574.2 494.6,574.4 493.4,574.5 492.2,574.7 490.9,574.8 489.7,575.0 488.5,575.2 487.2,575.3 486.0,575.4 484.7,575.6 483.5,575.7 482.3,575.9 481.0,576.0 479.8,576.1 478.6,576.3 477.3,576.4 476.1,576.5 474.8,576.7 473.6,576.8 472.4,576.9 471.1,577.1 469.9,577.2 468.6,577.3 467.4,577.4 466.2,577.5 464.9,577.6 463.7,577.8 462.5,577.9 461.2,578.0 460.0,578.1 458.7,578.2 457.5,578.3 456.3,578.4 455.0,578.5 453.8,578.6 452.6,578.7 451.3,578.8 450.1,578.9 448.8,579.0 447.6,579.1 446.4,579.2 445.1,579.3 443.9,579.4 442.6,579.5 441.4,579.6 440.2,579.6 438.9,579.7 437.7,579.8 436.5,579.9 435.2,580.0 434.0,580.1 432.7,580.1 431.5,580.2 430.3,580.3 429.0,580.4 427.8,580.4 426.6,580.5 425.3,580.6 424.1,580.7 422.8,580.7 421.6,580.8 420.4,580.9 419.1,580.9 417.9,581.0 416.6,581.1 415.4,581.1 414.2,581.2 412.9,581.3 411.7,581.3 410.5,581.4 409.2,581.4 408.0,581.5 406.7,581.6 405.5,581.6 404.3,581.7 403.0,581.7 401.8,581.8 400.6,581.8 399.3,581.9 398.1,582.0 396.8,582.0 395.6,582.1 394.4,582.1 393.1,582.2 391.9,582.2 390.7,582.3 389.4,582.3 388.2,582.4 386.9,582.4 385.7,582.4 384.5,582.5 383.2,582.5 382.0,582.6 380.7,582.6 379.5,582.7 378.3,582.7 377.0,582.7 375.8,582.8 374.6,582.8 373.3,582.9 372.1,582.9 370.8,582.9 369.6,583.0 368.4,583.0 367.1,583.1 365.9,583.1 364.7,583.1 363.4,583.2 362.2,583.2 360.9,583.2 359.7,583.3 358.5,583.3 357.2,583.3 356.0,583.4 354.8,583.4 353.5,583.4 352.3,583.5 351.0,583.5 349.8,583.5 348.6,583.6 347.3,583.6 346.1,583.6 344.8,583.6 343.6,583.7 342.4,583.7 341.1,583.7 339.9,583.8 338.7,583.8 337.4,583.8 336.2,583.8 334.9,583.9 333.7,583.9 332.5,583.9 331.2,583.9 330.0,584.0 328.8,584.0 327.5,584.0 326.3,584.0 325.0,584.1 323.8,584.1 322.6,584.1 321.3,584.1 320.1,584.1 318.8,584.2 317.6,584.2 316.4,584.2 315.1,584.2 313.9,584.2 312.7,584.3 311.4,584.3 310.2,584.3 308.9,584.3 307.7,584.3 306.5,584.4 305.2,584.4 304.0,584.4 302.8,584.4 301.5,584.4 300.3,584.5 299.0,584.5 297.8,584.5 296.6,584.5 295.3,584.5 294.1,584.5 292.9,584.5 291.6,584.6 290.4,584.6 289.1,584.6 287.9,584.6 286.7,584.6 285.4,584.6 284.2,584.7 282.9,584.7 281.7,584.7 280.5,584.7 279.2,584.7 278.0,584.7 276.8,584.7 275.5,584.7 274.3,584.8 273.0,584.8 271.8,584.8 270.6,584.8 269.3,584.8 268.1,584.8 266.9,584.8 265.6,584.8 264.4,584.9 263.1,584.9 261.9,584.9 260.7,584.9 259.4,584.9 258.2,584.9 256.9,584.9 255.7,584.9 254.5,584.9 253.2,584.9 252.0,585.0 250.8,585.0 249.5,585.0 248.3,585.0 247.0,585.0 245.8,585.0 244.6,585.0 243.3,585.0 242.1,585.0 240.9,585.0 239.6,585.0 238.4,585.1 237.1,585.1 235.9,585.1 234.7,585.1 233.4,585.1 232.2,585.1 230.9,585.1 229.7,585.1 228.5,585.1 227.2,585.1 226.0,585.1 224.8,585.1 223.5,585.1 222.3,585.2 221.0,585.2 219.8,585.2 218.6,585.2 217.3,585.2 216.1,585.2 214.9,585.2 213.6,585.2 212.4,585.2 211.1,585.2 209.9,585.2 208.7,585.2 207.4,585.2 206.2,585.2 205.0,585.2 203.7,585.2 202.5,585.3 201.2,585.3 200.0,585.3 198.8,585.3 197.5,585.3 196.3,585.3 195.0,585.3 193.8,585.3 192.6,585.3 191.3,585.3 190.1,585.3 188.9,585.3 187.6,585.3 186.4,585.3 185.1,585.3 183.9,585.3 182.7,585.3 181.4,585.3 180.2,585.3 179.0,585.3 177.7,585.3 176.5,585.4 175.2,585.4 174.0,585.4 172.8,585.4 171.5,585.4 170.3,585.4 169.1,585.4 167.8,585.4 166.6,585.4 165.3,585.4 164.1,585.4 162.9,585.4 161.6,585.4 160.4,585.4 159.1,585.4 157.9,585.4 156.7,585.4 155.4,585.4 154.2,585.4 153.0,585.4 151.7,585.4 150.5,585.4 149.2,585.4 148.0,585.4 146.8,585.4 145.5,585.4 144.3,585.4 143.1,585.4 141.8,585.4 140.6,585.4 139.3,585.5 138.1,585.5 136.9,585.5 135.6,585.5 134.4,585.5 133.1,585.5 131.9,585.5 130.7,585.5 129.4,585.5 128.2,585.5 127.0,585.5 125.7,585.5 124.5,585.5 123.2,585.5 122.0,585.5 120.8,585.5 119.5,585.5 118.3,585.5 117.1,585.5 115.8,585.5 114.6,585.5 113.3,585.5 112.1,585.5 110.9,585.5 109.6,585.5 108.4,585.5 107.1,585.5 105.9,585.5 104.7,585.5 103.4,585.5 102.2,585.5 101.0,585.5 99.7,585.5 98.5,585.5 97.2,585.5 96.0,585.5 94.8,585.5 93.5,585.5 92.3,585.5 91.1,585.5 89.8,585.5 88.6,585.5 87.3,585.5 86.1,585.5 84.9,585.5 83.6,585.5 82.4,585.5 Z" fill="#ACEAE8"/></g>
<path d="M82.4,558.0 83.6,558.0 84.9,558.0 86.1,558.0 87.3,558.0 88.6,558.0 89.8,558.0 91.1,558.0 92.3,558.0 93.5,558.0 94.8,558.0 96.0,558.0 97.2,558.0 98.5,558.0 99.7,558.0 101.0,558.0 102.2,558.0 103.4,558.0 104.7,558.0 105.9,558.0 107.1,558.0 108.4,558.0 109.6,558.0 110.9,558.0 112.1,558.0 113.3,558.0 114.6,558.0 115.8,558.0 117.1,558.0 118.3,558.0 119.5,558.0 120.8,558.0 122.0,558.0 123.2,558.0 124.5,558.0 125.7,558.0 127.0,558.0 128.2,558.0 129.4,558.0 130.7,558.0 131.9,558.0 133.1,558.0 134.4,558.0 135.6,558.0 136.9,558.0 138.1,558.0 139.3,558.0 140.6,558.0 141.8,558.0 143.1,558.0 144.3,558.0 145.5,558.0 146.8,558.0 148.0,558.0 149.2,558.0 150.5,558.0 151.7,558.0 153.0,558.0 154.2,558.0 155.4,558.0 156.7,558.0 157.9,558.0 159.1,558.0 160.4,558.0 161.6,558.0 162.9,558.0 164.1,558.0 165.3,558.0 166.6,558.0 167.8,558.0 169.1,558.0 170.3,558.0 171.5,558.0 172.8,558.0 174.0,558.0 175.2,558.0 176.5,558.0 177.7,558.0 179.0,558.0 180.2,558.0 181.4,558.0 182.7,558.0 183.9,558.0 185.1,558.0 186.4,558.0 187.6,558.0 188.9,558.0 190.1,558.0 191.3,558.0 192.6,558.0 193.8,558.0 195.0,558.0 196.3,558.0 197.5,558.0 198.8,558.0 200.0,558.0 201.2,558.0 202.5,558.0 203.7,558.0 205.0,558.0 206.2,558.0 207.4,558.0 208.7,558.0 209.9,558.0 211.1,558.0 212.4,558.0 213.6,558.0 214.9,558.0 216.1,558.0 217.3,558.0 218.6,558.0 219.8,558.0 221.0,558.0 222.3,558.0 223.5,558.0 224.8,558.0 226.0,558.0 227.2,558.0 228.5,558.0 229.7,558.0 230.9,558.0 232.2,558.0 233.4,558.0 234.7,558.0 235.9,558.0 237.1,558.0 238.4,558.0 239.6,558.0 240.9,558.0 242.1,558.0 243.3,558.0 244.6,558.0 245.8,558.0 247.0,558.0 248.3,558.0 249.5,558.0 250.8,558.0 252.0,558.0 253.2,558.0 254.5,558.0 255.7,558.0 256.9,558.0 258.2,558.0 259.4,558.0 260.7,558.0 261.9,558.0 263.1,558.0 264.4,558.0 265.6,558.0 266.9,558.0 268.1,558.0 269.3,558.0 270.6,558.0 271.8,558.0 273.0,558.0 274.3,558.0 275.5,558.0 276.8,558.0 278.0,558.0 279.2,558.0 280.5,558.0 281.7,558.0 282.9,558.0 284.2,558.0 285.4,558.0 286.7,558.0 287.9,558.0 289.1,558.0 290.4,558.0 291.6,558.0 292.9,558.0 294.1,558.0 295.3,558.0 296.6,558.0 297.8,558.0 299.0,558.0 300.3,558.0 301.5,558.0 302.8,558.0 304.0,558.0 305.2,558.0 306.5,558.0 307.7,558.0 308.9,558.0 310.2,558.0 311.4,558.0 312.7,558.0 313.9,558.0 315.1,558.0 316.4,558.0 317.6,558.0 318.8,558.0 320.1,558.0 321.3,558.0 322.6,558.0 323.8,558.0 325.0,558.0 326.3,558.0 327.5,558.0 328.8,558.0 330.0,558.0 331.2,558.0 332.5,558.0 333.7,558.0 334.9,558.0 336.2,558.0 337.4,558.0 338.7,558.0 339.9,558.0 341.1,558.0 342.4,558.0 343.6,558.0 344.8,558.0 346.1,558.0 347.3,558.0 348.6,558.0 349.8,558.0 351.0,558.0 352.3,558.0 353.5,558.0 354.8,558.0 356.0,558.0 357.2,558.0 358.5,558.0 359.7,558.0 360.9,558.0 362.2,558.0 363.4,558.0 364.7,558.0 365.9,558.0 367.1,558.0 368.4,558.0 369.6,558.0 370.8,558.0 372.1,558.0 373.3,558.0 374.6,558.0 375.8,558.0 377.0,558.0 378.3,558.0 379.5,558.0 380.7,558.0 382.0,558.0 383.2,558.0 384.5,558.0 385.7,558.0 386.9,558.0 388.2,558.0 389.4,558.0 390.7,558.0 391.9,558.0 393.1,557.9 394.4,557.9 395.6,557.9 396.8,557.9 398.1,557.9 399.3,557.9 400.6,557.9 401.8,557.9 403.0,557.9 404.3,557.9 405.5,557.9 406.7,557.9 408.0,557.9 409.2,557.9 410.5,557.9 411.7,557.9 412.9,557.9 414.2,557.9 415.4,557.9 416.6,557.9 417.9,557.9 419.1,557.9 420.4,557.9 421.6,557.9 422.8,557.9 424.1,557.9 425.3,557.9 426.6,557.9 427.8,557.9 429.0,557.9 430.3,557.9 431.5,557.9 432.7,557.8 434.0,557.8 435.2,557.8 436.5,557.8 437.7,557.8 438.9,557.8 440.2,557.8 441.4,557.8 442.6,557.8 443.9,557.8 445.1,557.8 446.4,557.8 447.6,557.8 448.8,557.8 450.1,557.8 451.3,557.8 452.6,557.8 453.8,557.7 455.0,557.7 456.3,557.7 457.5,557.7 458.7,557.7 460.0,557.7 461.2,557.7 462.5,557.7 463.7,557.7 464.9,557.7 466.2,557.7 467.4,557.6 468.6,557.6 469.9,557.6 471.1,557.6 472.4,557.6 473.6,557.6 474.8,557.6 476.1,557.6 477.3,557.6 478.6,557.6 479.8,557.5 481.0,557.5 482.3,557.5 483.5,557.5 484.7,557.5 486.0,557.5 487.2,557.5 488.5,557.4 489.7,557.4 490.9,557.4 492.2,557.4 493.4,557.4 494.6,557.4 495.9,557.3 497.1,557.3 498.4,557.3 499.6,557.3 500.8,557.3 502.1,557.2 503.3,557.2 504.5,557.2 505.8,557.2 507.0,557.2 508.3,557.1 509.5,557.1 510.7,557.1 512.0,557.1 513.2,557.0 514.5,557.0 515.7,557.0 516.9,557.0 518.2,556.9 519.4,556.9 520.6,556.9 521.9,556.8 523.1,556.8 524.4,556.8 525.6,556.7 526.8,556.7 528.1,556.7 529.3,556.6 530.5,556.6 531.8,556.6 533.0,556.5 534.3,556.5 535.5,556.4 536.7,556.4 538.0,556.4 539.2,556.3 540.5,556.3 541.7,556.2 542.9,556.2 544.2,556.1 545.4,556.1 546.6,556.0 547.9,556.0 549.1,555.9 550.4,555.9 551.6,555.8 552.8,555.8 554.1,555.7 555.3,555.6 556.5,555.6 557.8,555.5 559.0,555.4 560.3,555.4 561.5,555.3 562.7,555.2 564.0,555.2 565.2,555.1 566.4,555.0 567.7,554.9 568.9,554.8 570.2,554.8 571.4,554.7 572.6,554.6 573.9,554.5 575.1,554.4 576.4,554.3 577.6,554.2 578.8,554.1 580.1,554.0 581.3,553.9 582.5,553.8 583.8,553.7 585.0,553.6 586.3,553.4 587.5,553.3 588.7,553.2 590.0,553.1 591.2,552.9 592.4,552.8 593.7,552.7 594.9,552.5 596.2,552.4 597.4,552.2 598.6,552.1 599.9,551.9 601.1,551.8 602.4,551.6 603.6,551.4 604.8,551.2 606.1,551.1 607.3,550.9 608.5,550.7 609.8,550.5 611.0,550.3 612.3,550.1 613.5,549.9 614.7,549.7 616.0,549.5 617.2,549.2 618.4,549.0 619.7,548.8 620.9,548.5 622.2,548.3 623.4,548.0 624.6,547.7 625.9,547.5 627.1,547.2 628.3,546.9 629.6,546.6 630.8,546.3 632.1,546.0 633.3,545.7 634.5,545.4 635.8,545.0 637.0,544.7 638.3,544.3 639.5,544.0 640.7,543.6 642.0,543.2 643.2,542.8 644.4,542.4 645.7,542.0 646.9,541.6 648.2,541.2 649.4,540.7 650.6,540.3 651.9,539.8 653.1,539.3 654.3,538.8 655.6,538.3 656.8,537.8 658.1,537.3 659.3,536.7 660.5,536.2 661.8,535.6 663.0,535.0 664.2,534.4 665.5,533.8 666.7,533.1 668.0,532.5 669.2,531.8 670.4,531.1 671.7,530.4 672.9,529.7 674.2,528.9 675.4,528.1 676.6,527.3 677.9,526.5 679.1,525.7 680.3,524.9 681.6,524.0 682.8,523.1 684.1,522.2 685.3,521.2 686.5,520.3 687.8,519.3 689.0,518.2 690.2,517.2 691.5,516.1 692.7,515.0 694.0,513.9 695.2,512.7 696.4,511.5 697.7,510.3 698.9,509.0 700.2,507.7 701.4,506.4 702.6,505.1 703.9,503.7 705.1,502.2 706.3,500.8 707.6,499.2 708.8,497.7 710.1,496.1 711.3,494.5 712.5,492.8 713.8,491.1 715.0,489.3 716.2,487.5 717.5,485.6 718.7,483.7 720.0,481.8 721.2,479.8 722.4,477.7 723.7,475.6 724.9,473.4 726.1,471.2 727.4,468.9 728.6,466.6 729.9,464.1 731.1,461.7 732.3,459.1 733.6,456.5 734.8,453.9 736.1,451.1 737.3,448.3 738.5,445.4 739.8,442.4 741.0,439.4 742.2,436.3 743.5,433.1 744.7,429.8 746.0,426.4 747.2,422.9 748.4,419.3 749.7,415.7 750.9,411.9 752.1,408.1 753.4,404.1 754.6,400.1 755.9,395.9 757.1,391.7 758.3,387.3 759.6,382.8 760.8,378.2 762.1,373.4 763.3,368.5 764.5,363.6 765.8,358.4 767.0,353.2 768.2,347.8 769.5,342.2 770.7,336.5 772.0,330.7 773.2,324.7 774.4,318.6 775.7,312.3 776.9,305.8 778.1,299.1 779.4,292.3 780.6,285.3 781.9,278.1 783.1,270.8 784.3,263.2 785.6,255.4 786.8,247.4 788.1,239.3 789.3,230.9 790.5,222.2 791.8,213.4 793.0,204.3 794.2,195.0 795.5,185.4 796.7,175.6 798.0,165.5 799.2,155.2 800.4,144.6 801.7,133.7 802.9,122.5 804.1,111.0 805.4,99.2 806.6,87.1 807.9,74.7 809.1,62.0 810.3,48.9 811.6,35.5 812.8,21.7 814.0,7.6 815.3,-6.9 816.5,-21.8 817.8,-37.1 819.0,-52.8 820.2,-68.8 821.5,-85.4 822.7,-102.3 824.0,-119.7 825.2,-137.6 826.4,-155.9 827.7,-174.7 828.9,-194.0 830.1,-213.9 831.4,-234.2 832.6,-255.1 833.9,-276.5 835.1,-298.5 836.3,-321.1 837.6,-344.2 838.8,-368.0 840.0,-392.4 841.3,-417.4 842.5,-443.1 843.8,-469.5" fill="none" stroke="#041404" stroke-width="2"/>
<g clip-path="url(#cpB5x)"><path d="M82.4,558.0 83.6,558.0 84.9,558.0 86.1,558.0 87.3,558.0 88.6,558.0 89.8,558.0 91.1,558.0 92.3,558.0 93.5,558.0 94.8,558.0 96.0,558.0 97.2,558.0 98.5,558.0 99.7,558.0 101.0,558.0 102.2,558.0 103.4,558.0 104.7,558.0 105.9,558.0 107.1,558.0 108.4,558.0 109.6,558.0 110.9,558.0 112.1,558.0 113.3,558.0 114.6,558.0 115.8,558.0 117.1,558.0 118.3,558.0 119.5,558.0 120.8,558.0 122.0,558.0 123.2,558.0 124.5,558.0 125.7,558.0 127.0,558.0 128.2,558.0 129.4,558.0 130.7,558.0 131.9,558.0 133.1,558.0 134.4,558.0 135.6,558.0 136.9,558.0 138.1,558.0 139.3,558.0 140.6,558.0 141.8,558.0 143.1,558.0 144.3,558.0 145.5,558.0 146.8,558.0 148.0,558.0 149.2,558.0 150.5,558.0 151.7,558.0 153.0,558.0 154.2,558.0 155.4,558.0 156.7,558.0 157.9,558.0 159.1,558.0 160.4,558.0 161.6,558.0 162.9,558.0 164.1,558.0 165.3,558.0 166.6,558.0 167.8,558.0 169.1,558.0 170.3,558.0 171.5,558.0 172.8,558.0 174.0,558.0 175.2,558.0 176.5,558.0 177.7,558.0 179.0,558.0 180.2,558.0 181.4,558.0 182.7,558.0 183.9,558.0 185.1,558.0 186.4,558.0 187.6,558.0 188.9,558.0 190.1,558.0 191.3,558.0 192.6,558.0 193.8,558.0 195.0,558.0 196.3,558.0 197.5,558.0 198.8,558.0 200.0,558.0 201.2,558.0 202.5,558.0 203.7,558.0 205.0,558.0 206.2,558.0 207.4,558.0 208.7,558.0 209.9,558.0 211.1,558.0 212.4,558.0 213.6,558.0 214.9,558.0 216.1,558.0 217.3,558.0 218.6,558.0 219.8,558.0 221.0,558.0 222.3,558.0 223.5,558.0 224.8,558.0 226.0,558.0 227.2,558.0 228.5,558.0 229.7,558.0 230.9,558.0 232.2,558.0 233.4,558.0 234.7,558.0 235.9,558.0 237.1,558.0 238.4,558.0 239.6,558.0 240.9,558.0 242.1,558.0 243.3,558.0 244.6,558.0 245.8,558.0 247.0,558.0 248.3,558.0 249.5,558.0 250.8,558.0 252.0,558.0 253.2,558.0 254.5,558.0 255.7,558.0 256.9,558.0 258.2,558.0 259.4,558.0 260.7,558.0 261.9,558.0 263.1,558.0 264.4,558.0 265.6,558.0 266.9,558.0 268.1,558.0 269.3,558.0 270.6,558.0 271.8,558.0 273.0,558.0 274.3,558.0 275.5,558.0 276.8,558.0 278.0,558.0 279.2,558.0 280.5,558.0 281.7,558.0 282.9,558.0 284.2,558.0 285.4,558.0 286.7,558.0 287.9,558.0 289.1,558.0 290.4,558.0 291.6,558.0 292.9,558.0 294.1,558.0 295.3,558.0 296.6,558.0 297.8,558.0 299.0,558.0 300.3,558.0 301.5,558.0 302.8,558.0 304.0,558.0 305.2,558.0 306.5,558.0 307.7,558.0 308.9,558.0 310.2,558.0 311.4,558.0 312.7,558.0 313.9,558.0 315.1,558.0 316.4,558.0 317.6,558.0 318.8,558.0 320.1,558.0 321.3,558.0 322.6,558.0 323.8,558.0 325.0,558.0 326.3,558.0 327.5,558.0 328.8,558.0 330.0,558.0 331.2,558.0 332.5,558.0 333.7,558.0 334.9,558.0 336.2,558.0 337.4,558.0 338.7,558.0 339.9,558.0 341.1,558.0 342.4,558.0 343.6,558.0 344.8,558.0 346.1,558.0 347.3,558.0 348.6,558.0 349.8,558.0 351.0,558.0 352.3,558.0 353.5,558.0 354.8,558.0 356.0,558.0 357.2,558.0 358.5,558.0 359.7,558.0 360.9,558.0 362.2,558.0 363.4,558.0 364.7,558.0 365.9,558.0 367.1,558.0 368.4,558.0 369.6,558.0 370.8,558.0 372.1,558.0 373.3,558.0 374.6,558.0 375.8,558.0 377.0,558.0 378.3,558.0 379.5,558.0 380.7,558.0 382.0,558.0 383.2,558.0 384.5,558.0 385.7,558.0 386.9,558.0 388.2,558.0 389.4,558.0 390.7,558.0 391.9,558.0 393.1,557.9 394.4,557.9 395.6,557.9 396.8,557.9 398.1,557.9 399.3,557.9 400.6,557.9 401.8,557.9 403.0,557.9 404.3,557.9 405.5,557.9 406.7,557.9 408.0,557.9 409.2,557.9 410.5,557.9 411.7,557.9 412.9,557.9 414.2,557.9 415.4,557.9 416.6,557.9 417.9,557.9 419.1,557.9 420.4,557.9 421.6,557.9 422.8,557.9 424.1,557.9 425.3,557.9 426.6,557.9 427.8,557.9 429.0,557.9 430.3,557.9 431.5,557.9 432.7,557.8 434.0,557.8 435.2,557.8 436.5,557.8 437.7,557.8 438.9,557.8 440.2,557.8 441.4,557.8 442.6,557.8 443.9,557.8 445.1,557.8 446.4,557.8 447.6,557.8 448.8,557.8 450.1,557.8 451.3,557.8 452.6,557.8 453.8,557.7 455.0,557.7 456.3,557.7 457.5,557.7 458.7,557.7 460.0,557.7 461.2,557.7 462.5,557.7 463.7,557.7 464.9,557.7 466.2,557.7 467.4,557.6 468.6,557.6 469.9,557.6 471.1,557.6 472.4,557.6 473.6,557.6 474.8,557.6 476.1,557.6 477.3,557.6 478.6,557.6 479.8,557.5 481.0,557.5 482.3,557.5 483.5,557.5 484.7,557.5 486.0,557.5 487.2,557.5 488.5,557.4 489.7,557.4 490.9,557.4 492.2,557.4 493.4,557.4 494.6,557.4 495.9,557.3 497.1,557.3 498.4,557.3 499.6,557.3 500.8,557.3 502.1,557.2 503.3,557.2 504.5,557.2 505.8,557.2 507.0,557.2 508.3,557.1 509.5,557.1 510.7,557.1 512.0,557.1 513.2,557.0 514.5,557.0 515.7,557.0 516.9,557.0 518.2,556.9 519.4,556.9 520.6,556.9 521.9,556.8 523.1,556.8 524.4,556.8 525.6,556.7 526.8,556.7 528.1,556.7 529.3,556.6 530.5,556.6 531.8,556.6 533.0,556.5 534.3,556.5 535.5,556.4 536.7,556.4 538.0,556.4 539.2,556.3 540.5,556.3 541.7,556.2 542.9,556.2 544.2,556.1 545.4,556.1 546.6,556.0 547.9,556.0 549.1,555.9 550.4,555.9 551.6,555.8 552.8,555.8 554.1,555.7 555.3,555.6 556.5,555.6 557.8,555.5 559.0,555.4 560.3,555.4 561.5,555.3 562.7,555.2 564.0,555.2 565.2,555.1 566.4,555.0 567.7,554.9 568.9,554.8 570.2,554.8 571.4,554.7 572.6,554.6 573.9,554.5 575.1,554.4 576.4,554.3 577.6,554.2 578.8,554.1 580.1,554.0 581.3,553.9 582.5,553.8 583.8,553.7 585.0,553.6 586.3,553.4 587.5,553.3 588.7,553.2 590.0,553.1 591.2,552.9 592.4,552.8 593.7,552.7 594.9,552.5 596.2,552.4 597.4,552.2 598.6,552.1 599.9,551.9 601.1,551.8 602.4,551.6 603.6,551.4 604.8,551.2 606.1,551.1 607.3,550.9 608.5,550.7 609.8,550.5 611.0,550.3 612.3,550.1 613.5,549.9 614.7,549.7 616.0,549.5 617.2,549.2 618.4,549.0 619.7,548.8 620.9,548.5 622.2,548.3 623.4,548.0 624.6,547.7 625.9,547.5 627.1,547.2 628.3,546.9 629.6,546.6 630.8,546.3 632.1,546.0 633.3,545.7 634.5,545.4 635.8,545.0 637.0,544.7 638.3,544.3 639.5,544.0 640.7,543.6 642.0,543.2 643.2,542.8 644.4,542.4 645.7,542.0 646.9,541.6 648.2,541.2 649.4,540.7 650.6,540.3 651.9,539.8 653.1,539.3 654.3,538.8 655.6,538.3 656.8,537.8 658.1,537.3 659.3,536.7 660.5,536.2 661.8,535.6 663.0,535.0 664.2,534.4 665.5,533.8 666.7,533.1 668.0,532.5 669.2,531.8 670.4,531.1 671.7,530.4 672.9,529.7 674.2,528.9 675.4,528.1 676.6,527.3 677.9,526.5 679.1,525.7 680.3,524.9 681.6,524.0 682.8,523.1 684.1,522.2 685.3,521.2 686.5,520.3 687.8,519.3 689.0,518.2 690.2,517.2 691.5,516.1 692.7,515.0 694.0,513.9 695.2,512.7 696.4,511.5 697.7,510.3 698.9,509.0 700.2,507.7 701.4,506.4 702.6,505.1 703.9,503.7 705.1,502.2 706.3,500.8 707.6,499.2 708.8,497.7 710.1,496.1 711.3,494.5 712.5,492.8 713.8,491.1 715.0,489.3 716.2,487.5 717.5,485.6 718.7,483.7 720.0,481.8 721.2,479.8 722.4,477.7 723.7,475.6 724.9,473.4 726.1,471.2 727.4,468.9 728.6,466.6 729.9,464.1 731.1,461.7 732.3,459.1 733.6,456.5 734.8,453.9 736.1,451.1 737.3,448.3 738.5,445.4 739.8,442.4 741.0,439.4 742.2,436.3 743.5,433.1 744.7,429.8 746.0,426.4 747.2,422.9 748.4,419.3 749.7,415.7 750.9,411.9 752.1,408.1 753.4,404.1 754.6,400.1 755.9,395.9 757.1,391.7 758.3,387.3 759.6,382.8 760.8,378.2 762.1,373.4 763.3,368.5 764.5,363.6 765.8,358.4 767.0,353.2 768.2,347.8 769.5,342.2 770.7,336.5 772.0,330.7 773.2,324.7 774.4,318.6 775.7,312.3 776.9,305.8 778.1,299.1 779.4,292.3 780.6,285.3 781.9,278.1 783.1,270.8 784.3,263.2 785.6,255.4 786.8,247.4 788.1,239.3 789.3,230.9 790.5,222.2 791.8,213.4 793.0,204.3 794.2,195.0 795.5,185.4 796.7,175.6 798.0,165.5 799.2,155.2 800.4,144.6 801.7,133.7 802.9,122.5 804.1,111.0 805.4,99.2 806.6,87.1 807.9,74.7 809.1,62.0 810.3,48.9 811.6,35.5 812.8,21.7 814.0,7.6 815.3,-6.9 816.5,-21.8 817.8,-37.1 819.0,-52.8 820.2,-68.8 821.5,-85.4 822.7,-102.3 824.0,-119.7 825.2,-137.6 826.4,-155.9 827.7,-174.7 828.9,-194.0 830.1,-213.9 831.4,-234.2 832.6,-255.1 833.9,-276.5 835.1,-298.5 836.3,-321.1 837.6,-344.2 838.8,-368.0 840.0,-392.4 841.3,-417.4 842.5,-443.1 843.8,-469.5" fill="none" stroke="#24886E" stroke-width="2"/></g>
<path d="M82.4,573.1 83.6,573.1 84.9,573.1 86.1,573.1 87.3,573.1 88.6,573.1 89.8,573.1 91.1,573.1 92.3,573.1 93.5,573.1 94.8,573.1 96.0,573.1 97.2,573.1 98.5,573.1 99.7,573.1 101.0,573.1 102.2,573.1 103.4,573.1 104.7,573.1 105.9,573.1 107.1,573.1 108.4,573.1 109.6,573.1 110.9,573.1 112.1,573.1 113.3,573.1 114.6,573.1 115.8,573.1 117.1,573.1 118.3,573.1 119.5,573.0 120.8,573.0 122.0,573.0 123.2,573.0 124.5,573.0 125.7,573.0 127.0,573.0 128.2,573.0 129.4,573.0 130.7,573.0 131.9,573.0 133.1,573.0 134.4,573.0 135.6,573.0 136.9,573.0 138.1,573.0 139.3,573.0 140.6,573.0 141.8,573.0 143.1,573.0 144.3,573.0 145.5,573.0 146.8,573.0 148.0,573.0 149.2,573.0 150.5,573.0 151.7,573.0 153.0,573.0 154.2,573.0 155.4,573.0 156.7,573.0 157.9,573.0 159.1,573.0 160.4,573.0 161.6,573.0 162.9,573.0 164.1,573.0 165.3,572.9 166.6,572.9 167.8,572.9 169.1,572.9 170.3,572.9 171.5,572.9 172.8,572.9 174.0,572.9 175.2,572.9 176.5,572.9 177.7,572.9 179.0,572.9 180.2,572.9 181.4,572.9 182.7,572.9 183.9,572.9 185.1,572.9 186.4,572.9 187.6,572.9 188.9,572.9 190.1,572.9 191.3,572.9 192.6,572.9 193.8,572.8 195.0,572.8 196.3,572.8 197.5,572.8 198.8,572.8 200.0,572.8 201.2,572.8 202.5,572.8 203.7,572.8 205.0,572.8 206.2,572.8 207.4,572.8 208.7,572.8 209.9,572.8 211.1,572.8 212.4,572.8 213.6,572.8 214.9,572.8 216.1,572.7 217.3,572.7 218.6,572.7 219.8,572.7 221.0,572.7 222.3,572.7 223.5,572.7 224.8,572.7 226.0,572.7 227.2,572.7 228.5,572.7 229.7,572.7 230.9,572.7 232.2,572.7 233.4,572.6 234.7,572.6 235.9,572.6 237.1,572.6 238.4,572.6 239.6,572.6 240.9,572.6 242.1,572.6 243.3,572.6 244.6,572.6 245.8,572.6 247.0,572.6 248.3,572.5 249.5,572.5 250.8,572.5 252.0,572.5 253.2,572.5 254.5,572.5 255.7,572.5 256.9,572.5 258.2,572.5 259.4,572.5 260.7,572.4 261.9,572.4 263.1,572.4 264.4,572.4 265.6,572.4 266.9,572.4 268.1,572.4 269.3,572.4 270.6,572.4 271.8,572.3 273.0,572.3 274.3,572.3 275.5,572.3 276.8,572.3 278.0,572.3 279.2,572.3 280.5,572.3 281.7,572.2 282.9,572.2 284.2,572.2 285.4,572.2 286.7,572.2 287.9,572.2 289.1,572.2 290.4,572.1 291.6,572.1 292.9,572.1 294.1,572.1 295.3,572.1 296.6,572.1 297.8,572.0 299.0,572.0 300.3,572.0 301.5,572.0 302.8,572.0 304.0,572.0 305.2,571.9 306.5,571.9 307.7,571.9 308.9,571.9 310.2,571.9 311.4,571.8 312.7,571.8 313.9,571.8 315.1,571.8 316.4,571.8 317.6,571.7 318.8,571.7 320.1,571.7 321.3,571.7 322.6,571.7 323.8,571.6 325.0,571.6 326.3,571.6 327.5,571.6 328.8,571.5 330.0,571.5 331.2,571.5 332.5,571.5 333.7,571.4 334.9,571.4 336.2,571.4 337.4,571.4 338.7,571.3 339.9,571.3 341.1,571.3 342.4,571.3 343.6,571.2 344.8,571.2 346.1,571.2 347.3,571.1 348.6,571.1 349.8,571.1 351.0,571.1 352.3,571.0 353.5,571.0 354.8,571.0 356.0,570.9 357.2,570.9 358.5,570.9 359.7,570.8 360.9,570.8 362.2,570.8 363.4,570.7 364.7,570.7 365.9,570.7 367.1,570.6 368.4,570.6 369.6,570.5 370.8,570.5 372.1,570.5 373.3,570.4 374.6,570.4 375.8,570.3 377.0,570.3 378.3,570.3 379.5,570.2 380.7,570.2 382.0,570.1 383.2,570.1 384.5,570.0 385.7,570.0 386.9,570.0 388.2,569.9 389.4,569.9 390.7,569.8 391.9,569.8 393.1,569.7 394.4,569.7 395.6,569.6 396.8,569.6 398.1,569.5 399.3,569.5 400.6,569.4 401.8,569.3 403.0,569.3 404.3,569.2 405.5,569.2 406.7,569.1 408.0,569.1 409.2,569.0 410.5,568.9 411.7,568.9 412.9,568.8 414.2,568.8 415.4,568.7 416.6,568.6 417.9,568.6 419.1,568.5 420.4,568.4 421.6,568.4 422.8,568.3 424.1,568.2 425.3,568.1 426.6,568.1 427.8,568.0 429.0,567.9 430.3,567.8 431.5,567.8 432.7,567.7 434.0,567.6 435.2,567.5 436.5,567.4 437.7,567.4 438.9,567.3 440.2,567.2 441.4,567.1 442.6,567.0 443.9,566.9 445.1,566.8 446.4,566.7 447.6,566.6 448.8,566.6 450.1,566.5 451.3,566.4 452.6,566.3 453.8,566.2 455.0,566.1 456.3,566.0 457.5,565.8 458.7,565.7 460.0,565.6 461.2,565.5 462.5,565.4 463.7,565.3 464.9,565.2 466.2,565.1 467.4,565.0 468.6,564.8 469.9,564.7 471.1,564.6 472.4,564.5 473.6,564.3 474.8,564.2 476.1,564.1 477.3,563.9 478.6,563.8 479.8,563.7 481.0,563.5 482.3,563.4 483.5,563.3 484.7,563.1 486.0,563.0 487.2,562.8 488.5,562.7 489.7,562.5 490.9,562.4 492.2,562.2 493.4,562.1 494.6,561.9 495.9,561.7 497.1,561.6 498.4,561.4 499.6,561.2 500.8,561.0 502.1,560.9 503.3,560.7 504.5,560.5 505.8,560.3 507.0,560.1 508.3,560.0 509.5,559.8 510.7,559.6 512.0,559.4 513.2,559.2 514.5,559.0 515.7,558.8 516.9,558.6 518.2,558.3 519.4,558.1 520.6,557.9 521.9,557.7 523.1,557.5 524.4,557.2 525.6,557.0 526.8,556.8 528.1,556.5 529.3,556.3 530.5,556.0 531.8,555.8 533.0,555.5 534.3,555.3 535.5,555.0 536.7,554.8 538.0,554.5 539.2,554.2 540.5,554.0 541.7,553.7 542.9,553.4 544.2,553.1 545.4,552.8 546.6,552.5 547.9,552.2 549.1,551.9 550.4,551.6 551.6,551.3 552.8,551.0 554.1,550.7 555.3,550.3 556.5,550.0 557.8,549.7 559.0,549.3 560.3,549.0 561.5,548.6 562.7,548.3 564.0,547.9 565.2,547.6 566.4,547.2 567.7,546.8 568.9,546.4 570.2,546.0 571.4,545.6 572.6,545.2 573.9,544.8 575.1,544.4 576.4,544.0 577.6,543.6 578.8,543.2 580.1,542.7 581.3,542.3 582.5,541.8 583.8,541.4 585.0,540.9 586.3,540.5 587.5,540.0 588.7,539.5 590.0,539.0 591.2,538.5 592.4,538.0 593.7,537.5 594.9,537.0 596.2,536.5 597.4,535.9 598.6,535.4 599.9,534.8 601.1,534.3 602.4,533.7 603.6,533.2 604.8,532.6 606.1,532.0 607.3,531.4 608.5,530.8 609.8,530.2 611.0,529.6 612.3,528.9 613.5,528.3 614.7,527.6 616.0,527.0 617.2,526.3 618.4,525.6 619.7,524.9 620.9,524.2 622.2,523.5 623.4,522.8 624.6,522.1 625.9,521.3 627.1,520.6 628.3,519.8 629.6,519.1 630.8,518.3 632.1,517.5 633.3,516.7 634.5,515.9 635.8,515.0 637.0,514.2 638.3,513.3 639.5,512.5 640.7,511.6 642.0,510.7 643.2,509.8 644.4,508.9 645.7,507.9 646.9,507.0 648.2,506.0 649.4,505.1 650.6,504.1 651.9,503.1 653.1,502.1 654.3,501.0 655.6,500.0 656.8,498.9 658.1,497.9 659.3,496.8 660.5,495.7 661.8,494.5 663.0,493.4 664.2,492.2 665.5,491.1 666.7,489.9 668.0,488.7 669.2,487.4 670.4,486.2 671.7,484.9 672.9,483.7 674.2,482.4 675.4,481.1 676.6,479.7 677.9,478.4 679.1,477.0 680.3,475.6 681.6,474.2 682.8,472.8 684.1,471.3 685.3,469.8 686.5,468.3 687.8,466.8 689.0,465.3 690.2,463.7 691.5,462.1 692.7,460.5 694.0,458.9 695.2,457.2 696.4,455.6 697.7,453.9 698.9,452.1 700.2,450.4 701.4,448.6 702.6,446.8 703.9,445.0 705.1,443.1 706.3,441.2 707.6,439.3 708.8,437.4 710.1,435.4 711.3,433.4 712.5,431.4 713.8,429.4 715.0,427.3 716.2,425.2 717.5,423.0 718.7,420.8 720.0,418.6 721.2,416.4 722.4,414.1 723.7,411.8 724.9,409.5 726.1,407.1 727.4,404.7 728.6,402.3 729.9,399.8 731.1,397.3 732.3,394.8 733.6,392.2 734.8,389.6 736.1,386.9 737.3,384.2 738.5,381.5 739.8,378.7 741.0,375.9 742.2,373.0 743.5,370.1 744.7,367.2 746.0,364.2 747.2,361.2 748.4,358.1 749.7,355.0 750.9,351.8 752.1,348.6 753.4,345.4 754.6,342.1 755.9,338.7 757.1,335.3 758.3,331.9 759.6,328.4 760.8,324.9 762.1,321.3 763.3,317.6 764.5,313.9 765.8,310.2 767.0,306.4 768.2,302.5 769.5,298.6 770.7,294.6 772.0,290.6 773.2,286.5 774.4,282.3 775.7,278.1 776.9,273.9 778.1,269.5 779.4,265.1 780.6,260.7 781.9,256.2 783.1,251.6 784.3,246.9 785.6,242.2 786.8,237.4 788.1,232.5 789.3,227.6 790.5,222.6 791.8,217.5 793.0,212.4 794.2,207.2 795.5,201.9 796.7,196.5 798.0,191.0 799.2,185.5 800.4,179.9 801.7,174.2 802.9,168.4 804.1,162.6 805.4,156.6 806.6,150.6 807.9,144.5 809.1,138.3 810.3,132.0 811.6,125.6 812.8,119.1 814.0,112.5 815.3,105.9 816.5,99.1 817.8,92.2 819.0,85.3 820.2,78.2 821.5,71.1 822.7,63.8 824.0,56.4 825.2,48.9 826.4,41.3 827.7,33.6 828.9,25.8 830.1,17.9 831.4,9.9 832.6,1.7 833.9,-6.5 835.1,-14.9 836.3,-23.4 837.6,-32.1 838.8,-40.8 840.0,-49.7 841.3,-58.7 842.5,-67.9 843.8,-77.2" fill="none" stroke="#1D58A0" stroke-width="2"/>
</g>
<g>
<rect x="135.75" y="591.65" width="5.5" height="5.5" fill="none" stroke="#2460AC" stroke-width="1.7"/>
<rect x="183.75" y="591.65" width="5.5" height="5.5" fill="none" stroke="#2460AC" stroke-width="1.7"/>
<rect x="207.95" y="580.75" width="5.5" height="5.5" fill="none" stroke="#2460AC" stroke-width="1.7"/>
<rect x="219.65" y="591.65" width="5.5" height="5.5" fill="none" stroke="#2460AC" stroke-width="1.7"/>
<rect x="243.75" y="580.75" width="5.5" height="5.5" fill="none" stroke="#2460AC" stroke-width="1.7"/>
<rect x="267.95" y="591.65" width="5.5" height="5.5" fill="none" stroke="#2460AC" stroke-width="1.7"/>
<rect x="291.55" y="591.65" width="5.5" height="5.5" fill="none" stroke="#2460AC" stroke-width="1.7"/>
<rect x="315.65" y="591.65" width="5.5" height="5.5" fill="none" stroke="#2460AC" stroke-width="1.7"/>
<rect x="340.05" y="525.75" width="5.5" height="5.5" fill="none" stroke="#2460AC" stroke-width="1.7"/>
<rect x="364.05" y="569.15" width="5.5" height="5.5" fill="none" stroke="#2460AC" stroke-width="1.7"/>
<rect x="387.75" y="591.45" width="5.5" height="5.5" fill="none" stroke="#2460AC" stroke-width="1.7"/>
<rect x="411.75" y="591.45" width="5.5" height="5.5" fill="none" stroke="#2460AC" stroke-width="1.7"/>
<rect x="435.75" y="591.45" width="5.5" height="5.5" fill="none" stroke="#2460AC" stroke-width="1.7"/>
<rect x="483.95" y="591.45" width="5.5" height="5.5" fill="none" stroke="#2460AC" stroke-width="1.7"/>
<rect x="507.75" y="469.85" width="5.5" height="5.5" fill="none" stroke="#2460AC" stroke-width="1.7"/>
<rect x="531.75" y="516.75" width="5.5" height="5.5" fill="none" stroke="#2460AC" stroke-width="1.7"/>
<rect x="711.45" y="386.45" width="5.5" height="5.5" fill="none" stroke="#2460AC" stroke-width="1.7"/>
<rect x="603.65" y="441.05" width="5.5" height="5.5" fill="none" stroke="#2460AC" stroke-width="1.7"/>
<rect x="579.35" y="489.95" width="5.5" height="5.5" fill="none" stroke="#2460AC" stroke-width="1.7"/>
<rect x="687.45" y="494.85" width="5.5" height="5.5" fill="none" stroke="#2460AC" stroke-width="1.7"/>
<rect x="615.45" y="564.55" width="5.5" height="5.5" fill="none" stroke="#2460AC" stroke-width="1.7"/>
<rect x="639.75" y="555.65" width="5.5" height="5.5" fill="none" stroke="#2460AC" stroke-width="1.7"/>
<rect x="663.75" y="557.35" width="5.5" height="5.5" fill="none" stroke="#2460AC" stroke-width="1.7"/>
<rect x="555.95" y="591.55" width="5.5" height="5.5" fill="none" stroke="#2460AC" stroke-width="1.7"/>
<rect x="807.55" y="112.15" width="5.5" height="5.5" fill="none" stroke="#2460AC" stroke-width="1.7"/>
</g>
<g mask="url(#mOut5)">
<rect x="111.30" y="585.50" width="5.6" height="5.6" fill="none" stroke="#071207" stroke-width="2.1"/>
<rect x="135.70" y="574.50" width="5.6" height="5.6" fill="none" stroke="#071207" stroke-width="2.1"/>
<rect x="160.10" y="592.30" width="5.6" height="5.6" fill="none" stroke="#071207" stroke-width="2.1"/>
<rect x="185.00" y="568.50" width="5.6" height="5.6" fill="none" stroke="#071207" stroke-width="2.1"/>
<rect x="197.40" y="592.60" width="5.6" height="5.6" fill="none" stroke="#071207" stroke-width="2.1"/>
<rect x="222.20" y="578.10" width="5.6" height="5.6" fill="none" stroke="#071207" stroke-width="2.1"/>
<rect x="246.70" y="592.60" width="5.6" height="5.6" fill="none" stroke="#071207" stroke-width="2.1"/>
<rect x="296.20" y="592.60" width="5.6" height="5.6" fill="none" stroke="#071207" stroke-width="2.1"/>
<rect x="271.10" y="477.30" width="5.6" height="5.6" fill="none" stroke="#071207" stroke-width="2.1"/>
<rect x="321.20" y="526.30" width="5.6" height="5.6" fill="none" stroke="#071207" stroke-width="2.1"/>
<rect x="345.70" y="548.90" width="5.6" height="5.6" fill="none" stroke="#071207" stroke-width="2.1"/>
<rect x="395.30" y="524.90" width="5.6" height="5.6" fill="none" stroke="#071207" stroke-width="2.1"/>
<rect x="370.30" y="592.60" width="5.6" height="5.6" fill="none" stroke="#071207" stroke-width="2.1"/>
<rect x="419.90" y="592.60" width="5.6" height="5.6" fill="none" stroke="#071207" stroke-width="2.1"/>
<rect x="444.40" y="569.90" width="5.6" height="5.6" fill="none" stroke="#071207" stroke-width="2.1"/>
<rect x="469.00" y="503.90" width="5.6" height="5.6" fill="none" stroke="#071207" stroke-width="2.1"/>
<rect x="494.00" y="548.10" width="5.6" height="5.6" fill="none" stroke="#071207" stroke-width="2.1"/>
<rect x="518.60" y="574.80" width="5.6" height="5.6" fill="none" stroke="#071207" stroke-width="2.1"/>
<rect x="543.10" y="569.10" width="5.6" height="5.6" fill="none" stroke="#071207" stroke-width="2.1"/>
<rect x="605.20" y="476.80" width="5.6" height="5.6" fill="none" stroke="#071207" stroke-width="2.1"/>
<rect x="654.50" y="511.30" width="5.6" height="5.6" fill="none" stroke="#071207" stroke-width="2.1"/>
<rect x="593.10" y="530.30" width="5.6" height="5.6" fill="none" stroke="#071207" stroke-width="2.1"/>
<rect x="753.10" y="508.60" width="5.6" height="5.6" fill="none" stroke="#071207" stroke-width="2.1"/>
<rect x="703.80" y="525.10" width="5.6" height="5.6" fill="none" stroke="#071207" stroke-width="2.1"/>
<rect x="568.40" y="592.40" width="5.6" height="5.6" fill="none" stroke="#071207" stroke-width="2.1"/>
<rect x="630.20" y="592.40" width="5.6" height="5.6" fill="none" stroke="#071207" stroke-width="2.1"/>
<rect x="728.50" y="592.40" width="5.6" height="5.6" fill="none" stroke="#071207" stroke-width="2.1"/>
<rect x="678.80" y="203.20" width="5.6" height="5.6" fill="none" stroke="#071207" stroke-width="2.1"/>
<rect x="777.50" y="208.20" width="5.6" height="5.6" fill="none" stroke="#071207" stroke-width="2.1"/>
<rect x="802.50" y="116.20" width="5.6" height="5.6" fill="none" stroke="#071207" stroke-width="2.1"/>
</g>
<rect x="461.30" y="368.70" width="3.4" height="3.4" fill="none" stroke="#1F5CA8" stroke-width="1.4"/>
<g clip-path="url(#cpB5)">
<rect x="111.20" y="585.40" width="5.8" height="5.8" fill="none" stroke="#3A9A80" stroke-width="1.7"/>
<rect x="135.60" y="574.40" width="5.8" height="5.8" fill="none" stroke="#3A9A80" stroke-width="1.7"/>
<rect x="160.00" y="592.20" width="5.8" height="5.8" fill="none" stroke="#3A9A80" stroke-width="1.7"/>
<rect x="184.90" y="568.40" width="5.8" height="5.8" fill="none" stroke="#3A9A80" stroke-width="1.7"/>
<rect x="197.30" y="592.50" width="5.8" height="5.8" fill="none" stroke="#3A9A80" stroke-width="1.7"/>
<rect x="222.10" y="578.00" width="5.8" height="5.8" fill="none" stroke="#3A9A80" stroke-width="1.7"/>
<rect x="246.60" y="592.50" width="5.8" height="5.8" fill="none" stroke="#3A9A80" stroke-width="1.7"/>
<rect x="296.10" y="592.50" width="5.8" height="5.8" fill="none" stroke="#3A9A80" stroke-width="1.7"/>
<rect x="271.00" y="477.20" width="5.8" height="5.8" fill="none" stroke="#3A9A80" stroke-width="1.7"/>
<rect x="321.10" y="526.20" width="5.8" height="5.8" fill="none" stroke="#3A9A80" stroke-width="1.7"/>
<rect x="345.60" y="548.80" width="5.8" height="5.8" fill="none" stroke="#3A9A80" stroke-width="1.7"/>
<rect x="395.20" y="524.80" width="5.8" height="5.8" fill="none" stroke="#3A9A80" stroke-width="1.7"/>
<rect x="370.20" y="592.50" width="5.8" height="5.8" fill="none" stroke="#3A9A80" stroke-width="1.7"/>
<rect x="419.80" y="592.50" width="5.8" height="5.8" fill="none" stroke="#3A9A80" stroke-width="1.7"/>
<rect x="444.30" y="569.80" width="5.8" height="5.8" fill="none" stroke="#3A9A80" stroke-width="1.7"/>
<rect x="468.90" y="503.80" width="5.8" height="5.8" fill="none" stroke="#3A9A80" stroke-width="1.7"/>
<rect x="493.90" y="548.00" width="5.8" height="5.8" fill="none" stroke="#3A9A80" stroke-width="1.7"/>
<rect x="518.50" y="574.70" width="5.8" height="5.8" fill="none" stroke="#3A9A80" stroke-width="1.7"/>
<rect x="543.00" y="569.00" width="5.8" height="5.8" fill="none" stroke="#3A9A80" stroke-width="1.7"/>
<rect x="605.10" y="476.70" width="5.8" height="5.8" fill="none" stroke="#3A9A80" stroke-width="1.7"/>
<rect x="654.40" y="511.20" width="5.8" height="5.8" fill="none" stroke="#3A9A80" stroke-width="1.7"/>
<rect x="593.00" y="530.20" width="5.8" height="5.8" fill="none" stroke="#3A9A80" stroke-width="1.7"/>
<rect x="753.00" y="508.50" width="5.8" height="5.8" fill="none" stroke="#3A9A80" stroke-width="1.7"/>
<rect x="703.70" y="525.00" width="5.8" height="5.8" fill="none" stroke="#3A9A80" stroke-width="1.7"/>
<rect x="568.30" y="592.30" width="5.8" height="5.8" fill="none" stroke="#3A9A80" stroke-width="1.7"/>
<rect x="630.10" y="592.30" width="5.8" height="5.8" fill="none" stroke="#3A9A80" stroke-width="1.7"/>
<rect x="728.40" y="592.30" width="5.8" height="5.8" fill="none" stroke="#3A9A80" stroke-width="1.7"/>
<rect x="678.70" y="203.10" width="5.8" height="5.8" fill="none" stroke="#3A9A80" stroke-width="1.7"/>
<rect x="777.40" y="208.10" width="5.8" height="5.8" fill="none" stroke="#3A9A80" stroke-width="1.7"/>
<rect x="802.40" y="116.10" width="5.8" height="5.8" fill="none" stroke="#3A9A80" stroke-width="1.7"/>
</g>
<line x1="86.5" y1="100.3" x2="833.0" y2="100.3" stroke="#0C2C0C" stroke-width="2.2"/>
<line x1="86.5" y1="99.3" x2="86.5" y2="615.0" stroke="#0C2C0C" stroke-width="2.2"/>
<line x1="85.5" y1="614.0" x2="833.0" y2="614.0" stroke="#0C2C0C" stroke-width="2.2"/>
<line x1="833.0" y1="99.3" x2="833.0" y2="615.0" stroke="#0A3A6E" stroke-width="2.2"/>
<line x1="200.00" y1="613.00" x2="200.00" y2="608.50" stroke="#6CCB3C" stroke-width="1.3" />
<line x1="200.00" y1="101.30" x2="200.00" y2="105.30" stroke="#6CCB3C" stroke-width="1.3" />
<line x1="323.80" y1="613.00" x2="323.80" y2="608.50" stroke="#6CCB3C" stroke-width="1.3" />
<line x1="323.80" y1="101.30" x2="323.80" y2="105.30" stroke="#6CCB3C" stroke-width="1.3" />
<line x1="447.60" y1="613.00" x2="447.60" y2="608.50" stroke="#6CCB3C" stroke-width="1.3" />
<line x1="447.60" y1="101.30" x2="447.60" y2="105.30" stroke="#6CCB3C" stroke-width="1.3" />
<line x1="571.40" y1="613.00" x2="571.40" y2="608.50" stroke="#6CCB3C" stroke-width="1.3" />
<line x1="571.40" y1="101.30" x2="571.40" y2="105.30" stroke="#6CCB3C" stroke-width="1.3" />
<line x1="695.20" y1="613.00" x2="695.20" y2="608.50" stroke="#6CCB3C" stroke-width="1.3" />
<line x1="695.20" y1="101.30" x2="695.20" y2="105.30" stroke="#6CCB3C" stroke-width="1.3" />
<line x1="819.00" y1="613.00" x2="819.00" y2="608.50" stroke="#6CCB3C" stroke-width="1.3" />
<line x1="819.00" y1="101.30" x2="819.00" y2="105.30" stroke="#6CCB3C" stroke-width="1.3" />
<line x1="87.50" y1="595.20" x2="91.50" y2="595.20" stroke="#5DBE38" stroke-width="1.3" />
<line x1="832.00" y1="595.20" x2="829.00" y2="595.20" stroke="#7AD04A" stroke-width="1.3" />
<text x="80.50" y="601.00" font-family="'Liberation Sans', sans-serif" font-size="17.5" fill="#1C5A10" text-anchor="end" stroke="#1C5A10" stroke-width="0.4">0</text>
<line x1="87.50" y1="488.20" x2="91.50" y2="488.20" stroke="#5DBE38" stroke-width="1.3" />
<line x1="832.00" y1="488.20" x2="829.00" y2="488.20" stroke="#7AD04A" stroke-width="1.3" />
<text x="80.50" y="494.00" font-family="'Liberation Sans', sans-serif" font-size="17.5" fill="#1C5A10" text-anchor="end" stroke="#1C5A10" stroke-width="0.4">1</text>
<line x1="87.50" y1="381.20" x2="91.50" y2="381.20" stroke="#5DBE38" stroke-width="1.3" />
<line x1="832.00" y1="381.20" x2="829.00" y2="381.20" stroke="#7AD04A" stroke-width="1.3" />
<text x="80.50" y="387.00" font-family="'Liberation Sans', sans-serif" font-size="17.5" fill="#1C5A10" text-anchor="end" stroke="#1C5A10" stroke-width="0.4">2</text>
<line x1="87.50" y1="274.20" x2="91.50" y2="274.20" stroke="#5DBE38" stroke-width="1.3" />
<line x1="832.00" y1="274.20" x2="829.00" y2="274.20" stroke="#7AD04A" stroke-width="1.3" />
<text x="80.50" y="280.00" font-family="'Liberation Sans', sans-serif" font-size="17.5" fill="#1C5A10" text-anchor="end" stroke="#1C5A10" stroke-width="0.4">3</text>
<line x1="87.50" y1="167.20" x2="91.50" y2="167.20" stroke="#5DBE38" stroke-width="1.3" />
<line x1="832.00" y1="167.20" x2="829.00" y2="167.20" stroke="#7AD04A" stroke-width="1.3" />
<text x="80.50" y="173.00" font-family="'Liberation Sans', sans-serif" font-size="17.5" fill="#1C5A10" text-anchor="end" stroke="#1C5A10" stroke-width="0.4">4</text>
<line x1="832.00" y1="595.00" x2="828.00" y2="595.00" stroke="#2E8AD8" stroke-width="1.3" />
<text x="842.20" y="601.00" font-family="'Liberation Sans', sans-serif" font-size="17.8" fill="#0B3C7E" stroke="#0B3C7E" stroke-width="0.35">0.0</text>
<line x1="832.00" y1="483.93" x2="828.00" y2="483.93" stroke="#2E8AD8" stroke-width="1.3" />
<text x="842.20" y="489.93" font-family="'Liberation Sans', sans-serif" font-size="17.8" fill="#0B3C7E" stroke="#0B3C7E" stroke-width="0.35">0.5</text>
<line x1="832.00" y1="372.85" x2="828.00" y2="372.85" stroke="#2E8AD8" stroke-width="1.3" />
<text x="842.20" y="378.85" font-family="'Liberation Sans', sans-serif" font-size="17.8" fill="#0B3C7E" stroke="#0B3C7E" stroke-width="0.35">1.0</text>
<line x1="832.00" y1="261.78" x2="828.00" y2="261.78" stroke="#2E8AD8" stroke-width="1.3" />
<text x="842.20" y="267.78" font-family="'Liberation Sans', sans-serif" font-size="17.8" fill="#0B3C7E" stroke="#0B3C7E" stroke-width="0.35">1.5</text>
<line x1="832.00" y1="150.70" x2="828.00" y2="150.70" stroke="#2E8AD8" stroke-width="1.3" />
<text x="842.20" y="156.70" font-family="'Liberation Sans', sans-serif" font-size="17.8" fill="#0B3C7E" stroke="#0B3C7E" stroke-width="0.35">2.0</text>
<text x="190.70" y="634.30" font-family="'Liberation Sans', sans-serif" font-size="16.8" fill="#122A12" textLength="63.2" lengthAdjust="spacingAndGlyphs" stroke="#122A12" stroke-width="0.25">20(1970)</text>
<text x="314.50" y="634.30" font-family="'Liberation Sans', sans-serif" font-size="16.8" fill="#122A12" textLength="63.2" lengthAdjust="spacingAndGlyphs" stroke="#122A12" stroke-width="0.25">30(1980)</text>
<text x="438.30" y="634.30" font-family="'Liberation Sans', sans-serif" font-size="16.8" fill="#122A12" textLength="63.2" lengthAdjust="spacingAndGlyphs" stroke="#122A12" stroke-width="0.25">40(1990)</text>
<text x="562.10" y="634.30" font-family="'Liberation Sans', sans-serif" font-size="16.8" fill="#122A12" textLength="66.5" lengthAdjust="spacingAndGlyphs" stroke="#122A12" stroke-width="0.25">50(2000).</text>
<text x="685.90" y="634.30" font-family="'Liberation Sans', sans-serif" font-size="16.8" fill="#122A12" textLength="63.2" lengthAdjust="spacingAndGlyphs" stroke="#122A12" stroke-width="0.25">60(2010)</text>
<text x="809.70" y="634.30" font-family="'Liberation Sans', sans-serif" font-size="16.8" fill="#122A12" textLength="63.2" lengthAdjust="spacingAndGlyphs" stroke="#122A12" stroke-width="0.25">70(2020)</text>
<text x="317.40" y="658.20" font-family="'Liberation Sans', sans-serif" font-size="21" fill="#176017" font-weight="bold" textLength="281" lengthAdjust="spacingAndGlyphs" stroke="#176017" stroke-width="0.4">Years since 1950(Calendar year)</text>
<text transform="translate(54.1,539) rotate(-90)" font-family="'Liberation Sans', sans-serif" font-size="26" fill="#000" textLength="361" lengthAdjust="spacingAndGlyphs">MP concentration (pcs kg-DW<tspan font-size="16" dy="-10">-1</tspan><tspan dy="10">)</tspan></text>
<text transform="translate(891.9,537.3) rotate(-90)" font-family="'Liberation Sans', sans-serif" font-size="26" fill="#000" textLength="361" lengthAdjust="spacingAndGlyphs">MP concentration (pcs kg-DW<tspan font-size="16" dy="-10">-1</tspan><tspan dy="10">)</tspan></text>
<text x="87.5" y="95.2" font-family="'DejaVu Sans', sans-serif" font-size="18" fill="#1E7A1E">×<tspan fill="#0F4A0F">10</tspan><tspan fill="#0F4A0F" font-size="13" dy="-8">3</tspan></text>
<text x="818.6" y="96" font-family="'DejaVu Sans', sans-serif" font-size="18" fill="#1562B4">×10<tspan font-size="13" dy="-8">3</tspan></text>
<text transform="translate(15.3,691.3) scale(0.905,1)" font-family="'Liberation Sans', sans-serif" font-size="56" fill="#FF3300" stroke="#FF3300" stroke-width="0.8">a</text>
<text x="110.00" y="127.30" font-family="'Liberation Sans', sans-serif" font-size="16.6" fill="#0C320C" font-style="italic" textLength="78.5" lengthAdjust="spacingAndGlyphs" stroke="#0C320C" stroke-width="0.45">Parameter</text>
<text x="404.70" y="127.30" font-family="'Liberation Sans', sans-serif" font-size="16.6" fill="#0C320C" font-style="italic" text-anchor="end" stroke="#0C320C" stroke-width="0.45">Value</text>
<text x="434.10" y="127.30" font-family="'Liberation Sans', sans-serif" font-size="16.6" fill="#0C320C" font-style="italic" textLength="89" lengthAdjust="spacingAndGlyphs" stroke="#0C320C" stroke-width="0.45">Uncertainty</text>
<line x1="98.40" y1="138.80" x2="533.80" y2="138.80" stroke="#45B83A" stroke-width="1.6" />
<text x="110.00" y="164.00" font-family="'Liberation Sans', sans-serif" font-size="16.6" fill="#0C320C" font-style="italic" stroke="#0C320C" stroke-width="0.45">A</text>
<text x="321.80" y="164.00" font-family="'DejaVu Sans Mono', monospace" font-size="15.4" fill="#0C320C" textLength="82.9" lengthAdjust="spacingAndGlyphs" stroke="#0C320C" stroke-width="0.45">6.668e-05</text>
<text x="440.80" y="164.00" font-family="'DejaVu Sans Mono', monospace" font-size="15.4" fill="#0C320C" textLength="82.5" lengthAdjust="spacingAndGlyphs" stroke="#0C320C" stroke-width="0.45">3.869e-04</text>
<text x="110.00" y="192.00" font-family="'Liberation Sans', sans-serif" font-size="16.6" fill="#0C320C" font-style="italic" stroke="#0C320C" stroke-width="0.45">b</text>
<text x="321.80" y="192.00" font-family="'DejaVu Sans Mono', monospace" font-size="15.4" fill="#0C320C" textLength="82.9" lengthAdjust="spacingAndGlyphs" stroke="#0C320C" stroke-width="0.45">2.601e-01</text>
<text x="440.80" y="192.00" font-family="'DejaVu Sans Mono', monospace" font-size="15.4" fill="#0C320C" textLength="82.5" lengthAdjust="spacingAndGlyphs" stroke="#0C320C" stroke-width="0.45">8.506e-02</text>
<text x="110.00" y="220.00" font-family="'Liberation Sans', sans-serif" font-size="16.6" fill="#0C320C" font-style="italic" stroke="#0C320C" stroke-width="0.45">C</text>
<text x="321.80" y="220.00" font-family="'DejaVu Sans Mono', monospace" font-size="15.4" fill="#0C320C" textLength="82.9" lengthAdjust="spacingAndGlyphs" stroke="#0C320C" stroke-width="0.45">3.474e+02</text>
<text x="440.80" y="220.00" font-family="'DejaVu Sans Mono', monospace" font-size="15.4" fill="#0C320C" textLength="82.5" lengthAdjust="spacingAndGlyphs" stroke="#0C320C" stroke-width="0.45">1.582e+02</text>
<line x1="98.40" y1="231.80" x2="533.80" y2="231.80" stroke="#0E3A0E" stroke-width="2.4" />
<text x="107.5" y="278.7" font-family="'DejaVu Sans', sans-serif" font-size="23" fill="#0E3A0E" stroke="#0E3A0E" stroke-width="0.3" textLength="277.5" lengthAdjust="spacingAndGlyphs">Avg.  Residual <tspan fill="#3CA83C">=</tspan> <tspan font-weight="bold">4.48e+02</tspan></text>
<text x="100.00" y="302.70" font-family="'Liberation Sans', sans-serif" font-size="16.6" fill="#0B3470" font-weight="bold" font-style="italic" textLength="78.8" lengthAdjust="spacingAndGlyphs">Parameter</text>
<text x="394.70" y="302.70" font-family="'Liberation Sans', sans-serif" font-size="16.6" fill="#0B3470" font-weight="bold" font-style="italic" text-anchor="end">Value</text>
<text x="424.00" y="302.70" font-family="'Liberation Sans', sans-serif" font-size="16.6" fill="#0B3470" font-weight="bold" font-style="italic" textLength="88.5" lengthAdjust="spacingAndGlyphs">Uncertainty</text>
<line x1="88.60" y1="314.20" x2="521.50" y2="314.20" stroke="#3AAEE0" stroke-width="1.6" />
<text x="100.00" y="339.10" font-family="'Liberation Sans', sans-serif" font-size="16.6" fill="#0B3470" font-weight="bold" font-style="italic">A</text>
<text x="312.00" y="339.10" font-family="'DejaVu Sans Mono', monospace" font-size="15.0" fill="#0B3470" textLength="81.2" lengthAdjust="spacingAndGlyphs" stroke="#0B3470" stroke-width="0.5">1.000e-01</text>
<text x="430.80" y="339.10" font-family="'DejaVu Sans Mono', monospace" font-size="15.0" fill="#0B3470" textLength="81.2" lengthAdjust="spacingAndGlyphs" stroke="#0B3470" stroke-width="0.5">2.093e-01</text>
<text x="100.00" y="366.75" font-family="'Liberation Sans', sans-serif" font-size="16.6" fill="#0B3470" font-weight="bold" font-style="italic">b</text>
<text x="312.00" y="366.75" font-family="'DejaVu Sans Mono', monospace" font-size="15.0" fill="#0B3470" textLength="81.2" lengthAdjust="spacingAndGlyphs" stroke="#0B3470" stroke-width="0.5">1.437e-01</text>
<text x="430.80" y="366.75" font-family="'DejaVu Sans Mono', monospace" font-size="15.0" fill="#0B3470" textLength="81.2" lengthAdjust="spacingAndGlyphs" stroke="#0B3470" stroke-width="0.5">3.069e-02</text>
<text x="100.00" y="394.40" font-family="'Liberation Sans', sans-serif" font-size="16.6" fill="#0B3470" font-weight="bold" font-style="italic">C</text>
<text x="312.00" y="394.40" font-family="'DejaVu Sans Mono', monospace" font-size="15.0" fill="#0B3470" textLength="81.2" lengthAdjust="spacingAndGlyphs" stroke="#0B3470" stroke-width="0.5">9.816e+01</text>
<text x="430.80" y="394.40" font-family="'DejaVu Sans Mono', monospace" font-size="15.0" fill="#0B3470" textLength="81.2" lengthAdjust="spacingAndGlyphs" stroke="#0B3470" stroke-width="0.5">6.327e+01</text>
<line x1="88.60" y1="406.50" x2="521.50" y2="406.50" stroke="#0B3470" stroke-width="2.4" />
<text x="96.4" y="445.8" font-family="'DejaVu Sans', sans-serif" font-size="23" fill="#0B3470" stroke="#0B3470" stroke-width="0.3" textLength="277.8" lengthAdjust="spacingAndGlyphs">Avg.  Residual <tspan fill="#2E8AD0">=</tspan> <tspan font-weight="bold">1.73e+02</tspan></text>
<text x="571.2" y="152.7" font-family="'Liberation Sans', sans-serif" font-size="38" fill="#000" textLength="167" lengthAdjust="spacingAndGlyphs"><tspan font-style="italic">y</tspan>=<tspan font-style="italic" font-weight="bold">A</tspan><tspan font-style="italic">e</tspan><tspan font-style="italic" font-weight="bold" font-size="26" dy="-14">b</tspan><tspan font-style="italic" font-size="26">t</tspan><tspan dy="14">+</tspan><tspan font-style="italic" font-weight="bold">C</tspan></text>
<text x="576.80" y="197.00" font-family="'Liberation Sans', sans-serif" font-size="33.5" fill="#156615" font-weight="bold" textLength="93" lengthAdjust="spacingAndGlyphs">SE-08</text>
<text x="576.60" y="373.10" font-family="'Liberation Sans', sans-serif" font-size="33.5" fill="#1560AA" font-weight="bold" textLength="93.5" lengthAdjust="spacingAndGlyphs">SE-05</text>
<defs><filter id="tubeB" x="-5%" y="-10%" width="110%" height="120%" color-interpolation-filters="sRGB"><feGaussianBlur in="SourceAlpha" stdDeviation="20" result="bl"/><feComponentTransfer in="bl" result="m"><feFuncA type="linear" slope="2.1" intercept="-0.95"/></feComponentTransfer><feFlood flood-color="#A4D8E3" result="lc"/><feComposite in="lc" in2="m" operator="in" result="lm"/><feComposite in="lm" in2="SourceAlpha" operator="in" result="lm2"/><feMerge><feMergeNode in="SourceGraphic"/><feMergeNode in="lm2"/></feMerge></filter><filter id="tubeC" x="-5%" y="-10%" width="110%" height="120%" color-interpolation-filters="sRGB"><feGaussianBlur in="SourceAlpha" stdDeviation="20" result="bl"/><feComponentTransfer in="bl" result="m"><feFuncA type="linear" slope="2.1" intercept="-0.95"/></feComponentTransfer><feFlood flood-color="#4FE64F" result="lc"/><feComposite in="lc" in2="m" operator="in" result="lm"/><feComposite in="lm" in2="SourceAlpha" operator="in" result="lm2"/><feMerge><feMergeNode in="SourceGraphic"/><feMergeNode in="lm2"/></feMerge></filter></defs>
<path d="M1003.1,235.9 1005.3,236.0 1007.5,236.1 1009.7,236.0 1011.9,235.9 1014.1,235.7 1016.3,235.5 1018.5,235.2 1020.7,234.9 1022.9,234.4 1025.1,234.0 1027.3,233.5 1029.5,232.9 1031.6,232.3 1033.8,231.6 1036.0,230.9 1038.2,230.1 1040.4,229.3 1042.6,228.5 1044.8,227.6 1047.0,226.7 1049.2,225.8 1051.4,224.8 1053.6,223.8 1055.8,222.8 1058.0,221.7 1060.2,220.6 1062.4,219.5 1064.6,218.4 1066.8,217.2 1069.0,216.1 1071.2,214.9 1073.4,213.7 1075.6,212.5 1077.8,211.3 1080.0,210.1 1082.2,208.8 1084.4,207.6 1086.6,206.4 1088.8,205.1 1091.0,203.9 1093.2,202.7 1095.4,201.4 1097.6,200.2 1099.8,199.0 1102.0,197.8 1104.2,196.6 1106.4,195.5 1108.6,194.3 1110.8,193.2 1113.0,192.1 1115.2,191.0 1117.4,189.9 1119.6,188.9 1121.8,187.9 1124.0,186.9 1126.2,186.0 1128.4,185.0 1130.6,184.2 1132.8,183.3 1135.0,182.5 1137.2,181.8 1139.3,181.0 1141.5,180.3 1143.7,179.7 1145.9,179.1 1148.1,178.5 1150.3,177.9 1152.5,177.4 1154.7,176.9 1156.9,176.4 1159.1,176.0 1161.3,175.6 1163.5,175.2 1165.7,174.8 1167.9,174.5 1170.1,174.2 1172.3,173.9 1174.5,173.6 1176.7,173.3 1178.9,173.1 1181.1,172.8 1183.3,172.6 1185.5,172.4 1187.7,172.3 1189.9,172.1 1192.1,171.9 1194.3,171.8 1196.5,171.6 1198.7,171.5 1200.9,171.4 1203.1,171.3 1205.3,171.1 1207.5,171.0 1209.7,170.9 1211.9,170.8 1214.1,170.7 1216.3,170.6 1218.5,170.5 1220.7,170.4 1222.9,170.3 1225.1,170.2 1227.3,170.0 1229.5,169.9 1231.7,169.8 1233.9,169.6 1236.1,169.5 1238.3,169.3 1240.5,169.1 1242.7,168.9 1244.9,168.7 1247.0,168.5 1249.2,168.2 1251.4,168.0 1253.6,167.7 1255.8,167.4 1258.0,167.0 1260.2,166.7 1262.4,166.3 1264.6,165.9 1266.8,165.5 1269.0,165.1 1271.2,164.6 1273.4,164.1 1275.6,163.6 1277.8,163.0 1280.0,162.4 1282.2,161.8 1284.4,161.1 1286.6,160.4 1288.8,159.7 1291.0,159.0 1293.2,158.1 1295.4,157.3 1297.6,156.4 1299.8,155.5 1302.0,154.5 1304.2,153.5 1306.4,152.4 1308.6,151.3 1308.6,274.3 1306.4,272.5 1304.2,270.7 1302.0,268.9 1299.8,267.2 1297.6,265.5 1295.4,263.9 1293.2,262.3 1291.0,260.8 1288.8,259.2 1286.6,257.8 1284.4,256.3 1282.2,254.9 1280.0,253.6 1277.8,252.2 1275.6,250.9 1273.4,249.7 1271.2,248.4 1269.0,247.3 1266.8,246.1 1264.6,245.0 1262.4,243.9 1260.2,242.9 1258.0,241.9 1255.8,240.9 1253.6,239.9 1251.4,239.0 1249.2,238.2 1247.0,237.3 1244.9,236.5 1242.7,235.7 1240.5,235.0 1238.3,234.3 1236.1,233.6 1233.9,232.9 1231.7,232.3 1229.5,231.7 1227.3,231.2 1225.1,230.7 1222.9,230.2 1220.7,229.7 1218.5,229.3 1216.3,228.9 1214.1,228.5 1211.9,228.1 1209.7,227.8 1207.5,227.5 1205.3,227.3 1203.1,227.0 1200.9,226.8 1198.7,226.6 1196.5,226.5 1194.3,226.4 1192.1,226.3 1189.9,226.2 1187.7,226.2 1185.5,226.1 1183.3,226.1 1181.1,226.2 1178.9,226.2 1176.7,226.3 1174.5,226.4 1172.3,226.6 1170.1,226.7 1167.9,226.9 1165.7,227.1 1163.5,227.3 1161.3,227.6 1159.1,227.8 1156.9,228.1 1154.7,228.5 1152.5,228.8 1150.3,229.2 1148.1,229.5 1145.9,229.9 1143.7,230.4 1141.5,230.8 1139.3,231.3 1137.2,231.8 1135.0,232.3 1132.8,232.8 1130.6,233.4 1128.4,233.9 1126.2,234.5 1124.0,235.1 1121.8,235.7 1119.6,236.4 1117.4,237.0 1115.2,237.7 1113.0,238.4 1110.8,239.1 1108.6,239.8 1106.4,240.6 1104.2,241.3 1102.0,242.1 1099.8,242.9 1097.6,243.7 1095.4,244.6 1093.2,245.4 1091.0,246.3 1088.8,247.2 1086.6,248.1 1084.4,249.0 1082.2,250.0 1080.0,251.0 1077.8,252.0 1075.6,253.0 1073.4,254.0 1071.2,255.1 1069.0,256.2 1066.8,257.3 1064.6,258.4 1062.4,259.6 1060.2,260.8 1058.0,262.0 1055.8,263.2 1053.6,264.5 1051.4,265.8 1049.2,267.1 1047.0,268.4 1044.8,269.8 1042.6,271.2 1040.4,272.6 1038.2,274.1 1036.0,275.6 1033.8,277.1 1031.6,278.6 1029.5,280.2 1027.3,281.8 1025.1,283.5 1022.9,285.1 1020.7,286.8 1018.5,288.6 1016.3,290.3 1014.1,292.1 1011.9,294.0 1009.7,295.8 1007.5,297.7 1005.3,299.7 1003.1,301.6 Z" fill="#3AA5C0" filter="url(#tubeB)"/>
<path d="M1003.1,270.2 1005.3,268.9 1007.5,267.7 1009.7,266.4 1011.9,265.1 1014.1,263.8 1016.3,262.5 1018.5,261.2 1020.7,259.9 1022.9,258.6 1025.1,257.3 1027.3,256.0 1029.5,254.7 1031.6,253.4 1033.8,252.1 1036.0,250.8 1038.2,249.5 1040.4,248.2 1042.6,247.0 1044.8,245.7 1047.0,244.5 1049.2,243.2 1051.4,242.0 1053.6,240.7 1055.8,239.5 1058.0,238.3 1060.2,237.1 1062.4,235.9 1064.6,234.7 1066.8,233.5 1069.0,232.4 1071.2,231.2 1073.4,230.1 1075.6,229.0 1077.8,227.9 1080.0,226.8 1082.2,225.7 1084.4,224.7 1086.6,223.6 1088.8,222.6 1091.0,221.6 1093.2,220.6 1095.4,219.7 1097.6,218.7 1099.8,217.8 1102.0,216.9 1104.2,216.0 1106.4,215.2 1108.6,214.4 1110.8,213.5 1113.0,212.8 1115.2,212.0 1117.4,211.3 1119.6,210.6 1121.8,209.9 1124.0,209.2 1126.2,208.6 1128.4,208.0 1130.6,207.4 1132.8,206.8 1135.0,206.2 1137.2,205.7 1139.3,205.2 1141.5,204.7 1143.7,204.2 1145.9,203.8 1148.1,203.4 1150.3,203.0 1152.5,202.6 1154.7,202.2 1156.9,201.9 1159.1,201.6 1161.3,201.3 1163.5,201.0 1165.7,200.7 1167.9,200.4 1170.1,200.2 1172.3,200.0 1174.5,199.8 1176.7,199.6 1178.9,199.5 1181.1,199.3 1183.3,199.2 1185.5,199.1 1187.7,199.0 1189.9,198.9 1192.1,198.9 1194.3,198.9 1196.5,198.8 1198.7,198.8 1200.9,198.8 1203.1,198.9 1205.3,198.9 1207.5,198.9 1209.7,199.0 1211.9,199.1 1214.1,199.2 1216.3,199.3 1218.5,199.4 1220.7,199.6 1222.9,199.7 1225.1,199.9 1227.3,200.1 1229.5,200.3 1231.7,200.5 1233.9,200.7 1236.1,200.9 1238.3,201.1 1240.5,201.4 1242.7,201.7 1244.9,201.9 1247.0,202.2 1249.2,202.5 1251.4,202.8 1253.6,203.2 1255.8,203.5 1258.0,203.8 1260.2,204.2 1262.4,204.5 1264.6,204.9 1266.8,205.3 1269.0,205.7 1271.2,206.1 1273.4,206.5 1275.6,206.9 1277.8,207.3 1280.0,207.7 1282.2,208.2 1284.4,208.6 1286.6,209.1 1288.8,209.5 1291.0,210.0 1293.2,210.5 1295.4,211.0 1297.6,211.4 1299.8,211.9 1302.0,212.4 1304.2,212.9 1306.4,213.4 1308.6,214.0" fill="none" stroke="#1E2EE6" stroke-width="1.5"/>
<g fill="none" stroke="#2424DC" stroke-width="1.2">
<circle cx="1002.84" cy="262.22" r="2.1"/>
<circle cx="1005.93" cy="268.64" r="2.1"/>
<circle cx="1009.02" cy="268.64" r="2.1"/>
<circle cx="1014.49" cy="268.64" r="2.1"/>
<circle cx="1021.86" cy="258.42" r="2.1"/>
<circle cx="1024.24" cy="268.64" r="2.1"/>
<circle cx="1031.61" cy="258.42" r="2.1"/>
<circle cx="1037.79" cy="268.64" r="2.1"/>
<circle cx="1039.69" cy="268.64" r="2.1"/>
<circle cx="1048.01" cy="268.64" r="2.1"/>
<circle cx="1053.01" cy="205.40" r="2.1"/>
<circle cx="1055.62" cy="247.24" r="2.1"/>
<circle cx="1066.32" cy="268.64" r="2.1"/>
<circle cx="1074.40" cy="268.64" r="2.1"/>
<circle cx="1086.29" cy="268.64" r="2.1"/>
<circle cx="1104.12" cy="268.64" r="2.1"/>
<circle cx="1119.81" cy="151.90" r="2.1"/>
<circle cx="1133.84" cy="196.60" r="2.1"/>
<circle cx="1150.25" cy="268.64" r="2.1"/>
<circle cx="1170.93" cy="170.92" r="2.1"/>
<circle cx="1193.99" cy="242.96" r="2.1"/>
<circle cx="1212.06" cy="234.40" r="2.1"/>
<circle cx="1232.51" cy="175.92" r="2.1"/>
<circle cx="1238.45" cy="236.31" r="2.1"/>
<circle cx="1285.53" cy="268.64" r="2.1"/>
<circle cx="1309.54" cy="268.64" r="2.1"/>
<circle cx="1094.70" cy="52.40" r="2.1"/>
<circle cx="1262.40" cy="71.50" r="2.1"/>
<circle cx="1185.30" cy="123.90" r="2.1"/>
</g>
<g stroke="#6F6FEE" stroke-width="1">
<line x1="1002.84" y1="306.2" x2="1002.84" y2="313.7"/>
<line x1="1004.50" y1="306.2" x2="1004.50" y2="313.7"/>
<line x1="1006.64" y1="306.2" x2="1006.64" y2="313.7"/>
<line x1="1009.02" y1="306.2" x2="1009.02" y2="313.7"/>
<line x1="1014.49" y1="306.2" x2="1014.49" y2="313.7"/>
<line x1="1021.86" y1="306.2" x2="1021.86" y2="313.7"/>
<line x1="1024.24" y1="306.2" x2="1024.24" y2="313.7"/>
<line x1="1031.61" y1="306.2" x2="1031.61" y2="313.7"/>
<line x1="1037.79" y1="306.2" x2="1037.79" y2="313.7"/>
<line x1="1039.69" y1="306.2" x2="1039.69" y2="313.7"/>
<line x1="1048.01" y1="306.2" x2="1048.01" y2="313.7"/>
<line x1="1053.01" y1="306.2" x2="1053.01" y2="313.7"/>
<line x1="1055.62" y1="306.2" x2="1055.62" y2="313.7"/>
<line x1="1066.32" y1="306.2" x2="1066.32" y2="313.7"/>
<line x1="1074.40" y1="306.2" x2="1074.40" y2="313.7"/>
<line x1="1086.29" y1="306.2" x2="1086.29" y2="313.7"/>
<line x1="1094.37" y1="306.2" x2="1094.37" y2="313.7"/>
<line x1="1104.12" y1="306.2" x2="1104.12" y2="313.7"/>
<line x1="1119.81" y1="306.2" x2="1119.81" y2="313.7"/>
<line x1="1133.84" y1="306.2" x2="1133.84" y2="313.7"/>
<line x1="1150.25" y1="306.2" x2="1150.25" y2="313.7"/>
<line x1="1170.93" y1="306.2" x2="1170.93" y2="313.7"/>
<line x1="1186.15" y1="306.2" x2="1186.15" y2="313.7"/>
<line x1="1193.99" y1="306.2" x2="1193.99" y2="313.7"/>
<line x1="1212.06" y1="306.2" x2="1212.06" y2="313.7"/>
<line x1="1232.51" y1="306.2" x2="1232.51" y2="313.7"/>
<line x1="1238.45" y1="306.2" x2="1238.45" y2="313.7"/>
<line x1="1263.18" y1="306.2" x2="1263.18" y2="313.7"/>
<line x1="1285.53" y1="306.2" x2="1285.53" y2="313.7"/>
<line x1="1309.54" y1="306.2" x2="1309.54" y2="313.7"/>
</g>
<rect x="990.6" y="43.0" width="331.0" height="271.2" fill="none" stroke="#3C3C3C" stroke-width="1.6"/>
<line x1="986.10" y1="57.20" x2="990.60" y2="57.20" stroke="#3C3C3C" stroke-width="1.2" />
<text transform="translate(982.30,57.20) rotate(-90)" font-family="'Liberation Sans', sans-serif" font-size="10.4" fill="#161616" text-anchor="middle" textLength="12.0" lengthAdjust="spacingAndGlyphs" stroke="#161616" stroke-width="0.3">800</text>
<line x1="986.10" y1="100.30" x2="990.60" y2="100.30" stroke="#3C3C3C" stroke-width="1.2" />
<text transform="translate(982.30,100.30) rotate(-90)" font-family="'Liberation Sans', sans-serif" font-size="10.4" fill="#161616" text-anchor="middle" textLength="12.0" lengthAdjust="spacingAndGlyphs" stroke="#161616" stroke-width="0.3">600</text>
<line x1="986.10" y1="143.00" x2="990.60" y2="143.00" stroke="#3C3C3C" stroke-width="1.2" />
<text transform="translate(982.30,143.00) rotate(-90)" font-family="'Liberation Sans', sans-serif" font-size="10.4" fill="#161616" text-anchor="middle" textLength="12.0" lengthAdjust="spacingAndGlyphs" stroke="#161616" stroke-width="0.3">400</text>
<line x1="986.10" y1="186.10" x2="990.60" y2="186.10" stroke="#3C3C3C" stroke-width="1.2" />
<text transform="translate(982.30,186.10) rotate(-90)" font-family="'Liberation Sans', sans-serif" font-size="10.4" fill="#161616" text-anchor="middle" textLength="12.0" lengthAdjust="spacingAndGlyphs" stroke="#161616" stroke-width="0.3">200</text>
<line x1="986.10" y1="229.20" x2="990.60" y2="229.20" stroke="#3C3C3C" stroke-width="1.2" />
<text transform="translate(982.30,229.20) rotate(-90)" font-family="'Liberation Sans', sans-serif" font-size="10.4" fill="#161616" text-anchor="middle" textLength="4.0" lengthAdjust="spacingAndGlyphs" stroke="#161616" stroke-width="0.3">0</text>
<line x1="986.10" y1="272.30" x2="990.60" y2="272.30" stroke="#3C3C3C" stroke-width="1.2" />
<text transform="translate(982.30,272.30) rotate(-90)" font-family="'Liberation Sans', sans-serif" font-size="10.4" fill="#161616" text-anchor="middle" textLength="15.0" lengthAdjust="spacingAndGlyphs" stroke="#161616" stroke-width="0.3">-200</text>
<line x1="995.50" y1="314.20" x2="995.50" y2="318.80" stroke="#3C3C3C" stroke-width="1.2" />
<text x="995.50" y="329.90" font-family="'Liberation Sans', sans-serif" font-size="7.6" fill="#222" font-weight="bold" text-anchor="middle" textLength="3.95" lengthAdjust="spacingAndGlyphs">0</text>
<line x1="1077.90" y1="314.20" x2="1077.90" y2="318.80" stroke="#3C3C3C" stroke-width="1.2" />
<text x="1077.90" y="329.90" font-family="'Liberation Sans', sans-serif" font-size="7.6" fill="#222" font-weight="bold" text-anchor="middle" textLength="11.850000000000001" lengthAdjust="spacingAndGlyphs">100</text>
<line x1="1160.30" y1="314.20" x2="1160.30" y2="318.80" stroke="#3C3C3C" stroke-width="1.2" />
<text x="1160.30" y="329.90" font-family="'Liberation Sans', sans-serif" font-size="7.6" fill="#222" font-weight="bold" text-anchor="middle" textLength="11.850000000000001" lengthAdjust="spacingAndGlyphs">200</text>
<line x1="1242.70" y1="314.20" x2="1242.70" y2="318.80" stroke="#3C3C3C" stroke-width="1.2" />
<text x="1242.70" y="329.90" font-family="'Liberation Sans', sans-serif" font-size="7.6" fill="#222" font-weight="bold" text-anchor="middle" textLength="11.850000000000001" lengthAdjust="spacingAndGlyphs">300</text>
<text x="1154.60" y="344.20" font-family="'Liberation Sans', sans-serif" font-size="16.3" fill="#000" font-weight="bold" text-anchor="middle" textLength="222" lengthAdjust="spacingAndGlyphs" stroke="#000" stroke-width="0.7">Global plastic production</text>
<text transform="translate(967.00,177.60) rotate(-90)" font-family="'Liberation Sans', sans-serif" font-size="16" fill="#000" font-weight="bold" text-anchor="middle" textLength="72.5" lengthAdjust="spacingAndGlyphs" stroke="#000" stroke-width="0.35">s(x,1.809)</text>
<text x="995.70" y="85.10" font-family="'Liberation Sans', sans-serif" font-size="17.2" fill="#1E1E1E" textLength="201.5" lengthAdjust="spacingAndGlyphs" letter-spacing="-0.6" stroke="#1E1E1E" stroke-width="0.5">Deviance explained = 22.4%,</text>
<text x="997.10" y="110.90" font-family="'Liberation Sans', sans-serif" font-size="17.2" fill="#1E1E1E" stroke="#1E1E1E" stroke-width="0.5" letter-spacing="-0.6" textLength="86.7" lengthAdjust="spacingAndGlyphs"><tspan font-style="italic">p</tspan> = 6.81e-02</text>
<path d="M1386.9,246.5 1389.1,246.3 1391.3,246.1 1393.5,245.8 1395.7,245.3 1397.9,244.8 1400.1,244.3 1402.3,243.6 1404.5,242.9 1406.7,242.1 1409.0,241.2 1411.2,240.3 1413.4,239.3 1415.6,238.2 1417.8,237.1 1420.0,236.0 1422.2,234.8 1424.4,233.5 1426.6,232.3 1428.8,230.9 1431.0,229.6 1433.2,228.2 1435.4,226.8 1437.6,225.4 1439.8,223.9 1442.1,222.4 1444.3,221.0 1446.5,219.5 1448.7,218.0 1450.9,216.5 1453.1,215.0 1455.3,213.5 1457.5,212.0 1459.7,210.5 1461.9,209.0 1464.1,207.5 1466.3,206.1 1468.5,204.7 1470.7,203.3 1472.9,201.9 1475.1,200.5 1477.4,199.1 1479.6,197.8 1481.8,196.5 1484.0,195.2 1486.2,193.9 1488.4,192.6 1490.6,191.4 1492.8,190.2 1495.0,189.1 1497.2,187.9 1499.4,186.8 1501.6,185.8 1503.8,184.7 1506.0,183.7 1508.2,182.8 1510.5,181.8 1512.7,181.0 1514.9,180.1 1517.1,179.3 1519.3,178.5 1521.5,177.8 1523.7,177.1 1525.9,176.5 1528.1,175.9 1530.3,175.3 1532.5,174.8 1534.7,174.3 1536.9,173.8 1539.1,173.4 1541.3,173.0 1543.5,172.6 1545.8,172.2 1548.0,171.9 1550.2,171.6 1552.4,171.4 1554.6,171.1 1556.8,170.9 1559.0,170.7 1561.2,170.5 1563.4,170.4 1565.6,170.2 1567.8,170.1 1570.0,170.0 1572.2,169.9 1574.4,169.8 1576.6,169.8 1578.9,169.7 1581.1,169.7 1583.3,169.7 1585.5,169.6 1587.7,169.6 1589.9,169.6 1592.1,169.6 1594.3,169.6 1596.5,169.6 1598.7,169.6 1600.9,169.6 1603.1,169.6 1605.3,169.6 1607.5,169.6 1609.7,169.6 1612.0,169.6 1614.2,169.6 1616.4,169.6 1618.6,169.6 1620.8,169.5 1623.0,169.5 1625.2,169.4 1627.4,169.3 1629.6,169.2 1631.8,169.1 1634.0,169.0 1636.2,168.9 1638.4,168.7 1640.6,168.5 1642.8,168.3 1645.0,168.1 1647.3,167.9 1649.5,167.6 1651.7,167.3 1653.9,167.0 1656.1,166.7 1658.3,166.3 1660.5,165.9 1662.7,165.4 1664.9,165.0 1667.1,164.5 1669.3,163.9 1671.5,163.4 1673.7,162.8 1675.9,162.1 1678.1,161.4 1680.4,160.7 1682.6,159.9 1684.8,159.1 1687.0,158.3 1689.2,157.4 1691.4,156.4 1693.6,155.4 1693.6,299.8 1691.4,297.0 1689.2,294.3 1687.0,291.6 1684.8,289.1 1682.6,286.6 1680.4,284.2 1678.1,281.9 1675.9,279.6 1673.7,277.4 1671.5,275.3 1669.3,273.3 1667.1,271.4 1664.9,269.5 1662.7,267.7 1660.5,265.9 1658.3,264.2 1656.1,262.6 1653.9,261.0 1651.7,259.5 1649.5,258.1 1647.3,256.7 1645.0,255.4 1642.8,254.1 1640.6,252.9 1638.4,251.7 1636.2,250.6 1634.0,249.5 1631.8,248.5 1629.6,247.5 1627.4,246.6 1625.2,245.7 1623.0,244.9 1620.8,244.0 1618.6,243.3 1616.4,242.5 1614.2,241.8 1612.0,241.2 1609.7,240.5 1607.5,239.9 1605.3,239.4 1603.1,238.8 1600.9,238.3 1598.7,237.8 1596.5,237.4 1594.3,236.9 1592.1,236.6 1589.9,236.2 1587.7,235.9 1585.5,235.6 1583.3,235.3 1581.1,235.0 1578.9,234.8 1576.6,234.6 1574.4,234.4 1572.2,234.3 1570.0,234.2 1567.8,234.1 1565.6,234.0 1563.4,234.0 1561.2,234.0 1559.0,234.0 1556.8,234.0 1554.6,234.1 1552.4,234.2 1550.2,234.3 1548.0,234.4 1545.8,234.5 1543.5,234.7 1541.3,234.9 1539.1,235.1 1536.9,235.3 1534.7,235.6 1532.5,235.8 1530.3,236.1 1528.1,236.4 1525.9,236.8 1523.7,237.1 1521.5,237.5 1519.3,237.9 1517.1,238.3 1514.9,238.7 1512.7,239.1 1510.5,239.6 1508.2,240.0 1506.0,240.5 1503.8,241.0 1501.6,241.5 1499.4,242.0 1497.2,242.6 1495.0,243.1 1492.8,243.7 1490.6,244.3 1488.4,244.9 1486.2,245.5 1484.0,246.1 1481.8,246.7 1479.6,247.4 1477.4,248.1 1475.1,248.8 1472.9,249.5 1470.7,250.2 1468.5,251.0 1466.3,251.8 1464.1,252.6 1461.9,253.4 1459.7,254.2 1457.5,255.1 1455.3,256.0 1453.1,257.0 1450.9,257.9 1448.7,258.9 1446.5,259.9 1444.3,261.0 1442.1,262.0 1439.8,263.1 1437.6,264.3 1435.4,265.5 1433.2,266.7 1431.0,267.9 1428.8,269.2 1426.6,270.5 1424.4,271.8 1422.2,273.2 1420.0,274.7 1417.8,276.1 1415.6,277.6 1413.4,279.2 1411.2,280.8 1409.0,282.4 1406.7,284.1 1404.5,285.8 1402.3,287.5 1400.1,289.3 1397.9,291.2 1395.7,293.1 1393.5,295.0 1391.3,297.0 1389.1,299.1 1386.9,301.2 Z" fill="#3AA5C0" filter="url(#tubeB)"/>
<path d="M1386.9,275.1 1389.1,273.7 1391.3,272.2 1393.5,270.7 1395.7,269.3 1397.9,267.8 1400.1,266.3 1402.3,264.9 1404.5,263.4 1406.7,261.9 1409.0,260.5 1411.2,259.0 1413.4,257.5 1415.6,256.1 1417.8,254.6 1420.0,253.2 1422.2,251.8 1424.4,250.3 1426.6,248.9 1428.8,247.5 1431.0,246.1 1433.2,244.7 1435.4,243.3 1437.6,241.9 1439.8,240.5 1442.1,239.2 1444.3,237.9 1446.5,236.5 1448.7,235.2 1450.9,233.9 1453.1,232.7 1455.3,231.4 1457.5,230.2 1459.7,229.0 1461.9,227.8 1464.1,226.6 1466.3,225.4 1468.5,224.3 1470.7,223.2 1472.9,222.1 1475.1,221.0 1477.4,220.0 1479.6,219.0 1481.8,218.0 1484.0,217.1 1486.2,216.1 1488.4,215.2 1490.6,214.4 1492.8,213.5 1495.0,212.7 1497.2,212.0 1499.4,211.2 1501.6,210.5 1503.8,209.9 1506.0,209.2 1508.2,208.6 1510.5,208.0 1512.7,207.5 1514.9,206.9 1517.1,206.4 1519.3,206.0 1521.5,205.5 1523.7,205.1 1525.9,204.7 1528.1,204.4 1530.3,204.0 1532.5,203.7 1534.7,203.4 1536.9,203.2 1539.1,203.0 1541.3,202.7 1543.5,202.6 1545.8,202.4 1548.0,202.3 1550.2,202.2 1552.4,202.1 1554.6,202.0 1556.8,201.9 1559.0,201.9 1561.2,201.9 1563.4,201.9 1565.6,202.0 1567.8,202.0 1570.0,202.1 1572.2,202.2 1574.4,202.3 1576.6,202.4 1578.9,202.6 1581.1,202.8 1583.3,202.9 1585.5,203.1 1587.7,203.4 1589.9,203.6 1592.1,203.8 1594.3,204.1 1596.5,204.4 1598.7,204.7 1600.9,205.0 1603.1,205.3 1605.3,205.7 1607.5,206.0 1609.7,206.4 1612.0,206.8 1614.2,207.2 1616.4,207.6 1618.6,208.0 1620.8,208.4 1623.0,208.9 1625.2,209.4 1627.4,209.8 1629.6,210.3 1631.8,210.8 1634.0,211.3 1636.2,211.8 1638.4,212.4 1640.6,212.9 1642.8,213.5 1645.0,214.0 1647.3,214.6 1649.5,215.2 1651.7,215.8 1653.9,216.4 1656.1,217.0 1658.3,217.6 1660.5,218.3 1662.7,218.9 1664.9,219.5 1667.1,220.2 1669.3,220.9 1671.5,221.5 1673.7,222.2 1675.9,222.9 1678.1,223.6 1680.4,224.3 1682.6,225.0 1684.8,225.7 1687.0,226.5 1689.2,227.2 1691.4,227.9 1693.6,228.7" fill="none" stroke="#1E2EE6" stroke-width="1.5"/>
<g fill="none" stroke="#2424DC" stroke-width="1.2">
<circle cx="1453.37" cy="52.54" r="2.1"/>
<circle cx="1636.76" cy="72.13" r="2.1"/>
<circle cx="1536.44" cy="127.77" r="2.1"/>
<circle cx="1474.92" cy="156.77" r="2.1"/>
<circle cx="1518.81" cy="177.15" r="2.1"/>
<circle cx="1611.68" cy="182.63" r="2.1"/>
<circle cx="1487.85" cy="204.18" r="2.1"/>
<circle cx="1416.14" cy="213.20" r="2.1"/>
<circle cx="1422.02" cy="257.48" r="2.1"/>
<circle cx="1566.61" cy="243.76" r="2.1"/>
<circle cx="1588.95" cy="245.72" r="2.1"/>
<circle cx="1545.85" cy="252.77" r="2.1"/>
<circle cx="1386.76" cy="273.93" r="2.1"/>
<circle cx="1392.63" cy="269.23" r="2.1"/>
<circle cx="1397.73" cy="269.23" r="2.1"/>
<circle cx="1386.76" cy="279.81" r="2.1"/>
<circle cx="1389.89" cy="279.81" r="2.1"/>
<circle cx="1392.63" cy="279.81" r="2.1"/>
<circle cx="1394.59" cy="279.81" r="2.1"/>
<circle cx="1401.65" cy="279.81" r="2.1"/>
<circle cx="1406.35" cy="279.81" r="2.1"/>
<circle cx="1410.66" cy="279.81" r="2.1"/>
<circle cx="1428.29" cy="279.81" r="2.1"/>
<circle cx="1435.74" cy="279.81" r="2.1"/>
<circle cx="1444.36" cy="279.81" r="2.1"/>
<circle cx="1463.95" cy="279.81" r="2.1"/>
<circle cx="1502.35" cy="279.81" r="2.1"/>
<circle cx="1663.79" cy="279.81" r="2.1"/>
<circle cx="1693.57" cy="279.81" r="2.1"/>
</g>
<g stroke="#6F6FEE" stroke-width="1">
<line x1="1386.76" y1="306.2" x2="1386.76" y2="313.7"/>
<line x1="1387.93" y1="306.2" x2="1387.93" y2="313.7"/>
<line x1="1389.50" y1="306.2" x2="1389.50" y2="313.7"/>
<line x1="1391.46" y1="306.2" x2="1391.46" y2="313.7"/>
<line x1="1393.42" y1="306.2" x2="1393.42" y2="313.7"/>
<line x1="1395.77" y1="306.2" x2="1395.77" y2="313.7"/>
<line x1="1397.73" y1="306.2" x2="1397.73" y2="313.7"/>
<line x1="1400.86" y1="306.2" x2="1400.86" y2="313.7"/>
<line x1="1404.39" y1="306.2" x2="1404.39" y2="313.7"/>
<line x1="1407.92" y1="306.2" x2="1407.92" y2="313.7"/>
<line x1="1411.05" y1="306.2" x2="1411.05" y2="313.7"/>
<line x1="1416.14" y1="306.2" x2="1416.14" y2="313.7"/>
<line x1="1422.02" y1="306.2" x2="1422.02" y2="313.7"/>
<line x1="1428.29" y1="306.2" x2="1428.29" y2="313.7"/>
<line x1="1435.74" y1="306.2" x2="1435.74" y2="313.7"/>
<line x1="1444.36" y1="306.2" x2="1444.36" y2="313.7"/>
<line x1="1453.37" y1="306.2" x2="1453.37" y2="313.7"/>
<line x1="1463.95" y1="306.2" x2="1463.95" y2="313.7"/>
<line x1="1474.92" y1="306.2" x2="1474.92" y2="313.7"/>
<line x1="1487.85" y1="306.2" x2="1487.85" y2="313.7"/>
<line x1="1502.35" y1="306.2" x2="1502.35" y2="313.7"/>
<line x1="1518.81" y1="306.2" x2="1518.81" y2="313.7"/>
<line x1="1536.44" y1="306.2" x2="1536.44" y2="313.7"/>
<line x1="1545.85" y1="306.2" x2="1545.85" y2="313.7"/>
<line x1="1566.61" y1="306.2" x2="1566.61" y2="313.7"/>
<line x1="1588.95" y1="306.2" x2="1588.95" y2="313.7"/>
<line x1="1611.68" y1="306.2" x2="1611.68" y2="313.7"/>
<line x1="1636.76" y1="306.2" x2="1636.76" y2="313.7"/>
<line x1="1663.79" y1="306.2" x2="1663.79" y2="313.7"/>
<line x1="1693.57" y1="306.2" x2="1693.57" y2="313.7"/>
</g>
<rect x="1375.0" y="43.0" width="331.0" height="271.2" fill="none" stroke="#3C3C3C" stroke-width="1.6"/>
<line x1="1370.50" y1="57.20" x2="1375.00" y2="57.20" stroke="#3C3C3C" stroke-width="1.2" />
<text transform="translate(1366.70,57.20) rotate(-90)" font-family="'Liberation Sans', sans-serif" font-size="10.4" fill="#161616" text-anchor="middle" textLength="12.0" lengthAdjust="spacingAndGlyphs" stroke="#161616" stroke-width="0.3">800</text>
<line x1="1370.50" y1="102.70" x2="1375.00" y2="102.70" stroke="#3C3C3C" stroke-width="1.2" />
<text transform="translate(1366.70,102.70) rotate(-90)" font-family="'Liberation Sans', sans-serif" font-size="10.4" fill="#161616" text-anchor="middle" textLength="12.0" lengthAdjust="spacingAndGlyphs" stroke="#161616" stroke-width="0.3">600</text>
<line x1="1370.50" y1="148.10" x2="1375.00" y2="148.10" stroke="#3C3C3C" stroke-width="1.2" />
<text transform="translate(1366.70,148.10) rotate(-90)" font-family="'Liberation Sans', sans-serif" font-size="10.4" fill="#161616" text-anchor="middle" textLength="12.0" lengthAdjust="spacingAndGlyphs" stroke="#161616" stroke-width="0.3">400</text>
<line x1="1370.50" y1="193.50" x2="1375.00" y2="193.50" stroke="#3C3C3C" stroke-width="1.2" />
<text transform="translate(1366.70,193.50) rotate(-90)" font-family="'Liberation Sans', sans-serif" font-size="10.4" fill="#161616" text-anchor="middle" textLength="12.0" lengthAdjust="spacingAndGlyphs" stroke="#161616" stroke-width="0.3">200</text>
<line x1="1370.50" y1="238.60" x2="1375.00" y2="238.60" stroke="#3C3C3C" stroke-width="1.2" />
<text transform="translate(1366.70,238.60) rotate(-90)" font-family="'Liberation Sans', sans-serif" font-size="10.4" fill="#161616" text-anchor="middle" textLength="4.0" lengthAdjust="spacingAndGlyphs" stroke="#161616" stroke-width="0.3">0</text>
<line x1="1370.50" y1="284.00" x2="1375.00" y2="284.00" stroke="#3C3C3C" stroke-width="1.2" />
<text transform="translate(1366.70,284.00) rotate(-90)" font-family="'Liberation Sans', sans-serif" font-size="10.4" fill="#161616" text-anchor="middle" textLength="15.0" lengthAdjust="spacingAndGlyphs" stroke="#161616" stroke-width="0.3">-200</text>
<line x1="1384.80" y1="314.20" x2="1384.80" y2="318.80" stroke="#3C3C3C" stroke-width="1.2" />
<text x="1384.80" y="329.90" font-family="'Liberation Sans', sans-serif" font-size="7.6" fill="#222" font-weight="bold" text-anchor="middle" textLength="3.95" lengthAdjust="spacingAndGlyphs">0</text>
<line x1="1464.30" y1="314.20" x2="1464.30" y2="318.80" stroke="#3C3C3C" stroke-width="1.2" />
<text x="1464.30" y="329.90" font-family="'Liberation Sans', sans-serif" font-size="7.6" fill="#222" font-weight="bold" text-anchor="middle" textLength="15.8" lengthAdjust="spacingAndGlyphs">2000</text>
<line x1="1543.50" y1="314.20" x2="1543.50" y2="318.80" stroke="#3C3C3C" stroke-width="1.2" />
<text x="1543.50" y="329.90" font-family="'Liberation Sans', sans-serif" font-size="7.6" fill="#222" font-weight="bold" text-anchor="middle" textLength="15.8" lengthAdjust="spacingAndGlyphs">4000</text>
<line x1="1621.90" y1="314.20" x2="1621.90" y2="318.80" stroke="#3C3C3C" stroke-width="1.2" />
<text x="1621.90" y="329.90" font-family="'Liberation Sans', sans-serif" font-size="7.6" fill="#222" font-weight="bold" text-anchor="middle" textLength="15.8" lengthAdjust="spacingAndGlyphs">6000</text>
<line x1="1700.20" y1="314.20" x2="1700.20" y2="318.80" stroke="#3C3C3C" stroke-width="1.2" />
<text x="1700.20" y="329.90" font-family="'Liberation Sans', sans-serif" font-size="7.6" fill="#222" font-weight="bold" text-anchor="middle" textLength="15.8" lengthAdjust="spacingAndGlyphs">8000</text>
<text x="1539.00" y="344.20" font-family="'Liberation Sans', sans-serif" font-size="16.3" fill="#000" font-weight="bold" text-anchor="middle" textLength="324" lengthAdjust="spacingAndGlyphs" stroke="#000" stroke-width="0.7">Global cumulative plastic production</text>
<text transform="translate(1355.50,177.60) rotate(-90)" font-family="'Liberation Sans', sans-serif" font-size="16" fill="#000" font-weight="bold" text-anchor="middle" textLength="72.5" lengthAdjust="spacingAndGlyphs" stroke="#000" stroke-width="0.35">s(x,1.932)</text>
<text x="1384.40" y="85.00" font-family="'Liberation Sans', sans-serif" font-size="17.2" fill="#1E1E1E" textLength="201.5" lengthAdjust="spacingAndGlyphs" letter-spacing="-0.6" stroke="#1E1E1E" stroke-width="0.5">Deviance explained = 23.4%,</text>
<text x="1385.80" y="110.80" font-family="'Liberation Sans', sans-serif" font-size="17.2" fill="#1E1E1E" stroke="#1E1E1E" stroke-width="0.5" letter-spacing="-0.6" textLength="86.7" lengthAdjust="spacingAndGlyphs"><tspan font-style="italic">p</tspan> = 7.07e-02</text>
<path d="M1770.9,218.3 1773.1,222.6 1775.3,226.0 1777.6,228.5 1779.8,230.2 1782.0,231.3 1784.2,231.9 1786.4,232.0 1788.6,231.9 1790.8,231.5 1793.0,231.0 1795.2,230.5 1797.4,230.0 1799.6,229.8 1801.8,229.7 1804.0,229.8 1806.2,230.0 1808.5,230.3 1810.7,230.7 1812.9,231.2 1815.1,231.7 1817.3,232.2 1819.5,232.8 1821.7,233.3 1823.9,233.7 1826.1,234.1 1828.3,234.4 1830.5,234.6 1832.7,234.7 1834.9,234.7 1837.2,234.4 1839.4,234.0 1841.6,233.5 1843.8,232.8 1846.0,232.0 1848.2,231.1 1850.4,230.1 1852.6,229.1 1854.8,228.1 1857.0,227.1 1859.2,226.1 1861.4,225.1 1863.6,224.0 1865.8,222.8 1868.1,221.6 1870.3,220.2 1872.5,218.7 1874.7,217.1 1876.9,215.2 1879.1,213.1 1881.3,210.8 1883.5,208.4 1885.7,205.9 1887.9,203.7 1890.1,201.7 1892.3,200.3 1894.5,199.4 1896.7,199.1 1899.0,199.2 1901.2,199.7 1903.4,200.6 1905.6,201.8 1907.8,203.3 1910.0,204.9 1912.2,206.8 1914.4,208.7 1916.6,210.6 1918.8,212.6 1921.0,214.5 1923.2,216.2 1925.4,217.8 1927.7,219.2 1929.9,220.3 1932.1,221.1 1934.3,221.5 1936.5,221.6 1938.7,221.4 1940.9,220.9 1943.1,220.1 1945.3,219.0 1947.5,217.7 1949.7,216.1 1951.9,214.3 1954.1,212.2 1956.3,210.0 1958.6,207.6 1960.8,205.0 1963.0,202.3 1965.2,199.4 1967.4,196.5 1969.6,193.7 1971.8,191.0 1974.0,188.6 1976.2,186.5 1978.4,184.8 1980.6,183.6 1982.8,183.0 1985.0,183.0 1987.2,183.6 1989.5,184.9 1991.7,186.6 1993.9,188.9 1996.1,191.7 1998.3,194.8 2000.5,198.4 2002.7,202.3 2004.9,206.5 2007.1,210.8 2009.3,215.3 2011.5,219.7 2013.7,224.0 2015.9,228.1 2018.2,232.0 2020.4,235.4 2022.6,238.3 2024.8,240.7 2027.0,242.4 2029.2,243.3 2031.4,243.3 2033.6,242.4 2035.8,240.6 2038.0,237.9 2040.2,234.3 2042.4,229.9 2044.6,224.6 2046.8,218.4 2049.1,211.4 2051.3,203.6 2053.5,195.1 2055.7,185.7 2057.9,175.6 2060.1,164.8 2062.3,153.2 2064.5,140.9 2066.7,127.9 2068.9,114.2 2071.1,99.8 2073.3,84.8 2075.5,69.2 2077.7,52.9 2077.7,132.1 2075.5,144.4 2073.3,159.5 2071.1,174.0 2068.9,185.9 2066.7,196.1 2064.5,205.5 2062.3,215.1 2060.1,225.5 2057.9,236.6 2055.7,247.8 2053.5,258.5 2051.3,268.2 2049.1,276.6 2046.8,283.7 2044.6,289.6 2042.4,294.4 2040.2,298.1 2038.0,300.8 2035.8,302.6 2033.6,303.4 2031.4,303.4 2029.2,302.6 2027.0,301.1 2024.8,298.9 2022.6,296.1 2020.4,292.8 2018.2,289.0 2015.9,284.8 2013.7,280.4 2011.5,275.7 2009.3,270.9 2007.1,266.1 2004.9,261.3 2002.7,256.6 2000.5,252.2 1998.3,248.0 1996.1,244.2 1993.9,240.9 1991.7,238.1 1989.5,235.9 1987.2,234.3 1985.0,233.3 1982.8,232.7 1980.6,232.6 1978.4,232.9 1976.2,233.5 1974.0,234.4 1971.8,235.6 1969.6,237.0 1967.4,238.6 1965.2,240.3 1963.0,242.0 1960.8,243.8 1958.6,245.5 1956.3,247.2 1954.1,248.8 1951.9,250.2 1949.7,251.5 1947.5,252.6 1945.3,253.5 1943.1,254.1 1940.9,254.6 1938.7,254.8 1936.5,254.8 1934.3,254.6 1932.1,254.1 1929.9,253.4 1927.7,252.5 1925.4,251.2 1923.2,249.8 1921.0,248.3 1918.8,246.8 1916.6,245.3 1914.4,244.0 1912.2,243.0 1910.0,242.2 1907.8,241.5 1905.6,241.1 1903.4,240.9 1901.2,240.8 1899.0,240.9 1896.7,241.1 1894.5,241.5 1892.3,242.0 1890.1,242.6 1887.9,243.3 1885.7,244.0 1883.5,244.9 1881.3,245.8 1879.1,246.8 1876.9,247.8 1874.7,248.9 1872.5,250.0 1870.3,251.2 1868.1,252.4 1865.8,253.6 1863.6,254.7 1861.4,255.9 1859.2,257.1 1857.0,258.3 1854.8,259.4 1852.6,260.5 1850.4,261.5 1848.2,262.5 1846.0,263.4 1843.8,264.3 1841.6,265.0 1839.4,265.7 1837.2,266.3 1834.9,266.8 1832.7,267.2 1830.5,267.5 1828.3,267.7 1826.1,267.9 1823.9,268.0 1821.7,268.1 1819.5,268.1 1817.3,268.1 1815.1,268.1 1812.9,268.2 1810.7,268.2 1808.5,268.2 1806.2,268.3 1804.0,268.5 1801.8,268.7 1799.6,269.0 1797.4,269.3 1795.2,269.8 1793.0,270.4 1790.8,271.0 1788.6,271.9 1786.4,272.8 1784.2,273.9 1782.0,275.2 1779.8,276.6 1777.6,278.3 1775.3,280.1 1773.1,282.2 1770.9,284.4 Z" fill="#3AA5C0" filter="url(#tubeB)"/>
<path d="M1770.9,251.5 1773.1,252.0 1775.3,252.4 1777.6,252.6 1779.8,252.7 1782.0,252.7 1784.2,252.6 1786.4,252.5 1788.6,252.3 1790.8,252.1 1793.0,252.0 1795.2,251.8 1797.4,251.8 1799.6,251.7 1801.8,251.8 1804.0,251.9 1806.2,252.0 1808.5,252.2 1810.7,252.4 1812.9,252.6 1815.1,252.8 1817.3,253.0 1819.5,253.1 1821.7,253.2 1823.9,253.3 1826.1,253.4 1828.3,253.3 1830.5,253.2 1832.7,253.0 1834.9,252.8 1837.2,252.4 1839.4,251.9 1841.6,251.3 1843.8,250.6 1846.0,249.8 1848.2,248.9 1850.4,247.9 1852.6,246.8 1854.8,245.7 1857.0,244.5 1859.2,243.2 1861.4,241.8 1863.6,240.4 1865.8,239.0 1868.1,237.5 1870.3,235.9 1872.5,234.3 1874.7,232.7 1876.9,231.1 1879.1,229.4 1881.3,227.7 1883.5,226.0 1885.7,224.4 1887.9,222.9 1890.1,221.6 1892.3,220.5 1894.5,219.7 1896.7,219.2 1899.0,219.0 1901.2,219.0 1903.4,219.2 1905.6,219.7 1907.8,220.4 1910.0,221.3 1912.2,222.4 1914.4,223.7 1916.6,225.2 1918.8,226.8 1921.0,228.5 1923.2,230.1 1925.4,231.5 1927.7,232.8 1929.9,233.7 1932.1,234.4 1934.3,234.8 1936.5,235.0 1938.7,234.9 1940.9,234.6 1943.1,234.1 1945.3,233.4 1947.5,232.5 1949.7,231.4 1951.9,230.2 1954.1,228.8 1956.3,227.2 1958.6,225.6 1960.8,223.8 1963.0,221.9 1965.2,219.9 1967.4,218.0 1969.6,216.0 1971.8,214.2 1974.0,212.6 1976.2,211.1 1978.4,210.0 1980.6,209.2 1982.8,208.8 1985.0,208.8 1987.2,209.4 1989.5,210.5 1991.7,212.3 1993.9,214.8 1996.1,217.9 1998.3,221.5 2000.5,225.4 2002.7,229.7 2004.9,234.3 2007.1,238.9 2009.3,243.6 2011.5,248.2 2013.7,252.7 2015.9,256.9 2018.2,260.8 2020.4,264.2 2022.6,267.1 2024.8,269.5 2027.0,271.2 2029.2,272.4 2031.4,273.3 2033.6,273.7 2035.8,273.7 2038.0,272.9 2040.2,270.7 2042.4,266.9 2044.6,261.2 2046.8,253.8 2049.1,245.2 2051.3,235.8 2053.5,226.2 2055.7,216.4 2057.9,206.4 2060.1,196.1 2062.3,185.4 2064.5,174.3 2066.7,162.6 2068.9,150.2 2071.1,137.2 2073.3,123.3 2075.5,108.2 2077.7,91.5" fill="none" stroke="#1E2EE6" stroke-width="1.5"/>
<g fill="none" stroke="#2424DC" stroke-width="1.2">
<circle cx="1770.93" cy="250.42" r="2.1"/>
<circle cx="1780.73" cy="252.77" r="2.1"/>
<circle cx="1796.40" cy="252.77" r="2.1"/>
<circle cx="1809.72" cy="252.77" r="2.1"/>
<circle cx="1821.87" cy="248.86" r="2.1"/>
<circle cx="1830.49" cy="252.77" r="2.1"/>
<circle cx="1835.98" cy="248.86" r="2.1"/>
<circle cx="1841.07" cy="252.77" r="2.1"/>
<circle cx="1847.34" cy="252.77" r="2.1"/>
<circle cx="1852.83" cy="252.77" r="2.1"/>
<circle cx="1856.75" cy="228.87" r="2.1"/>
<circle cx="1858.31" cy="244.15" r="2.1"/>
<circle cx="1859.10" cy="252.77" r="2.1"/>
<circle cx="1863.80" cy="252.77" r="2.1"/>
<circle cx="1872.03" cy="252.77" r="2.1"/>
<circle cx="1886.53" cy="170.88" r="2.1"/>
<circle cx="1897.50" cy="252.77" r="2.1"/>
<circle cx="1911.21" cy="208.50" r="2.1"/>
<circle cx="1914.74" cy="225.34" r="2.1"/>
<circle cx="1915.52" cy="252.77" r="2.1"/>
<circle cx="1918.66" cy="215.94" r="2.1"/>
<circle cx="1925.32" cy="197.92" r="2.1"/>
<circle cx="1929.24" cy="242.98" r="2.1"/>
<circle cx="1937.08" cy="239.84" r="2.1"/>
<circle cx="1951.57" cy="240.63" r="2.1"/>
<circle cx="1969.21" cy="217.90" r="2.1"/>
<circle cx="1984.49" cy="177.93" r="2.1"/>
<circle cx="2002.91" cy="252.77" r="2.1"/>
<circle cx="2025.24" cy="252.77" r="2.1"/>
<circle cx="2055.02" cy="252.77" r="2.1"/>
<circle cx="2078.14" cy="78.01" r="2.1"/>
</g>
<g stroke="#6F6FEE" stroke-width="1">
<line x1="1770.93" y1="306.2" x2="1770.93" y2="313.7"/>
<line x1="1780.73" y1="306.2" x2="1780.73" y2="313.7"/>
<line x1="1796.40" y1="306.2" x2="1796.40" y2="313.7"/>
<line x1="1809.72" y1="306.2" x2="1809.72" y2="313.7"/>
<line x1="1821.87" y1="306.2" x2="1821.87" y2="313.7"/>
<line x1="1830.49" y1="306.2" x2="1830.49" y2="313.7"/>
<line x1="1835.98" y1="306.2" x2="1835.98" y2="313.7"/>
<line x1="1841.07" y1="306.2" x2="1841.07" y2="313.7"/>
<line x1="1847.34" y1="306.2" x2="1847.34" y2="313.7"/>
<line x1="1852.83" y1="306.2" x2="1852.83" y2="313.7"/>
<line x1="1856.75" y1="306.2" x2="1856.75" y2="313.7"/>
<line x1="1858.31" y1="306.2" x2="1858.31" y2="313.7"/>
<line x1="1859.10" y1="306.2" x2="1859.10" y2="313.7"/>
<line x1="1860.66" y1="306.2" x2="1860.66" y2="313.7"/>
<line x1="1863.80" y1="306.2" x2="1863.80" y2="313.7"/>
<line x1="1872.03" y1="306.2" x2="1872.03" y2="313.7"/>
<line x1="1886.53" y1="306.2" x2="1886.53" y2="313.7"/>
<line x1="1897.50" y1="306.2" x2="1897.50" y2="313.7"/>
<line x1="1911.21" y1="306.2" x2="1911.21" y2="313.7"/>
<line x1="1913.17" y1="306.2" x2="1913.17" y2="313.7"/>
<line x1="1914.74" y1="306.2" x2="1914.74" y2="313.7"/>
<line x1="1916.31" y1="306.2" x2="1916.31" y2="313.7"/>
<line x1="1918.66" y1="306.2" x2="1918.66" y2="313.7"/>
<line x1="1925.32" y1="306.2" x2="1925.32" y2="313.7"/>
<line x1="1929.24" y1="306.2" x2="1929.24" y2="313.7"/>
<line x1="1937.08" y1="306.2" x2="1937.08" y2="313.7"/>
<line x1="1951.57" y1="306.2" x2="1951.57" y2="313.7"/>
<line x1="1969.21" y1="306.2" x2="1969.21" y2="313.7"/>
<line x1="1984.49" y1="306.2" x2="1984.49" y2="313.7"/>
<line x1="2002.91" y1="306.2" x2="2002.91" y2="313.7"/>
<line x1="2025.24" y1="306.2" x2="2025.24" y2="313.7"/>
<line x1="2055.02" y1="306.2" x2="2055.02" y2="313.7"/>
<line x1="2078.14" y1="306.2" x2="2078.14" y2="313.7"/>
</g>
<rect x="1758.9" y="43.0" width="331.0" height="271.2" fill="none" stroke="#3C3C3C" stroke-width="1.6"/>
<line x1="1754.40" y1="69.40" x2="1758.90" y2="69.40" stroke="#3C3C3C" stroke-width="1.2" />
<text transform="translate(1750.60,69.40) rotate(-90)" font-family="'Liberation Sans', sans-serif" font-size="10.4" fill="#161616" text-anchor="middle" textLength="15.0" lengthAdjust="spacingAndGlyphs" stroke="#161616" stroke-width="0.3">2000</text>
<line x1="1754.40" y1="110.50" x2="1758.90" y2="110.50" stroke="#3C3C3C" stroke-width="1.2" />
<text transform="translate(1750.60,110.50) rotate(-90)" font-family="'Liberation Sans', sans-serif" font-size="10.4" fill="#161616" text-anchor="middle" textLength="15.0" lengthAdjust="spacingAndGlyphs" stroke="#161616" stroke-width="0.3">1500</text>
<line x1="1754.40" y1="151.60" x2="1758.90" y2="151.60" stroke="#3C3C3C" stroke-width="1.2" />
<text transform="translate(1750.60,151.60) rotate(-90)" font-family="'Liberation Sans', sans-serif" font-size="10.4" fill="#161616" text-anchor="middle" textLength="15.0" lengthAdjust="spacingAndGlyphs" stroke="#161616" stroke-width="0.3">1000</text>
<line x1="1754.40" y1="192.40" x2="1758.90" y2="192.40" stroke="#3C3C3C" stroke-width="1.2" />
<text transform="translate(1750.60,192.40) rotate(-90)" font-family="'Liberation Sans', sans-serif" font-size="10.4" fill="#161616" text-anchor="middle" textLength="12.0" lengthAdjust="spacingAndGlyphs" stroke="#161616" stroke-width="0.3">500</text>
<line x1="1754.40" y1="233.10" x2="1758.90" y2="233.10" stroke="#3C3C3C" stroke-width="1.2" />
<text transform="translate(1750.60,233.10) rotate(-90)" font-family="'Liberation Sans', sans-serif" font-size="10.4" fill="#161616" text-anchor="middle" textLength="4.0" lengthAdjust="spacingAndGlyphs" stroke="#161616" stroke-width="0.3">0</text>
<line x1="1754.40" y1="273.80" x2="1758.90" y2="273.80" stroke="#3C3C3C" stroke-width="1.2" />
<text transform="translate(1750.60,273.80) rotate(-90)" font-family="'Liberation Sans', sans-serif" font-size="10.4" fill="#161616" text-anchor="middle" textLength="15.0" lengthAdjust="spacingAndGlyphs" stroke="#161616" stroke-width="0.3">-500</text>
<line x1="1766.50" y1="314.20" x2="1766.50" y2="318.80" stroke="#3C3C3C" stroke-width="1.2" />
<text x="1766.50" y="329.90" font-family="'Liberation Sans', sans-serif" font-size="7.6" fill="#222" font-weight="bold" text-anchor="middle" textLength="25.5" lengthAdjust="spacingAndGlyphs">7.5e+06</text>
<line x1="1821.40" y1="314.20" x2="1821.40" y2="318.80" stroke="#3C3C3C" stroke-width="1.2" />
<text x="1821.40" y="329.90" font-family="'Liberation Sans', sans-serif" font-size="7.6" fill="#222" font-weight="bold" text-anchor="middle" textLength="25.5" lengthAdjust="spacingAndGlyphs">8.0e+06</text>
<line x1="1876.40" y1="314.20" x2="1876.40" y2="318.80" stroke="#3C3C3C" stroke-width="1.2" />
<text x="1876.40" y="329.90" font-family="'Liberation Sans', sans-serif" font-size="7.6" fill="#222" font-weight="bold" text-anchor="middle" textLength="25.5" lengthAdjust="spacingAndGlyphs">8.5e+06</text>
<line x1="1931.20" y1="314.20" x2="1931.20" y2="318.80" stroke="#3C3C3C" stroke-width="1.2" />
<text x="1931.20" y="329.90" font-family="'Liberation Sans', sans-serif" font-size="7.6" fill="#222" font-weight="bold" text-anchor="middle" textLength="25.5" lengthAdjust="spacingAndGlyphs">9.0e+06</text>
<line x1="1986.10" y1="314.20" x2="1986.10" y2="318.80" stroke="#3C3C3C" stroke-width="1.2" />
<text x="1986.10" y="329.90" font-family="'Liberation Sans', sans-serif" font-size="7.6" fill="#222" font-weight="bold" text-anchor="middle" textLength="25.5" lengthAdjust="spacingAndGlyphs">9.5e+06</text>
<line x1="2040.90" y1="314.20" x2="2040.90" y2="318.80" stroke="#3C3C3C" stroke-width="1.2" />
<text x="2040.90" y="329.90" font-family="'Liberation Sans', sans-serif" font-size="7.6" fill="#222" font-weight="bold" text-anchor="middle" textLength="25.5" lengthAdjust="spacingAndGlyphs">1.0e+07</text>
<text x="1922.90" y="344.20" font-family="'Liberation Sans', sans-serif" font-size="16.3" fill="#000" font-weight="bold" text-anchor="middle" textLength="172" lengthAdjust="spacingAndGlyphs" stroke="#000" stroke-width="0.7">Swedish population</text>
<text transform="translate(1738.40,177.60) rotate(-90)" font-family="'Liberation Sans', sans-serif" font-size="16" fill="#000" font-weight="bold" text-anchor="middle" textLength="72.5" lengthAdjust="spacingAndGlyphs" stroke="#000" stroke-width="0.35">s(x,8.021)</text>
<text x="1771.20" y="86.00" font-family="'Liberation Sans', sans-serif" font-size="17.2" fill="#1E1E1E" textLength="201.5" lengthAdjust="spacingAndGlyphs" letter-spacing="-0.6" stroke="#1E1E1E" stroke-width="0.5">Deviance explained = 75.6%,</text>
<text x="1772.60" y="111.80" font-family="'Liberation Sans', sans-serif" font-size="17.2" fill="#1E1E1E" stroke="#1E1E1E" stroke-width="0.5" letter-spacing="-0.6" textLength="86.7" lengthAdjust="spacingAndGlyphs"><tspan font-style="italic">p</tspan> = 7.71e-05</text>
<path d="M2155.5,219.9 2157.7,225.7 2159.9,230.0 2162.1,232.9 2164.3,234.8 2166.5,235.6 2168.7,235.7 2170.9,235.1 2173.1,234.0 2175.3,232.5 2177.5,231.0 2179.7,229.4 2182.0,228.0 2184.2,226.8 2186.4,225.7 2188.6,224.7 2190.8,223.8 2193.0,222.9 2195.2,222.0 2197.4,221.1 2199.6,220.1 2201.8,219.1 2204.0,217.9 2206.2,216.7 2208.4,215.4 2210.6,214.2 2212.8,212.9 2215.0,211.7 2217.2,210.5 2219.4,209.4 2221.6,208.4 2223.8,207.5 2226.0,206.7 2228.2,206.0 2230.5,205.4 2232.7,204.9 2234.9,204.4 2237.1,204.0 2239.3,203.7 2241.5,203.5 2243.7,203.3 2245.9,203.2 2248.1,203.2 2250.3,203.2 2252.5,203.3 2254.7,203.4 2256.9,203.6 2259.1,203.8 2261.3,204.0 2263.5,204.3 2265.7,204.6 2267.9,205.0 2270.1,205.4 2272.3,205.8 2274.5,206.2 2276.7,206.6 2279.0,207.1 2281.2,207.5 2283.4,207.9 2285.6,208.3 2287.8,208.7 2290.0,209.1 2292.2,209.3 2294.4,209.6 2296.6,209.7 2298.8,209.8 2301.0,209.8 2303.2,209.7 2305.4,209.4 2307.6,209.1 2309.8,208.6 2312.0,208.0 2314.2,207.2 2316.4,206.3 2318.6,205.2 2320.8,204.0 2323.0,202.6 2325.2,201.2 2327.4,199.6 2329.7,198.0 2331.9,196.3 2334.1,194.5 2336.3,192.8 2338.5,191.0 2340.7,189.2 2342.9,187.4 2345.1,185.6 2347.3,183.9 2349.5,182.3 2351.7,180.7 2353.9,179.2 2356.1,177.9 2358.3,176.7 2360.5,175.8 2362.7,175.0 2364.9,174.6 2367.1,174.5 2369.3,174.7 2371.5,175.4 2373.7,176.4 2375.9,177.9 2378.2,179.9 2380.4,182.4 2382.6,185.4 2384.8,188.8 2387.0,192.5 2389.2,196.5 2391.4,200.7 2393.6,205.2 2395.8,209.7 2398.0,214.4 2400.2,219.0 2402.4,223.6 2404.6,227.9 2406.8,231.9 2409.0,235.3 2411.2,238.1 2413.4,240.1 2415.6,241.4 2417.8,241.9 2420.0,241.5 2422.2,240.3 2424.4,238.1 2426.7,235.1 2428.9,231.1 2431.1,226.0 2433.3,220.0 2435.5,212.8 2437.7,204.6 2439.9,195.2 2442.1,184.8 2444.3,173.5 2446.5,161.2 2448.7,148.0 2450.9,134.0 2453.1,119.3 2455.3,103.8 2457.5,87.7 2459.7,71.0 2461.9,53.7 2461.9,136.5 2459.7,148.0 2457.5,159.9 2455.3,172.2 2453.1,184.9 2450.9,197.8 2448.7,210.6 2446.5,223.2 2444.3,235.3 2442.1,246.8 2439.9,257.4 2437.7,266.9 2435.5,275.1 2433.3,282.2 2431.1,288.2 2428.9,293.1 2426.7,296.9 2424.4,299.8 2422.2,301.9 2420.0,303.0 2417.8,303.4 2415.6,303.0 2413.4,301.9 2411.2,300.2 2409.0,297.9 2406.8,295.1 2404.6,291.8 2402.4,288.2 2400.2,284.2 2398.0,280.0 2395.8,275.6 2393.6,271.1 2391.4,266.6 2389.2,262.2 2387.0,257.8 2384.8,253.7 2382.6,249.8 2380.4,246.2 2378.2,243.0 2375.9,240.3 2373.7,238.1 2371.5,236.3 2369.3,234.9 2367.1,233.9 2364.9,233.2 2362.7,232.9 2360.5,232.9 2358.3,233.1 2356.1,233.6 2353.9,234.3 2351.7,235.2 2349.5,236.2 2347.3,237.4 2345.1,238.8 2342.9,240.3 2340.7,242.1 2338.5,244.0 2336.3,246.1 2334.1,248.3 2331.9,250.5 2329.7,252.7 2327.4,254.6 2325.2,256.3 2323.0,257.6 2320.8,258.7 2318.6,259.6 2316.4,260.2 2314.2,260.7 2312.0,261.1 2309.8,261.3 2307.6,261.5 2305.4,261.5 2303.2,261.4 2301.0,261.3 2298.8,261.1 2296.6,260.8 2294.4,260.5 2292.2,260.1 2290.0,259.7 2287.8,259.3 2285.6,258.9 2283.4,258.5 2281.2,258.1 2279.0,257.7 2276.7,257.4 2274.5,257.1 2272.3,256.9 2270.1,256.7 2267.9,256.5 2265.7,256.4 2263.5,256.4 2261.3,256.3 2259.1,256.4 2256.9,256.4 2254.7,256.5 2252.5,256.6 2250.3,256.8 2248.1,257.0 2245.9,257.2 2243.7,257.4 2241.5,257.7 2239.3,258.0 2237.1,258.3 2234.9,258.6 2232.7,258.9 2230.5,259.3 2228.2,259.6 2226.0,260.0 2223.8,260.4 2221.6,260.8 2219.4,261.2 2217.2,261.6 2215.0,262.0 2212.8,262.4 2210.6,262.8 2208.4,263.2 2206.2,263.6 2204.0,264.0 2201.8,264.4 2199.6,264.8 2197.4,265.2 2195.2,265.5 2193.0,265.9 2190.8,266.3 2188.6,266.7 2186.4,267.0 2184.2,267.4 2182.0,267.7 2179.7,268.1 2177.5,268.4 2175.3,268.9 2173.1,269.5 2170.9,270.3 2168.7,271.4 2166.5,272.9 2164.3,274.9 2162.1,277.4 2159.9,280.5 2157.7,284.3 2155.5,288.9 Z" fill="#3AA5C0" filter="url(#tubeB)"/>
<path d="M2155.5,254.5 2157.7,254.9 2159.9,255.1 2162.1,255.2 2164.3,255.0 2166.5,254.8 2168.7,254.3 2170.9,253.7 2173.1,253.0 2175.3,252.2 2177.5,251.2 2179.7,250.2 2182.0,249.1 2184.2,247.9 2186.4,246.7 2188.6,245.4 2190.8,244.0 2193.0,242.6 2195.2,241.2 2197.4,239.9 2199.6,238.5 2201.8,237.1 2204.0,235.7 2206.2,234.4 2208.4,233.2 2210.6,232.0 2212.8,230.9 2215.0,229.8 2217.2,228.9 2219.4,228.0 2221.6,227.3 2223.8,226.7 2226.0,226.1 2228.2,225.7 2230.5,225.4 2232.7,225.2 2234.9,225.0 2237.1,224.9 2239.3,224.9 2241.5,225.0 2243.7,225.1 2245.9,225.3 2248.1,225.5 2250.3,225.7 2252.5,226.0 2254.7,226.4 2256.9,226.7 2259.1,227.1 2261.3,227.5 2263.5,227.9 2265.7,228.3 2267.9,228.7 2270.1,229.1 2272.3,229.5 2274.5,229.8 2276.7,230.2 2279.0,230.5 2281.2,230.8 2283.4,231.0 2285.6,231.3 2287.8,231.5 2290.0,231.8 2292.2,232.0 2294.4,232.3 2296.6,232.6 2298.8,232.9 2301.0,233.2 2303.2,233.5 2305.4,233.9 2307.6,234.2 2309.8,234.5 2312.0,234.6 2314.2,234.6 2316.4,234.3 2318.6,233.9 2320.8,233.2 2323.0,232.3 2325.2,231.3 2327.4,230.0 2329.7,228.7 2331.9,227.2 2334.1,225.7 2336.3,224.0 2338.5,222.3 2340.7,220.6 2342.9,218.8 2345.1,217.0 2347.3,215.2 2349.5,213.4 2351.7,211.7 2353.9,210.1 2356.1,208.6 2358.3,207.3 2360.5,206.1 2362.7,205.2 2364.9,204.7 2367.1,204.4 2369.3,204.6 2371.5,205.1 2373.7,206.2 2375.9,207.7 2378.2,209.9 2380.4,212.5 2382.6,215.7 2384.8,219.3 2387.0,223.3 2389.2,227.5 2391.4,231.9 2393.6,236.5 2395.8,241.0 2398.0,245.6 2400.2,250.0 2402.4,254.3 2404.6,258.2 2406.8,261.9 2409.0,265.1 2411.2,267.8 2413.4,270.0 2415.6,271.5 2417.8,272.4 2420.0,272.5 2422.2,271.7 2424.4,270.1 2426.7,267.5 2428.9,263.9 2431.1,259.3 2433.3,253.6 2435.5,246.9 2437.7,239.2 2439.9,230.7 2442.1,221.2 2444.3,210.8 2446.5,199.5 2448.7,187.3 2450.9,174.2 2453.1,160.2 2455.3,145.4 2457.5,129.6 2459.7,113.0 2461.9,95.5" fill="none" stroke="#1E2EE6" stroke-width="1.5"/>
<g fill="none" stroke="#2424DC" stroke-width="1.2">
<circle cx="2155.50" cy="255.13" r="2.1"/>
<circle cx="2163.73" cy="251.21" r="2.1"/>
<circle cx="2171.17" cy="255.13" r="2.1"/>
<circle cx="2174.31" cy="251.21" r="2.1"/>
<circle cx="2175.48" cy="255.13" r="2.1"/>
<circle cx="2179.01" cy="255.13" r="2.1"/>
<circle cx="2184.89" cy="255.13" r="2.1"/>
<circle cx="2187.63" cy="231.22" r="2.1"/>
<circle cx="2193.12" cy="246.90" r="2.1"/>
<circle cx="2198.99" cy="255.13" r="2.1"/>
<circle cx="2209.18" cy="255.13" r="2.1"/>
<circle cx="2216.63" cy="255.13" r="2.1"/>
<circle cx="2224.46" cy="173.23" r="2.1"/>
<circle cx="2233.87" cy="255.13" r="2.1"/>
<circle cx="2246.02" cy="210.85" r="2.1"/>
<circle cx="2257.77" cy="228.09" r="2.1"/>
<circle cx="2270.31" cy="255.13" r="2.1"/>
<circle cx="2283.24" cy="218.29" r="2.1"/>
<circle cx="2291.86" cy="200.27" r="2.1"/>
<circle cx="2295.39" cy="245.33" r="2.1"/>
<circle cx="2304.79" cy="242.19" r="2.1"/>
<circle cx="2323.60" cy="242.98" r="2.1"/>
<circle cx="2346.33" cy="219.86" r="2.1"/>
<circle cx="2369.84" cy="180.28" r="2.1"/>
<circle cx="2392.96" cy="255.13" r="2.1"/>
<circle cx="2414.90" cy="255.13" r="2.1"/>
<circle cx="2439.59" cy="255.13" r="2.1"/>
<circle cx="2461.92" cy="79.97" r="2.1"/>
</g>
<g stroke="#6F6FEE" stroke-width="1">
<line x1="2155.50" y1="306.2" x2="2155.50" y2="313.7"/>
<line x1="2163.73" y1="306.2" x2="2163.73" y2="313.7"/>
<line x1="2171.17" y1="306.2" x2="2171.17" y2="313.7"/>
<line x1="2172.74" y1="306.2" x2="2172.74" y2="313.7"/>
<line x1="2174.31" y1="306.2" x2="2174.31" y2="313.7"/>
<line x1="2175.48" y1="306.2" x2="2175.48" y2="313.7"/>
<line x1="2177.05" y1="306.2" x2="2177.05" y2="313.7"/>
<line x1="2179.01" y1="306.2" x2="2179.01" y2="313.7"/>
<line x1="2184.89" y1="306.2" x2="2184.89" y2="313.7"/>
<line x1="2187.63" y1="306.2" x2="2187.63" y2="313.7"/>
<line x1="2193.12" y1="306.2" x2="2193.12" y2="313.7"/>
<line x1="2198.99" y1="306.2" x2="2198.99" y2="313.7"/>
<line x1="2209.18" y1="306.2" x2="2209.18" y2="313.7"/>
<line x1="2216.63" y1="306.2" x2="2216.63" y2="313.7"/>
<line x1="2224.46" y1="306.2" x2="2224.46" y2="313.7"/>
<line x1="2233.87" y1="306.2" x2="2233.87" y2="313.7"/>
<line x1="2246.02" y1="306.2" x2="2246.02" y2="313.7"/>
<line x1="2257.77" y1="306.2" x2="2257.77" y2="313.7"/>
<line x1="2270.31" y1="306.2" x2="2270.31" y2="313.7"/>
<line x1="2283.24" y1="306.2" x2="2283.24" y2="313.7"/>
<line x1="2291.86" y1="306.2" x2="2291.86" y2="313.7"/>
<line x1="2293.82" y1="306.2" x2="2293.82" y2="313.7"/>
<line x1="2295.39" y1="306.2" x2="2295.39" y2="313.7"/>
<line x1="2304.79" y1="306.2" x2="2304.79" y2="313.7"/>
<line x1="2323.60" y1="306.2" x2="2323.60" y2="313.7"/>
<line x1="2346.33" y1="306.2" x2="2346.33" y2="313.7"/>
<line x1="2369.84" y1="306.2" x2="2369.84" y2="313.7"/>
<line x1="2392.96" y1="306.2" x2="2392.96" y2="313.7"/>
<line x1="2414.90" y1="306.2" x2="2414.90" y2="313.7"/>
<line x1="2439.59" y1="306.2" x2="2439.59" y2="313.7"/>
<line x1="2461.92" y1="306.2" x2="2461.92" y2="313.7"/>
</g>
<rect x="2142.7" y="43.0" width="331.0" height="271.2" fill="none" stroke="#3C3C3C" stroke-width="1.6"/>
<line x1="2138.20" y1="70.20" x2="2142.70" y2="70.20" stroke="#3C3C3C" stroke-width="1.2" />
<text transform="translate(2134.40,70.20) rotate(-90)" font-family="'Liberation Sans', sans-serif" font-size="10.4" fill="#161616" text-anchor="middle" textLength="15.0" lengthAdjust="spacingAndGlyphs" stroke="#161616" stroke-width="0.3">2000</text>
<line x1="2138.20" y1="111.30" x2="2142.70" y2="111.30" stroke="#3C3C3C" stroke-width="1.2" />
<text transform="translate(2134.40,111.30) rotate(-90)" font-family="'Liberation Sans', sans-serif" font-size="10.4" fill="#161616" text-anchor="middle" textLength="15.0" lengthAdjust="spacingAndGlyphs" stroke="#161616" stroke-width="0.3">1500</text>
<line x1="2138.20" y1="152.00" x2="2142.70" y2="152.00" stroke="#3C3C3C" stroke-width="1.2" />
<text transform="translate(2134.40,152.00) rotate(-90)" font-family="'Liberation Sans', sans-serif" font-size="10.4" fill="#161616" text-anchor="middle" textLength="15.0" lengthAdjust="spacingAndGlyphs" stroke="#161616" stroke-width="0.3">1000</text>
<line x1="2138.20" y1="192.80" x2="2142.70" y2="192.80" stroke="#3C3C3C" stroke-width="1.2" />
<text transform="translate(2134.40,192.80) rotate(-90)" font-family="'Liberation Sans', sans-serif" font-size="10.4" fill="#161616" text-anchor="middle" textLength="12.0" lengthAdjust="spacingAndGlyphs" stroke="#161616" stroke-width="0.3">500</text>
<line x1="2138.20" y1="233.50" x2="2142.70" y2="233.50" stroke="#3C3C3C" stroke-width="1.2" />
<text transform="translate(2134.40,233.50) rotate(-90)" font-family="'Liberation Sans', sans-serif" font-size="10.4" fill="#161616" text-anchor="middle" textLength="4.0" lengthAdjust="spacingAndGlyphs" stroke="#161616" stroke-width="0.3">0</text>
<line x1="2138.20" y1="274.20" x2="2142.70" y2="274.20" stroke="#3C3C3C" stroke-width="1.2" />
<text transform="translate(2134.40,274.20) rotate(-90)" font-family="'Liberation Sans', sans-serif" font-size="10.4" fill="#161616" text-anchor="middle" textLength="15.0" lengthAdjust="spacingAndGlyphs" stroke="#161616" stroke-width="0.3">-500</text>
<line x1="2145.70" y1="314.20" x2="2145.70" y2="318.80" stroke="#3C3C3C" stroke-width="1.2" />
<text x="2145.70" y="329.90" font-family="'Liberation Sans', sans-serif" font-size="7.6" fill="#222" font-weight="bold" text-anchor="middle" textLength="27.650000000000002" lengthAdjust="spacingAndGlyphs">1400000</text>
<line x1="2210.40" y1="314.20" x2="2210.40" y2="318.80" stroke="#3C3C3C" stroke-width="1.2" />
<text x="2210.40" y="329.90" font-family="'Liberation Sans', sans-serif" font-size="7.6" fill="#222" font-weight="bold" text-anchor="middle" textLength="27.650000000000002" lengthAdjust="spacingAndGlyphs">1600000</text>
<line x1="2275.40" y1="314.20" x2="2275.40" y2="318.80" stroke="#3C3C3C" stroke-width="1.2" />
<text x="2275.40" y="329.90" font-family="'Liberation Sans', sans-serif" font-size="7.6" fill="#222" font-weight="bold" text-anchor="middle" textLength="27.650000000000002" lengthAdjust="spacingAndGlyphs">1800000</text>
<line x1="2340.10" y1="314.20" x2="2340.10" y2="318.80" stroke="#3C3C3C" stroke-width="1.2" />
<text x="2340.10" y="329.90" font-family="'Liberation Sans', sans-serif" font-size="7.6" fill="#222" font-weight="bold" text-anchor="middle" textLength="27.650000000000002" lengthAdjust="spacingAndGlyphs">2000000</text>
<line x1="2404.70" y1="314.20" x2="2404.70" y2="318.80" stroke="#3C3C3C" stroke-width="1.2" />
<text x="2404.70" y="329.90" font-family="'Liberation Sans', sans-serif" font-size="7.6" fill="#222" font-weight="bold" text-anchor="middle" textLength="27.650000000000002" lengthAdjust="spacingAndGlyphs">2200000</text>
<line x1="2469.40" y1="314.20" x2="2469.40" y2="318.80" stroke="#3C3C3C" stroke-width="1.2" />
<text x="2469.40" y="329.90" font-family="'Liberation Sans', sans-serif" font-size="7.6" fill="#222" font-weight="bold" text-anchor="middle" textLength="27.650000000000002" lengthAdjust="spacingAndGlyphs">2400000</text>
<text x="2309.20" y="344.20" font-family="'Liberation Sans', sans-serif" font-size="16.3" fill="#000" font-weight="bold" text-anchor="middle" textLength="259.4" lengthAdjust="spacingAndGlyphs" stroke="#000" stroke-width="0.7">Stockholm County population</text>
<text transform="translate(2124.50,177.60) rotate(-90)" font-family="'Liberation Sans', sans-serif" font-size="16" fill="#000" font-weight="bold" text-anchor="middle" textLength="72.5" lengthAdjust="spacingAndGlyphs" stroke="#000" stroke-width="0.35">s(x,7.863)</text>
<text x="2153.30" y="85.80" font-family="'Liberation Sans', sans-serif" font-size="17.2" fill="#1E1E1E" textLength="201.5" lengthAdjust="spacingAndGlyphs" letter-spacing="-0.6" stroke="#1E1E1E" stroke-width="0.5">Deviance explained = 74.9%,</text>
<text x="2154.70" y="111.60" font-family="'Liberation Sans', sans-serif" font-size="17.2" fill="#1E1E1E" stroke="#1E1E1E" stroke-width="0.5" letter-spacing="-0.6" textLength="86.7" lengthAdjust="spacingAndGlyphs"><tspan font-style="italic">p</tspan> = 5.10e-04</text>
<path d="M1002.9,615.2 1010.6,615.1 1018.3,614.9 1025.9,614.8 1033.6,614.7 1041.2,614.5 1048.9,614.4 1056.6,614.3 1064.2,614.1 1071.9,614.0 1079.5,613.9 1087.2,613.8 1094.9,613.6 1102.5,613.5 1110.2,613.4 1117.8,612.4 1125.5,609.6 1133.2,606.8 1140.8,603.9 1148.5,601.1 1156.1,598.3 1163.8,595.5 1171.5,592.7 1179.1,589.9 1186.8,587.1 1194.4,584.3 1202.1,581.4 1209.8,578.6 1217.4,575.8 1225.1,573.0 1232.8,570.2 1240.4,567.4 1248.1,564.6 1255.7,561.8 1263.4,559.0 1271.1,556.1 1278.7,553.3 1286.4,550.5 1294.0,547.7 1301.7,544.9 1309.4,542.1 1309.4,610.0 1301.7,610.1 1294.0,610.2 1286.4,610.4 1278.7,610.5 1271.1,610.6 1263.4,610.8 1255.7,610.9 1248.1,611.0 1240.4,611.1 1232.8,611.3 1225.1,611.4 1217.4,611.5 1209.8,611.7 1202.1,611.8 1194.4,611.9 1186.8,612.1 1179.1,612.2 1171.5,612.3 1163.8,612.4 1156.1,612.6 1148.5,612.7 1140.8,612.8 1133.2,613.0 1125.5,613.1 1117.8,613.2 1110.2,615.2 1102.5,618.0 1094.9,620.8 1087.2,623.6 1079.5,626.4 1071.9,629.2 1064.2,632.1 1056.6,634.9 1048.9,637.7 1041.2,640.5 1033.6,643.3 1025.9,646.1 1018.3,648.9 1010.6,651.7 1002.9,654.5 Z" fill="#07D207" filter="url(#tubeC)"/>
<path d="M1002.9,634.9 1010.6,633.4 1018.3,631.9 1025.9,630.5 1033.6,629.0 1041.2,627.5 1048.9,626.0 1056.6,624.6 1064.2,623.1 1071.9,621.6 1079.5,620.2 1087.2,618.7 1094.9,617.2 1102.5,615.7 1110.2,614.3 1117.8,612.8 1125.5,611.3 1133.2,609.9 1140.8,608.4 1148.5,606.9 1156.1,605.4 1163.8,604.0 1171.5,602.5 1179.1,601.0 1186.8,599.6 1194.4,598.1 1202.1,596.6 1209.8,595.2 1217.4,593.7 1225.1,592.2 1232.8,590.7 1240.4,589.3 1248.1,587.8 1255.7,586.3 1263.4,584.9 1271.1,583.4 1278.7,581.9 1286.4,580.4 1294.0,579.0 1301.7,577.5 1309.4,576.0" fill="none" stroke="#22F522" stroke-width="1.4"/>
<g fill="none" stroke="#3ED83E" stroke-width="1.0">
<circle cx="1232.95" cy="402.89" r="2.1"/>
<circle cx="1039.76" cy="571.39" r="2.1"/>
<circle cx="1193.76" cy="571.39" r="2.1"/>
<circle cx="1104.03" cy="587.84" r="2.1"/>
<circle cx="1053.09" cy="601.95" r="2.1"/>
<circle cx="1074.25" cy="600.77" r="2.1"/>
<circle cx="1262.73" cy="601.17" r="2.1"/>
<circle cx="1185.92" cy="604.30" r="2.1"/>
<circle cx="1238.82" cy="592.55" r="2.1"/>
<circle cx="1309.36" cy="590.59" r="2.1"/>
<circle cx="1055.44" cy="614.88" r="2.1"/>
<circle cx="1119.70" cy="615.27" r="2.1"/>
<circle cx="1008.81" cy="632.12" r="2.1"/>
<circle cx="1021.35" cy="627.42" r="2.1"/>
<circle cx="1031.54" cy="633.30" r="2.1"/>
<circle cx="1005.67" cy="637.61" r="2.1"/>
<circle cx="1093.84" cy="628.60" r="2.1"/>
<circle cx="1149.87" cy="628.20" r="2.1"/>
<circle cx="1133.81" cy="631.73" r="2.1"/>
<circle cx="1002.93" cy="642.70" r="2.1"/>
<circle cx="1014.29" cy="642.70" r="2.1"/>
<circle cx="1024.09" cy="642.70" r="2.1"/>
<circle cx="1038.20" cy="642.70" r="2.1"/>
<circle cx="1047.99" cy="642.70" r="2.1"/>
<circle cx="1066.02" cy="642.70" r="2.1"/>
<circle cx="1085.61" cy="642.70" r="2.1"/>
<circle cx="1170.64" cy="642.70" r="2.1"/>
<circle cx="1211.79" cy="642.70" r="2.1"/>
<circle cx="1285.45" cy="642.70" r="2.1"/>
</g>
<g stroke="#62E862" stroke-width="1">
<line x1="1002.84" y1="656.3" x2="1002.84" y2="663.8"/>
<line x1="1004.50" y1="656.3" x2="1004.50" y2="663.8"/>
<line x1="1006.64" y1="656.3" x2="1006.64" y2="663.8"/>
<line x1="1009.02" y1="656.3" x2="1009.02" y2="663.8"/>
<line x1="1014.49" y1="656.3" x2="1014.49" y2="663.8"/>
<line x1="1021.86" y1="656.3" x2="1021.86" y2="663.8"/>
<line x1="1024.24" y1="656.3" x2="1024.24" y2="663.8"/>
<line x1="1031.61" y1="656.3" x2="1031.61" y2="663.8"/>
<line x1="1037.79" y1="656.3" x2="1037.79" y2="663.8"/>
<line x1="1039.69" y1="656.3" x2="1039.69" y2="663.8"/>
<line x1="1048.01" y1="656.3" x2="1048.01" y2="663.8"/>
<line x1="1053.01" y1="656.3" x2="1053.01" y2="663.8"/>
<line x1="1055.62" y1="656.3" x2="1055.62" y2="663.8"/>
<line x1="1066.32" y1="656.3" x2="1066.32" y2="663.8"/>
<line x1="1074.40" y1="656.3" x2="1074.40" y2="663.8"/>
<line x1="1086.29" y1="656.3" x2="1086.29" y2="663.8"/>
<line x1="1094.37" y1="656.3" x2="1094.37" y2="663.8"/>
<line x1="1104.12" y1="656.3" x2="1104.12" y2="663.8"/>
<line x1="1119.81" y1="656.3" x2="1119.81" y2="663.8"/>
<line x1="1133.84" y1="656.3" x2="1133.84" y2="663.8"/>
<line x1="1150.25" y1="656.3" x2="1150.25" y2="663.8"/>
<line x1="1170.93" y1="656.3" x2="1170.93" y2="663.8"/>
<line x1="1186.15" y1="656.3" x2="1186.15" y2="663.8"/>
<line x1="1193.99" y1="656.3" x2="1193.99" y2="663.8"/>
<line x1="1212.06" y1="656.3" x2="1212.06" y2="663.8"/>
<line x1="1232.51" y1="656.3" x2="1232.51" y2="663.8"/>
<line x1="1238.45" y1="656.3" x2="1238.45" y2="663.8"/>
<line x1="1263.18" y1="656.3" x2="1263.18" y2="663.8"/>
<line x1="1285.53" y1="656.3" x2="1285.53" y2="663.8"/>
<line x1="1309.54" y1="656.3" x2="1309.54" y2="663.8"/>
</g>
<rect x="990.6" y="393.1" width="331.0" height="271.2" fill="none" stroke="#3C3C3C" stroke-width="1.6"/>
<line x1="986.10" y1="415.40" x2="990.60" y2="415.40" stroke="#3C3C3C" stroke-width="1.2" />
<text transform="translate(982.30,415.40) rotate(-90)" font-family="'Liberation Sans', sans-serif" font-size="10.4" fill="#161616" text-anchor="middle" textLength="15.0" lengthAdjust="spacingAndGlyphs" stroke="#161616" stroke-width="0.3">3000</text>
<line x1="986.10" y1="482.00" x2="990.60" y2="482.00" stroke="#3C3C3C" stroke-width="1.2" />
<text transform="translate(982.30,482.00) rotate(-90)" font-family="'Liberation Sans', sans-serif" font-size="10.4" fill="#161616" text-anchor="middle" textLength="15.0" lengthAdjust="spacingAndGlyphs" stroke="#161616" stroke-width="0.3">2000</text>
<line x1="986.10" y1="547.80" x2="990.60" y2="547.80" stroke="#3C3C3C" stroke-width="1.2" />
<text transform="translate(982.30,547.80) rotate(-90)" font-family="'Liberation Sans', sans-serif" font-size="10.4" fill="#161616" text-anchor="middle" textLength="15.0" lengthAdjust="spacingAndGlyphs" stroke="#161616" stroke-width="0.3">1000</text>
<line x1="986.10" y1="614.00" x2="990.60" y2="614.00" stroke="#3C3C3C" stroke-width="1.2" />
<text transform="translate(982.30,614.00) rotate(-90)" font-family="'Liberation Sans', sans-serif" font-size="10.4" fill="#161616" text-anchor="middle" textLength="4.0" lengthAdjust="spacingAndGlyphs" stroke="#161616" stroke-width="0.3">0</text>
<line x1="995.50" y1="664.30" x2="995.50" y2="668.90" stroke="#3C3C3C" stroke-width="1.2" />
<text x="995.50" y="680.00" font-family="'Liberation Sans', sans-serif" font-size="7.6" fill="#222" font-weight="bold" text-anchor="middle" textLength="3.95" lengthAdjust="spacingAndGlyphs">0</text>
<line x1="1077.90" y1="664.30" x2="1077.90" y2="668.90" stroke="#3C3C3C" stroke-width="1.2" />
<text x="1077.90" y="680.00" font-family="'Liberation Sans', sans-serif" font-size="7.6" fill="#222" font-weight="bold" text-anchor="middle" textLength="11.850000000000001" lengthAdjust="spacingAndGlyphs">100</text>
<line x1="1160.30" y1="664.30" x2="1160.30" y2="668.90" stroke="#3C3C3C" stroke-width="1.2" />
<text x="1160.30" y="680.00" font-family="'Liberation Sans', sans-serif" font-size="7.6" fill="#222" font-weight="bold" text-anchor="middle" textLength="11.850000000000001" lengthAdjust="spacingAndGlyphs">200</text>
<line x1="1242.70" y1="664.30" x2="1242.70" y2="668.90" stroke="#3C3C3C" stroke-width="1.2" />
<text x="1242.70" y="680.00" font-family="'Liberation Sans', sans-serif" font-size="7.6" fill="#222" font-weight="bold" text-anchor="middle" textLength="11.850000000000001" lengthAdjust="spacingAndGlyphs">300</text>
<text x="1154.60" y="694.30" font-family="'Liberation Sans', sans-serif" font-size="16.3" fill="#000" font-weight="bold" text-anchor="middle" textLength="222" lengthAdjust="spacingAndGlyphs" stroke="#000" stroke-width="0.7">Global plastic production</text>
<text transform="translate(971.00,527.70) rotate(-90)" font-family="'Liberation Sans', sans-serif" font-size="16" fill="#000" font-weight="bold" text-anchor="middle" textLength="40" lengthAdjust="spacingAndGlyphs" stroke="#000" stroke-width="0.35">s(x,1)</text>
<text x="996.70" y="438.70" font-family="'Liberation Sans', sans-serif" font-size="17.2" fill="#1E1E1E" textLength="201.5" lengthAdjust="spacingAndGlyphs" letter-spacing="-0.6" stroke="#1E1E1E" stroke-width="0.5">Deviance explained = 14.3%,</text>
<text x="998.10" y="464.50" font-family="'Liberation Sans', sans-serif" font-size="17.2" fill="#1E1E1E" stroke="#1E1E1E" stroke-width="0.5" letter-spacing="-0.6" textLength="86.7" lengthAdjust="spacingAndGlyphs"><tspan font-style="italic">p</tspan> = 1.54e-03</text>
<path d="M1386.8,570.4 1389.0,571.1 1391.2,570.1 1393.4,567.7 1395.6,564.7 1397.8,561.6 1400.0,558.8 1402.2,556.5 1404.4,554.8 1406.6,553.5 1408.8,552.7 1411.0,552.3 1413.2,552.3 1415.5,552.5 1417.7,553.1 1419.9,553.8 1422.1,554.5 1424.3,555.3 1426.5,555.9 1428.7,556.3 1430.9,556.5 1433.1,556.3 1435.3,555.8 1437.5,554.9 1439.7,553.5 1441.9,551.9 1444.1,550.0 1446.4,548.1 1448.6,546.3 1450.8,544.6 1453.0,543.3 1455.2,542.2 1457.4,541.5 1459.6,541.0 1461.8,540.9 1464.0,541.1 1466.2,541.7 1468.4,542.6 1470.6,543.7 1472.8,545.0 1475.0,546.5 1477.3,548.1 1479.5,549.7 1481.7,551.3 1483.9,552.7 1486.1,554.0 1488.3,555.1 1490.5,555.9 1492.7,556.5 1494.9,556.7 1497.1,556.8 1499.3,556.6 1501.5,556.1 1503.7,555.5 1506.0,554.7 1508.2,553.7 1510.4,552.5 1512.6,551.3 1514.8,549.8 1517.0,548.3 1519.2,546.7 1521.4,544.9 1523.6,543.1 1525.8,541.3 1528.0,539.5 1530.2,537.7 1532.4,536.1 1534.6,534.7 1536.9,533.5 1539.1,532.8 1541.3,532.4 1543.5,532.5 1545.7,533.2 1547.9,534.2 1550.1,535.6 1552.3,537.0 1554.5,538.5 1556.7,539.7 1558.9,540.7 1561.1,541.2 1563.3,541.1 1565.5,540.2 1567.8,538.4 1570.0,535.7 1572.2,532.2 1574.4,527.8 1576.6,522.8 1578.8,517.2 1581.0,511.2 1583.2,504.7 1585.4,497.9 1587.6,491.0 1589.8,483.9 1592.0,476.8 1594.2,469.9 1596.5,463.0 1598.7,456.5 1600.9,450.3 1603.1,444.6 1605.3,439.5 1607.5,435.0 1609.7,431.2 1611.9,428.3 1614.1,426.3 1616.3,425.2 1618.5,425.2 1620.7,426.3 1622.9,428.6 1625.1,432.2 1627.4,437.0 1629.6,443.3 1631.8,451.0 1634.0,460.2 1636.2,470.6 1638.4,481.6 1640.6,493.0 1642.8,504.3 1645.0,515.1 1647.2,525.1 1649.4,534.2 1651.6,542.2 1653.8,549.2 1656.0,555.2 1658.3,560.0 1660.5,563.7 1662.7,566.3 1664.9,567.6 1667.1,567.8 1669.3,566.8 1671.5,564.5 1673.7,560.9 1675.9,556.1 1678.1,550.0 1680.3,542.5 1682.5,533.8 1684.7,524.5 1687.0,515.6 1689.2,507.8 1691.4,502.2 1693.6,499.6 1693.6,595.6 1691.4,594.4 1689.2,597.3 1687.0,603.4 1684.7,611.3 1682.5,620.1 1680.3,628.5 1678.1,635.7 1675.9,641.6 1673.7,646.2 1671.5,649.6 1669.3,651.8 1667.1,652.9 1664.9,652.7 1662.7,651.5 1660.5,649.1 1658.3,645.7 1656.0,641.2 1653.8,635.7 1651.6,629.0 1649.4,621.1 1647.2,611.8 1645.0,601.2 1642.8,589.1 1640.6,576.3 1638.4,563.2 1636.2,550.4 1634.0,538.4 1631.8,527.9 1629.6,519.2 1627.4,512.4 1625.1,507.2 1622.9,503.5 1620.7,500.9 1618.5,499.4 1616.3,498.8 1614.1,499.1 1611.9,500.5 1609.7,503.2 1607.5,507.2 1605.3,512.6 1603.1,519.0 1600.9,526.2 1598.7,533.9 1596.5,541.7 1594.2,549.3 1592.0,556.6 1589.8,563.5 1587.6,570.1 1585.4,576.2 1583.2,581.9 1581.0,587.2 1578.8,591.9 1576.6,596.1 1574.4,599.7 1572.2,602.5 1570.0,604.5 1567.8,605.5 1565.5,605.7 1563.3,605.3 1561.1,604.3 1558.9,603.2 1556.7,602.0 1554.5,600.7 1552.3,599.5 1550.1,598.4 1547.9,597.4 1545.7,596.5 1543.5,595.9 1541.3,595.5 1539.1,595.3 1536.9,595.5 1534.6,596.0 1532.4,596.9 1530.2,598.1 1528.0,599.5 1525.8,601.1 1523.6,602.9 1521.4,604.7 1519.2,606.5 1517.0,608.3 1514.8,610.0 1512.6,611.6 1510.4,612.9 1508.2,614.0 1506.0,614.8 1503.7,615.1 1501.5,615.1 1499.3,614.6 1497.1,613.7 1494.9,612.5 1492.7,611.0 1490.5,609.4 1488.3,607.6 1486.1,605.7 1483.9,603.9 1481.7,602.0 1479.5,600.3 1477.3,598.8 1475.0,597.4 1472.8,596.2 1470.6,595.2 1468.4,594.5 1466.2,594.0 1464.0,593.8 1461.8,593.9 1459.6,594.3 1457.4,595.0 1455.2,596.1 1453.0,597.4 1450.8,598.8 1448.6,600.0 1446.4,601.0 1444.1,601.6 1441.9,601.8 1439.7,601.7 1437.5,601.2 1435.3,600.5 1433.1,599.5 1430.9,598.4 1428.7,597.2 1426.5,596.0 1424.3,594.7 1422.1,593.6 1419.9,592.5 1417.7,591.6 1415.5,590.9 1413.2,590.4 1411.0,590.2 1408.8,590.2 1406.6,590.6 1404.4,591.3 1402.2,592.4 1400.0,594.0 1397.8,595.9 1395.6,598.4 1393.4,601.4 1391.2,605.0 1389.0,609.1 1386.8,613.9 Z" fill="#07D207" filter="url(#tubeC)"/>
<path d="M1386.8,591.7 1389.0,591.2 1391.2,590.1 1393.4,588.7 1395.6,586.9 1397.8,584.9 1400.0,582.8 1402.2,580.7 1404.4,578.6 1406.6,576.8 1408.8,575.3 1411.0,574.1 1413.2,573.4 1415.5,573.0 1417.7,573.0 1419.9,573.2 1422.1,573.6 1424.3,574.0 1426.5,574.6 1428.7,575.1 1430.9,575.5 1433.1,575.7 1435.3,575.8 1437.5,575.6 1439.7,575.3 1441.9,574.8 1444.1,574.1 1446.4,573.4 1448.6,572.7 1450.8,571.9 1453.0,571.1 1455.2,570.4 1457.4,569.7 1459.6,569.1 1461.8,568.7 1464.0,568.5 1466.2,568.4 1468.4,568.6 1470.6,569.0 1472.8,569.7 1475.0,570.6 1477.3,571.6 1479.5,572.8 1481.7,574.0 1483.9,575.3 1486.1,576.6 1488.3,577.8 1490.5,578.9 1492.7,580.0 1494.9,580.9 1497.1,581.5 1499.3,581.9 1501.5,582.1 1503.7,581.9 1506.0,581.4 1508.2,580.6 1510.4,579.6 1512.6,578.4 1514.8,576.9 1517.0,575.4 1519.2,573.8 1521.4,572.1 1523.6,570.3 1525.8,568.6 1528.0,566.9 1530.2,565.3 1532.4,563.9 1534.6,562.6 1536.9,561.4 1539.1,560.6 1541.3,560.0 1543.5,559.8 1545.7,560.0 1547.9,560.7 1550.1,561.8 1552.3,563.3 1554.5,564.9 1556.7,566.5 1558.9,567.9 1561.1,569.0 1563.3,569.6 1565.5,569.7 1567.8,569.2 1570.0,568.1 1572.2,566.4 1574.4,564.0 1576.6,560.8 1578.8,556.8 1581.0,552.0 1583.2,546.4 1585.4,540.1 1587.6,533.3 1589.8,526.0 1592.0,518.3 1594.2,510.4 1596.5,502.3 1598.7,494.2 1600.9,486.4 1603.1,479.2 1605.3,472.9 1607.5,467.8 1609.7,464.2 1611.9,462.0 1614.1,461.1 1616.3,461.3 1618.5,462.4 1620.7,464.2 1622.9,467.0 1625.1,470.8 1627.4,475.9 1629.6,482.4 1631.8,490.5 1634.0,500.2 1636.2,511.3 1638.4,523.1 1640.6,535.2 1642.8,547.1 1645.0,558.4 1647.2,568.5 1649.4,577.5 1651.6,585.3 1653.8,592.0 1656.0,597.7 1658.3,602.5 1660.5,606.2 1662.7,608.9 1664.9,610.4 1667.1,610.8 1669.3,609.9 1671.5,607.6 1673.7,603.9 1675.9,598.7 1678.1,591.9 1680.3,583.5 1682.5,573.6 1684.7,563.2 1687.0,554.0 1689.2,547.5 1691.4,545.2 1693.6,548.6" fill="none" stroke="#22F522" stroke-width="1.4"/>
<g fill="none" stroke="#3ED83E" stroke-width="1.0">
<circle cx="1611.68" cy="402.89" r="2.1"/>
<circle cx="1405.96" cy="535.34" r="2.1"/>
<circle cx="1636.76" cy="558.45" r="2.1"/>
<circle cx="1693.57" cy="550.23" r="2.1"/>
<circle cx="1386.76" cy="590.98" r="2.1"/>
<circle cx="1388.71" cy="587.06" r="2.1"/>
<circle cx="1390.67" cy="583.92" r="2.1"/>
<circle cx="1392.63" cy="580.01" r="2.1"/>
<circle cx="1396.55" cy="581.97" r="2.1"/>
<circle cx="1401.65" cy="590.98" r="2.1"/>
<circle cx="1410.27" cy="590.98" r="2.1"/>
<circle cx="1422.02" cy="570.21" r="2.1"/>
<circle cx="1435.74" cy="558.45" r="2.1"/>
<circle cx="1453.37" cy="580.01" r="2.1"/>
<circle cx="1464.34" cy="548.66" r="2.1"/>
<circle cx="1475.31" cy="569.43" r="2.1"/>
<circle cx="1487.46" cy="582.36" r="2.1"/>
<circle cx="1502.35" cy="579.61" r="2.1"/>
<circle cx="1519.20" cy="590.98" r="2.1"/>
<circle cx="1536.44" cy="560.41" r="2.1"/>
<circle cx="1545.85" cy="535.34" r="2.1"/>
<circle cx="1566.22" cy="590.98" r="2.1"/>
<circle cx="1664.18" cy="590.98" r="2.1"/>
</g>
<g stroke="#62E862" stroke-width="1">
<line x1="1386.76" y1="656.3" x2="1386.76" y2="663.8"/>
<line x1="1387.93" y1="656.3" x2="1387.93" y2="663.8"/>
<line x1="1389.50" y1="656.3" x2="1389.50" y2="663.8"/>
<line x1="1391.46" y1="656.3" x2="1391.46" y2="663.8"/>
<line x1="1393.42" y1="656.3" x2="1393.42" y2="663.8"/>
<line x1="1395.77" y1="656.3" x2="1395.77" y2="663.8"/>
<line x1="1397.73" y1="656.3" x2="1397.73" y2="663.8"/>
<line x1="1400.86" y1="656.3" x2="1400.86" y2="663.8"/>
<line x1="1404.39" y1="656.3" x2="1404.39" y2="663.8"/>
<line x1="1407.92" y1="656.3" x2="1407.92" y2="663.8"/>
<line x1="1411.05" y1="656.3" x2="1411.05" y2="663.8"/>
<line x1="1416.14" y1="656.3" x2="1416.14" y2="663.8"/>
<line x1="1422.02" y1="656.3" x2="1422.02" y2="663.8"/>
<line x1="1428.29" y1="656.3" x2="1428.29" y2="663.8"/>
<line x1="1435.74" y1="656.3" x2="1435.74" y2="663.8"/>
<line x1="1444.36" y1="656.3" x2="1444.36" y2="663.8"/>
<line x1="1453.37" y1="656.3" x2="1453.37" y2="663.8"/>
<line x1="1463.95" y1="656.3" x2="1463.95" y2="663.8"/>
<line x1="1474.92" y1="656.3" x2="1474.92" y2="663.8"/>
<line x1="1487.85" y1="656.3" x2="1487.85" y2="663.8"/>
<line x1="1502.35" y1="656.3" x2="1502.35" y2="663.8"/>
<line x1="1518.81" y1="656.3" x2="1518.81" y2="663.8"/>
<line x1="1536.44" y1="656.3" x2="1536.44" y2="663.8"/>
<line x1="1545.85" y1="656.3" x2="1545.85" y2="663.8"/>
<line x1="1566.61" y1="656.3" x2="1566.61" y2="663.8"/>
<line x1="1588.95" y1="656.3" x2="1588.95" y2="663.8"/>
<line x1="1611.68" y1="656.3" x2="1611.68" y2="663.8"/>
<line x1="1636.76" y1="656.3" x2="1636.76" y2="663.8"/>
<line x1="1663.79" y1="656.3" x2="1663.79" y2="663.8"/>
<line x1="1693.57" y1="656.3" x2="1693.57" y2="663.8"/>
</g>
<rect x="1375.0" y="393.1" width="331.0" height="271.2" fill="none" stroke="#3C3C3C" stroke-width="1.6"/>
<line x1="1370.50" y1="413.10" x2="1375.00" y2="413.10" stroke="#3C3C3C" stroke-width="1.2" />
<text transform="translate(1366.70,413.10) rotate(-90)" font-family="'Liberation Sans', sans-serif" font-size="10.4" fill="#161616" text-anchor="middle" textLength="15.0" lengthAdjust="spacingAndGlyphs" stroke="#161616" stroke-width="0.3">3000</text>
<line x1="1370.50" y1="464.80" x2="1375.00" y2="464.80" stroke="#3C3C3C" stroke-width="1.2" />
<text transform="translate(1366.70,464.80) rotate(-90)" font-family="'Liberation Sans', sans-serif" font-size="10.4" fill="#161616" text-anchor="middle" textLength="15.0" lengthAdjust="spacingAndGlyphs" stroke="#161616" stroke-width="0.3">2000</text>
<line x1="1370.50" y1="516.50" x2="1375.00" y2="516.50" stroke="#3C3C3C" stroke-width="1.2" />
<text transform="translate(1366.70,516.50) rotate(-90)" font-family="'Liberation Sans', sans-serif" font-size="10.4" fill="#161616" text-anchor="middle" textLength="15.0" lengthAdjust="spacingAndGlyphs" stroke="#161616" stroke-width="0.3">1000</text>
<line x1="1370.50" y1="568.20" x2="1375.00" y2="568.20" stroke="#3C3C3C" stroke-width="1.2" />
<text transform="translate(1366.70,568.20) rotate(-90)" font-family="'Liberation Sans', sans-serif" font-size="10.4" fill="#161616" text-anchor="middle" textLength="4.0" lengthAdjust="spacingAndGlyphs" stroke="#161616" stroke-width="0.3">0</text>
<line x1="1370.50" y1="619.90" x2="1375.00" y2="619.90" stroke="#3C3C3C" stroke-width="1.2" />
<text transform="translate(1366.70,619.90) rotate(-90)" font-family="'Liberation Sans', sans-serif" font-size="10.4" fill="#161616" text-anchor="middle" textLength="18.5" lengthAdjust="spacingAndGlyphs" stroke="#161616" stroke-width="0.3">-1000</text>
<line x1="1384.80" y1="664.30" x2="1384.80" y2="668.90" stroke="#3C3C3C" stroke-width="1.2" />
<text x="1384.80" y="680.00" font-family="'Liberation Sans', sans-serif" font-size="7.6" fill="#222" font-weight="bold" text-anchor="middle" textLength="3.95" lengthAdjust="spacingAndGlyphs">0</text>
<line x1="1464.30" y1="664.30" x2="1464.30" y2="668.90" stroke="#3C3C3C" stroke-width="1.2" />
<text x="1464.30" y="680.00" font-family="'Liberation Sans', sans-serif" font-size="7.6" fill="#222" font-weight="bold" text-anchor="middle" textLength="15.8" lengthAdjust="spacingAndGlyphs">2000</text>
<line x1="1543.50" y1="664.30" x2="1543.50" y2="668.90" stroke="#3C3C3C" stroke-width="1.2" />
<text x="1543.50" y="680.00" font-family="'Liberation Sans', sans-serif" font-size="7.6" fill="#222" font-weight="bold" text-anchor="middle" textLength="15.8" lengthAdjust="spacingAndGlyphs">4000</text>
<line x1="1621.90" y1="664.30" x2="1621.90" y2="668.90" stroke="#3C3C3C" stroke-width="1.2" />
<text x="1621.90" y="680.00" font-family="'Liberation Sans', sans-serif" font-size="7.6" fill="#222" font-weight="bold" text-anchor="middle" textLength="15.8" lengthAdjust="spacingAndGlyphs">6000</text>
<line x1="1700.20" y1="664.30" x2="1700.20" y2="668.90" stroke="#3C3C3C" stroke-width="1.2" />
<text x="1700.20" y="680.00" font-family="'Liberation Sans', sans-serif" font-size="7.6" fill="#222" font-weight="bold" text-anchor="middle" textLength="15.8" lengthAdjust="spacingAndGlyphs">8000</text>
<text x="1539.00" y="694.30" font-family="'Liberation Sans', sans-serif" font-size="16.3" fill="#000" font-weight="bold" text-anchor="middle" textLength="324" lengthAdjust="spacingAndGlyphs" stroke="#000" stroke-width="0.7">Global cumulative plastic production</text>
<text transform="translate(1355.50,527.70) rotate(-90)" font-family="'Liberation Sans', sans-serif" font-size="16" fill="#000" font-weight="bold" text-anchor="middle" textLength="72.5" lengthAdjust="spacingAndGlyphs" stroke="#000" stroke-width="0.35">s(x,8.488)</text>
<text x="1387.40" y="441.40" font-family="'Liberation Sans', sans-serif" font-size="17.2" fill="#1E1E1E" textLength="201.5" lengthAdjust="spacingAndGlyphs" letter-spacing="-0.6" stroke="#1E1E1E" stroke-width="0.5">Deviance explained = 66.5%,</text>
<text x="1388.80" y="467.20" font-family="'Liberation Sans', sans-serif" font-size="17.2" fill="#1E1E1E" stroke="#1E1E1E" stroke-width="0.5" letter-spacing="-0.6" textLength="86.7" lengthAdjust="spacingAndGlyphs"><tspan font-style="italic">p</tspan> = 5.18e-03</text>
<path d="M1770.9,582.0 1773.1,588.2 1775.3,592.9 1777.6,596.3 1779.8,598.5 1782.0,599.8 1784.2,600.2 1786.4,600.0 1788.6,599.3 1790.8,598.2 1793.0,597.0 1795.2,595.8 1797.4,594.8 1799.6,594.1 1801.8,593.6 1804.0,593.4 1806.2,593.3 1808.5,593.4 1810.7,593.5 1812.9,593.6 1815.1,593.7 1817.3,593.7 1819.5,593.6 1821.7,593.4 1823.9,593.1 1826.1,592.7 1828.3,592.4 1830.5,592.1 1832.7,591.9 1834.9,591.8 1837.2,591.8 1839.4,591.9 1841.6,592.1 1843.8,592.3 1846.0,592.5 1848.2,592.6 1850.4,592.6 1852.6,592.5 1854.8,592.1 1857.0,591.4 1859.2,590.5 1861.4,589.3 1863.6,588.0 1865.8,586.6 1868.1,585.2 1870.3,583.9 1872.5,582.6 1874.7,581.5 1876.9,580.5 1879.1,579.8 1881.3,579.2 1883.5,578.7 1885.7,578.3 1887.9,578.1 1890.1,578.1 1892.3,578.4 1894.5,578.9 1896.7,579.7 1899.0,580.8 1901.2,582.4 1903.4,584.3 1905.6,586.6 1907.8,589.1 1910.0,591.4 1912.2,593.2 1914.4,594.4 1916.6,594.5 1918.8,593.5 1921.0,591.6 1923.2,588.9 1925.4,585.5 1927.7,581.5 1929.9,577.1 1932.1,572.3 1934.3,567.2 1936.5,562.0 1938.7,556.8 1940.9,551.7 1943.1,546.8 1945.3,542.3 1947.5,538.2 1949.7,534.7 1951.9,531.8 1954.1,529.6 1956.3,528.1 1958.6,527.2 1960.8,526.9 1963.0,527.1 1965.2,527.7 1967.4,528.8 1969.6,530.3 1971.8,532.2 1974.0,534.3 1976.2,536.8 1978.4,539.4 1980.6,542.3 1982.8,545.3 1985.0,548.4 1987.2,551.5 1989.5,554.7 1991.7,557.8 1993.9,560.9 1996.1,563.7 1998.3,566.3 2000.5,568.6 2002.7,570.6 2004.9,572.1 2007.1,573.1 2009.3,573.6 2011.5,573.4 2013.7,572.5 2015.9,570.9 2018.2,568.4 2020.4,565.1 2022.6,560.9 2024.8,555.8 2027.0,549.8 2029.2,542.9 2031.4,535.0 2033.6,526.5 2035.8,517.4 2038.0,507.9 2040.2,498.3 2042.4,488.9 2044.6,479.9 2046.8,471.7 2049.1,464.6 2051.3,458.6 2053.5,453.7 2055.7,449.5 2057.9,445.9 2060.1,442.5 2062.3,439.2 2064.5,435.7 2066.7,431.8 2068.9,427.2 2071.1,421.8 2073.3,415.3 2075.5,408.6 2077.7,403.5 2077.7,488.1 2075.5,490.7 2073.3,492.7 2071.1,494.2 2068.9,495.8 2066.7,497.6 2064.5,500.0 2062.3,503.1 2060.1,507.1 2057.9,511.9 2055.7,517.3 2053.5,523.2 2051.3,529.6 2049.1,536.4 2046.8,543.4 2044.6,550.7 2042.4,558.0 2040.2,565.2 2038.0,572.4 2035.8,579.5 2033.6,586.3 2031.4,592.9 2029.2,599.1 2027.0,605.0 2024.8,610.5 2022.6,615.5 2020.4,620.1 2018.2,624.0 2015.9,627.3 2013.7,630.0 2011.5,631.9 2009.3,633.1 2007.1,633.5 2004.9,633.0 2002.7,631.7 2000.5,629.8 1998.3,627.2 1996.1,624.2 1993.9,620.8 1991.7,617.1 1989.5,613.1 1987.2,609.1 1985.0,605.0 1982.8,601.0 1980.6,597.2 1978.4,593.6 1976.2,590.4 1974.0,587.6 1971.8,585.3 1969.6,583.5 1967.4,582.1 1965.2,581.2 1963.0,580.8 1960.8,581.0 1958.6,581.5 1956.3,582.6 1954.1,584.2 1951.9,586.3 1949.7,588.8 1947.5,591.9 1945.3,595.2 1943.1,598.7 1940.9,602.2 1938.7,605.5 1936.5,608.7 1934.3,611.5 1932.1,614.2 1929.9,616.5 1927.7,618.6 1925.4,620.5 1923.2,622.2 1921.0,623.6 1918.8,624.8 1916.6,625.8 1914.4,626.6 1912.2,627.3 1910.0,627.7 1907.8,628.0 1905.6,628.0 1903.4,628.0 1901.2,627.7 1899.0,627.4 1896.7,626.9 1894.5,626.3 1892.3,625.8 1890.1,625.1 1887.9,624.5 1885.7,623.9 1883.5,623.4 1881.3,622.9 1879.1,622.6 1876.9,622.4 1874.7,622.3 1872.5,622.4 1870.3,622.7 1868.1,623.1 1865.8,623.6 1863.6,624.1 1861.4,624.8 1859.2,625.5 1857.0,626.2 1854.8,626.9 1852.6,627.5 1850.4,628.2 1848.2,628.9 1846.0,629.6 1843.8,630.3 1841.6,631.0 1839.4,631.7 1837.2,632.5 1834.9,633.2 1832.7,634.0 1830.5,634.9 1828.3,635.7 1826.1,636.6 1823.9,637.5 1821.7,638.5 1819.5,639.5 1817.3,640.6 1815.1,641.8 1812.9,642.9 1810.7,644.1 1808.5,645.2 1806.2,646.2 1804.0,647.1 1801.8,647.7 1799.6,648.2 1797.4,648.4 1795.2,648.4 1793.0,648.1 1790.8,647.7 1788.6,647.3 1786.4,646.9 1784.2,646.7 1782.0,646.7 1779.8,647.0 1777.6,647.8 1775.3,649.1 1773.1,651.0 1770.9,653.6 Z" fill="#07D207" filter="url(#tubeC)"/>
<path d="M1770.9,618.9 1773.1,619.9 1775.3,620.7 1777.6,621.4 1779.8,621.8 1782.0,622.1 1784.2,622.2 1786.4,622.1 1788.6,621.9 1790.8,621.6 1793.0,621.2 1795.2,620.8 1797.4,620.2 1799.6,619.6 1801.8,619.0 1804.0,618.3 1806.2,617.6 1808.5,616.9 1810.7,616.3 1812.9,615.7 1815.1,615.1 1817.3,614.6 1819.5,614.2 1821.7,613.9 1823.9,613.6 1826.1,613.3 1828.3,613.1 1830.5,612.9 1832.7,612.8 1834.9,612.6 1837.2,612.4 1839.4,612.2 1841.6,612.0 1843.8,611.7 1846.0,611.4 1848.2,611.0 1850.4,610.6 1852.6,610.1 1854.8,609.4 1857.0,608.7 1859.2,607.9 1861.4,607.0 1863.6,606.2 1865.8,605.3 1868.1,604.5 1870.3,603.8 1872.5,603.2 1874.7,602.7 1876.9,602.5 1879.1,602.4 1881.3,602.6 1883.5,602.9 1885.7,603.3 1887.9,603.9 1890.1,604.6 1892.3,605.3 1894.5,606.1 1896.7,607.0 1899.0,607.9 1901.2,608.9 1903.4,609.8 1905.6,610.7 1907.8,611.4 1910.0,612.1 1912.2,612.5 1914.4,612.6 1916.6,612.4 1918.8,611.7 1921.0,610.6 1923.2,608.9 1925.4,606.6 1927.7,603.7 1929.9,600.1 1932.1,596.0 1934.3,591.5 1936.5,587.0 1938.7,582.5 1940.9,578.3 1943.1,574.3 1945.3,570.5 1947.5,567.1 1949.7,564.1 1951.9,561.4 1954.1,559.1 1956.3,557.2 1958.6,555.9 1960.8,555.0 1963.0,554.6 1965.2,554.8 1967.4,555.5 1969.6,556.7 1971.8,558.4 1974.0,560.5 1976.2,563.1 1978.4,566.0 1980.6,569.2 1982.8,572.6 1985.0,576.2 1987.2,579.8 1989.5,583.4 1991.7,586.9 1993.9,590.2 1996.1,593.3 1998.3,596.1 2000.5,598.5 2002.7,600.4 2004.9,601.7 2007.1,602.4 2009.3,602.4 2011.5,601.7 2013.7,600.3 2015.9,598.3 2018.2,595.5 2020.4,592.2 2022.6,588.2 2024.8,583.6 2027.0,578.4 2029.2,572.6 2031.4,566.3 2033.6,559.6 2035.8,552.6 2038.0,545.4 2040.2,538.3 2042.4,531.2 2044.6,524.4 2046.8,517.7 2049.1,511.2 2051.3,504.9 2053.5,498.8 2055.7,493.0 2057.9,487.5 2060.1,482.2 2062.3,477.3 2064.5,472.7 2066.7,468.4 2068.9,464.5 2071.1,461.0 2073.3,457.8 2075.5,455.1 2077.7,452.8" fill="none" stroke="#22F522" stroke-width="1.4"/>
<g fill="none" stroke="#3ED83E" stroke-width="1.0">
<circle cx="1969.21" cy="482.83" r="2.1"/>
<circle cx="1847.34" cy="580.01" r="2.1"/>
<circle cx="1928.85" cy="580.01" r="2.1"/>
<circle cx="1951.57" cy="592.15" r="2.1"/>
<circle cx="2054.63" cy="484.79" r="2.1"/>
<circle cx="2078.14" cy="451.87" r="2.1"/>
<circle cx="1770.93" cy="620.76" r="2.1"/>
<circle cx="1796.40" cy="614.49" r="2.1"/>
<circle cx="1809.72" cy="620.76" r="2.1"/>
<circle cx="1821.87" cy="612.92" r="2.1"/>
<circle cx="1830.49" cy="620.76" r="2.1"/>
<circle cx="1835.98" cy="615.27" r="2.1"/>
<circle cx="1841.07" cy="620.76" r="2.1"/>
<circle cx="1852.83" cy="620.76" r="2.1"/>
<circle cx="1858.31" cy="605.48" r="2.1"/>
<circle cx="1859.10" cy="620.76" r="2.1"/>
<circle cx="1863.80" cy="599.60" r="2.1"/>
<circle cx="1886.53" cy="613.31" r="2.1"/>
<circle cx="1911.21" cy="605.48" r="2.1"/>
<circle cx="1914.74" cy="613.31" r="2.1"/>
<circle cx="1918.66" cy="620.76" r="2.1"/>
<circle cx="1937.08" cy="620.76" r="2.1"/>
<circle cx="2002.12" cy="620.76" r="2.1"/>
<circle cx="2025.24" cy="591.76" r="2.1"/>
</g>
<g stroke="#62E862" stroke-width="1">
<line x1="1770.93" y1="656.3" x2="1770.93" y2="663.8"/>
<line x1="1780.73" y1="656.3" x2="1780.73" y2="663.8"/>
<line x1="1796.40" y1="656.3" x2="1796.40" y2="663.8"/>
<line x1="1809.72" y1="656.3" x2="1809.72" y2="663.8"/>
<line x1="1821.87" y1="656.3" x2="1821.87" y2="663.8"/>
<line x1="1830.49" y1="656.3" x2="1830.49" y2="663.8"/>
<line x1="1835.98" y1="656.3" x2="1835.98" y2="663.8"/>
<line x1="1841.07" y1="656.3" x2="1841.07" y2="663.8"/>
<line x1="1847.34" y1="656.3" x2="1847.34" y2="663.8"/>
<line x1="1852.83" y1="656.3" x2="1852.83" y2="663.8"/>
<line x1="1856.75" y1="656.3" x2="1856.75" y2="663.8"/>
<line x1="1858.31" y1="656.3" x2="1858.31" y2="663.8"/>
<line x1="1859.10" y1="656.3" x2="1859.10" y2="663.8"/>
<line x1="1860.66" y1="656.3" x2="1860.66" y2="663.8"/>
<line x1="1863.80" y1="656.3" x2="1863.80" y2="663.8"/>
<line x1="1872.03" y1="656.3" x2="1872.03" y2="663.8"/>
<line x1="1886.53" y1="656.3" x2="1886.53" y2="663.8"/>
<line x1="1897.50" y1="656.3" x2="1897.50" y2="663.8"/>
<line x1="1911.21" y1="656.3" x2="1911.21" y2="663.8"/>
<line x1="1913.17" y1="656.3" x2="1913.17" y2="663.8"/>
<line x1="1914.74" y1="656.3" x2="1914.74" y2="663.8"/>
<line x1="1916.31" y1="656.3" x2="1916.31" y2="663.8"/>
<line x1="1918.66" y1="656.3" x2="1918.66" y2="663.8"/>
<line x1="1925.32" y1="656.3" x2="1925.32" y2="663.8"/>
<line x1="1929.24" y1="656.3" x2="1929.24" y2="663.8"/>
<line x1="1937.08" y1="656.3" x2="1937.08" y2="663.8"/>
<line x1="1951.57" y1="656.3" x2="1951.57" y2="663.8"/>
<line x1="1969.21" y1="656.3" x2="1969.21" y2="663.8"/>
<line x1="1984.49" y1="656.3" x2="1984.49" y2="663.8"/>
<line x1="2002.91" y1="656.3" x2="2002.91" y2="663.8"/>
<line x1="2025.24" y1="656.3" x2="2025.24" y2="663.8"/>
<line x1="2055.02" y1="656.3" x2="2055.02" y2="663.8"/>
<line x1="2078.14" y1="656.3" x2="2078.14" y2="663.8"/>
</g>
<rect x="1758.9" y="393.1" width="331.0" height="271.2" fill="none" stroke="#3C3C3C" stroke-width="1.6"/>
<line x1="1754.40" y1="406.00" x2="1758.90" y2="406.00" stroke="#3C3C3C" stroke-width="1.2" />
<text transform="translate(1750.60,406.00) rotate(-90)" font-family="'Liberation Sans', sans-serif" font-size="10.4" fill="#161616" text-anchor="middle" textLength="15.0" lengthAdjust="spacingAndGlyphs" stroke="#161616" stroke-width="0.3">5000</text>
<line x1="1754.40" y1="444.40" x2="1758.90" y2="444.40" stroke="#3C3C3C" stroke-width="1.2" />
<text transform="translate(1750.60,444.40) rotate(-90)" font-family="'Liberation Sans', sans-serif" font-size="10.4" fill="#161616" text-anchor="middle" textLength="15.0" lengthAdjust="spacingAndGlyphs" stroke="#161616" stroke-width="0.3">4000</text>
<line x1="1754.40" y1="482.00" x2="1758.90" y2="482.00" stroke="#3C3C3C" stroke-width="1.2" />
<text transform="translate(1750.60,482.00) rotate(-90)" font-family="'Liberation Sans', sans-serif" font-size="10.4" fill="#161616" text-anchor="middle" textLength="15.0" lengthAdjust="spacingAndGlyphs" stroke="#161616" stroke-width="0.3">3000</text>
<line x1="1754.40" y1="520.00" x2="1758.90" y2="520.00" stroke="#3C3C3C" stroke-width="1.2" />
<text transform="translate(1750.60,520.00) rotate(-90)" font-family="'Liberation Sans', sans-serif" font-size="10.4" fill="#161616" text-anchor="middle" textLength="15.0" lengthAdjust="spacingAndGlyphs" stroke="#161616" stroke-width="0.3">2000</text>
<line x1="1754.40" y1="558.00" x2="1758.90" y2="558.00" stroke="#3C3C3C" stroke-width="1.2" />
<text transform="translate(1750.60,558.00) rotate(-90)" font-family="'Liberation Sans', sans-serif" font-size="10.4" fill="#161616" text-anchor="middle" textLength="15.0" lengthAdjust="spacingAndGlyphs" stroke="#161616" stroke-width="0.3">1000</text>
<line x1="1754.40" y1="596.00" x2="1758.90" y2="596.00" stroke="#3C3C3C" stroke-width="1.2" />
<text transform="translate(1750.60,596.00) rotate(-90)" font-family="'Liberation Sans', sans-serif" font-size="10.4" fill="#161616" text-anchor="middle" textLength="4.0" lengthAdjust="spacingAndGlyphs" stroke="#161616" stroke-width="0.3">0</text>
<line x1="1754.40" y1="633.60" x2="1758.90" y2="633.60" stroke="#3C3C3C" stroke-width="1.2" />
<text transform="translate(1750.60,633.60) rotate(-90)" font-family="'Liberation Sans', sans-serif" font-size="10.4" fill="#161616" text-anchor="middle" textLength="18.5" lengthAdjust="spacingAndGlyphs" stroke="#161616" stroke-width="0.3">-1000</text>
<line x1="1766.50" y1="664.30" x2="1766.50" y2="668.90" stroke="#3C3C3C" stroke-width="1.2" />
<text x="1766.50" y="680.00" font-family="'Liberation Sans', sans-serif" font-size="7.6" fill="#222" font-weight="bold" text-anchor="middle" textLength="25.5" lengthAdjust="spacingAndGlyphs">7.5e+06</text>
<line x1="1821.40" y1="664.30" x2="1821.40" y2="668.90" stroke="#3C3C3C" stroke-width="1.2" />
<text x="1821.40" y="680.00" font-family="'Liberation Sans', sans-serif" font-size="7.6" fill="#222" font-weight="bold" text-anchor="middle" textLength="25.5" lengthAdjust="spacingAndGlyphs">8.0e+06</text>
<line x1="1876.40" y1="664.30" x2="1876.40" y2="668.90" stroke="#3C3C3C" stroke-width="1.2" />
<text x="1876.40" y="680.00" font-family="'Liberation Sans', sans-serif" font-size="7.6" fill="#222" font-weight="bold" text-anchor="middle" textLength="25.5" lengthAdjust="spacingAndGlyphs">8.5e+06</text>
<line x1="1931.20" y1="664.30" x2="1931.20" y2="668.90" stroke="#3C3C3C" stroke-width="1.2" />
<text x="1931.20" y="680.00" font-family="'Liberation Sans', sans-serif" font-size="7.6" fill="#222" font-weight="bold" text-anchor="middle" textLength="25.5" lengthAdjust="spacingAndGlyphs">9.0e+06</text>
<line x1="1986.10" y1="664.30" x2="1986.10" y2="668.90" stroke="#3C3C3C" stroke-width="1.2" />
<text x="1986.10" y="680.00" font-family="'Liberation Sans', sans-serif" font-size="7.6" fill="#222" font-weight="bold" text-anchor="middle" textLength="25.5" lengthAdjust="spacingAndGlyphs">9.5e+06</text>
<line x1="2040.90" y1="664.30" x2="2040.90" y2="668.90" stroke="#3C3C3C" stroke-width="1.2" />
<text x="2040.90" y="680.00" font-family="'Liberation Sans', sans-serif" font-size="7.6" fill="#222" font-weight="bold" text-anchor="middle" textLength="25.5" lengthAdjust="spacingAndGlyphs">1.0e+07</text>
<text x="1922.90" y="694.30" font-family="'Liberation Sans', sans-serif" font-size="16.3" fill="#000" font-weight="bold" text-anchor="middle" textLength="172" lengthAdjust="spacingAndGlyphs" stroke="#000" stroke-width="0.7">Swedish population</text>
<text transform="translate(1738.40,527.70) rotate(-90)" font-family="'Liberation Sans', sans-serif" font-size="16" fill="#000" font-weight="bold" text-anchor="middle" textLength="72.5" lengthAdjust="spacingAndGlyphs" stroke="#000" stroke-width="0.35">s(x,7.829)</text>
<text x="1769.70" y="438.90" font-family="'Liberation Sans', sans-serif" font-size="17.2" fill="#1E1E1E" textLength="201.5" lengthAdjust="spacingAndGlyphs" letter-spacing="-0.6" stroke="#1E1E1E" stroke-width="0.5">Deviance explained = 79.0%,</text>
<text x="1771.10" y="464.70" font-family="'Liberation Sans', sans-serif" font-size="17.2" fill="#1E1E1E" stroke="#1E1E1E" stroke-width="0.5" letter-spacing="-0.6" textLength="86.7" lengthAdjust="spacingAndGlyphs"><tspan font-style="italic">p</tspan> = 1.37e-05</text>
<path d="M2155.5,585.9 2157.7,590.4 2159.9,594.1 2162.1,597.0 2164.3,599.2 2166.5,600.7 2168.7,601.6 2170.9,602.0 2173.2,602.0 2175.4,601.5 2177.6,600.8 2179.8,599.7 2182.0,598.5 2184.2,597.2 2186.4,595.8 2188.6,594.4 2190.8,593.1 2193.0,592.0 2195.2,591.0 2197.4,590.3 2199.6,590.0 2201.9,590.1 2204.1,590.5 2206.3,591.2 2208.5,592.0 2210.7,592.9 2212.9,593.8 2215.1,594.5 2217.3,595.1 2219.5,595.4 2221.7,595.4 2223.9,595.0 2226.1,594.4 2228.3,593.5 2230.5,592.5 2232.8,591.4 2235.0,590.2 2237.2,589.0 2239.4,587.9 2241.6,586.8 2243.8,585.8 2246.0,584.9 2248.2,584.1 2250.4,583.5 2252.6,583.0 2254.8,582.6 2257.0,582.5 2259.2,582.6 2261.5,582.8 2263.7,583.3 2265.9,584.0 2268.1,584.8 2270.3,585.8 2272.5,587.0 2274.7,588.4 2276.9,589.8 2279.1,591.3 2281.3,592.8 2283.5,594.0 2285.7,595.0 2287.9,595.6 2290.1,595.7 2292.4,595.2 2294.6,594.2 2296.8,592.5 2299.0,590.3 2301.2,587.4 2303.4,583.8 2305.6,579.6 2307.8,574.7 2310.0,569.2 2312.2,563.4 2314.4,557.2 2316.6,550.8 2318.8,544.3 2321.0,537.9 2323.3,531.7 2325.5,525.8 2327.7,520.3 2329.9,515.4 2332.1,511.2 2334.3,507.7 2336.5,505.1 2338.7,503.3 2340.9,502.3 2343.1,502.2 2345.3,502.9 2347.5,504.4 2349.7,506.7 2352.0,509.8 2354.2,513.7 2356.4,518.3 2358.6,523.7 2360.8,529.7 2363.0,536.1 2365.2,542.7 2367.4,549.2 2369.6,555.5 2371.8,561.5 2374.0,567.0 2376.2,572.2 2378.4,576.8 2380.6,580.9 2382.9,584.4 2385.1,587.2 2387.3,589.3 2389.5,590.7 2391.7,591.2 2393.9,590.9 2396.1,589.6 2398.3,587.6 2400.5,584.7 2402.7,581.0 2404.9,576.7 2407.1,571.7 2409.3,566.2 2411.5,560.1 2413.8,553.5 2416.0,546.6 2418.2,539.2 2420.4,531.5 2422.6,523.6 2424.8,515.5 2427.0,507.3 2429.2,499.1 2431.4,491.1 2433.6,483.3 2435.8,475.9 2438.0,469.0 2440.2,462.8 2442.5,457.1 2444.7,451.9 2446.9,446.8 2449.1,441.9 2451.3,436.8 2453.5,431.4 2455.7,425.6 2457.9,419.2 2460.1,412.0 2462.3,403.8 2462.3,486.0 2460.1,488.6 2457.9,491.0 2455.7,493.1 2453.5,495.1 2451.3,497.1 2449.1,499.2 2446.9,501.5 2444.7,504.1 2442.5,507.0 2440.2,510.4 2438.0,514.3 2435.8,518.9 2433.6,524.1 2431.4,529.9 2429.2,536.4 2427.0,543.5 2424.8,551.3 2422.6,559.7 2420.4,568.8 2418.2,578.2 2416.0,587.8 2413.8,597.3 2411.5,606.5 2409.3,615.2 2407.1,623.2 2404.9,630.2 2402.7,636.2 2400.5,641.2 2398.3,645.2 2396.1,648.2 2393.9,650.0 2391.7,650.8 2389.5,650.5 2387.3,649.2 2385.1,647.1 2382.9,644.1 2380.6,640.4 2378.4,636.1 2376.2,631.2 2374.0,625.9 2371.8,620.1 2369.6,614.1 2367.4,607.9 2365.2,601.6 2363.0,595.4 2360.8,589.4 2358.6,583.8 2356.4,578.7 2354.2,574.2 2352.0,570.3 2349.7,567.2 2347.5,564.7 2345.3,563.0 2343.1,562.0 2340.9,561.8 2338.7,562.3 2336.5,563.6 2334.3,565.7 2332.1,568.6 2329.9,572.3 2327.7,576.6 2325.5,581.3 2323.3,586.4 2321.0,591.6 2318.8,596.7 2316.6,601.8 2314.4,606.8 2312.2,611.4 2310.0,615.7 2307.8,619.7 2305.6,623.1 2303.4,625.9 2301.2,628.3 2299.0,630.1 2296.8,631.5 2294.6,632.4 2292.4,633.0 2290.1,633.2 2287.9,633.2 2285.7,632.8 2283.5,632.3 2281.3,631.6 2279.1,630.7 2276.9,629.8 2274.7,628.8 2272.5,627.8 2270.3,626.8 2268.1,625.8 2265.9,625.0 2263.7,624.3 2261.5,623.8 2259.2,623.5 2257.0,623.5 2254.8,623.7 2252.6,624.1 2250.4,624.7 2248.2,625.4 2246.0,626.2 2243.8,627.0 2241.6,627.9 2239.4,628.7 2237.2,629.4 2235.0,630.1 2232.8,630.6 2230.5,631.0 2228.3,631.3 2226.1,631.5 2223.9,631.5 2221.7,631.3 2219.5,631.0 2217.3,630.5 2215.1,629.9 2212.9,629.1 2210.7,628.3 2208.5,627.5 2206.3,626.7 2204.1,626.0 2201.9,625.4 2199.6,625.0 2197.4,624.7 2195.2,624.7 2193.0,624.8 2190.8,625.1 2188.6,625.7 2186.4,626.3 2184.2,627.2 2182.0,628.3 2179.8,629.5 2177.6,630.9 2175.4,632.5 2173.2,634.2 2170.9,636.1 2168.7,638.2 2166.5,640.4 2164.3,642.8 2162.1,645.3 2159.9,648.0 2157.7,650.8 2155.5,653.8 Z" fill="#07D207" filter="url(#tubeC)"/>
<path d="M2155.5,622.9 2157.7,622.8 2159.9,622.5 2162.1,622.0 2164.3,621.4 2166.5,620.6 2168.7,619.8 2170.9,618.8 2173.2,617.8 2175.4,616.7 2177.6,615.7 2179.8,614.6 2182.0,613.5 2184.2,612.5 2186.4,611.6 2188.6,610.8 2190.8,610.0 2193.0,609.5 2195.2,609.0 2197.4,608.8 2199.6,608.7 2201.9,608.9 2204.1,609.3 2206.3,609.8 2208.5,610.3 2210.7,611.0 2212.9,611.6 2215.1,612.2 2217.3,612.7 2219.5,613.1 2221.7,613.2 2223.9,613.3 2226.1,613.1 2228.3,612.8 2230.5,612.4 2232.8,611.8 2235.0,611.2 2237.2,610.4 2239.4,609.5 2241.6,608.5 2243.8,607.5 2246.0,606.4 2248.2,605.5 2250.4,604.6 2252.6,603.9 2254.8,603.4 2257.0,603.1 2259.2,603.1 2261.5,603.4 2263.7,603.9 2265.9,604.7 2268.1,605.6 2270.3,606.6 2272.5,607.7 2274.7,608.9 2276.9,610.0 2279.1,611.0 2281.3,611.9 2283.5,612.7 2285.7,613.2 2287.9,613.5 2290.1,613.5 2292.4,613.2 2294.6,612.4 2296.8,611.2 2299.0,609.5 2301.2,607.3 2303.4,604.5 2305.6,601.1 2307.8,597.0 2310.0,592.4 2312.2,587.3 2314.4,581.9 2316.6,576.3 2318.8,570.6 2321.0,564.9 2323.3,559.3 2325.5,554.0 2327.7,549.0 2329.9,544.5 2332.1,540.6 2334.3,537.4 2336.5,534.9 2338.7,533.2 2340.9,532.2 2343.1,532.0 2345.3,532.6 2347.5,534.0 2349.7,536.2 2352.0,539.1 2354.2,542.9 2356.4,547.5 2358.6,552.8 2360.8,558.8 2363.0,565.1 2365.2,571.6 2367.4,578.1 2369.6,584.3 2371.8,590.1 2374.0,595.6 2376.2,600.6 2378.4,605.2 2380.6,609.4 2382.9,613.1 2385.1,616.1 2387.3,618.6 2389.5,620.3 2391.7,621.2 2393.9,621.2 2396.1,620.2 2398.3,618.2 2400.5,615.2 2402.7,611.2 2404.9,606.1 2407.1,600.0 2409.3,592.8 2411.5,584.8 2413.8,576.2 2416.0,567.1 2418.2,557.8 2420.4,548.6 2422.6,539.7 2424.8,531.3 2427.0,523.4 2429.2,516.0 2431.4,509.1 2433.6,502.7 2435.8,496.8 2438.0,491.3 2440.2,486.2 2442.5,481.4 2444.7,477.0 2446.9,472.9 2449.1,469.0 2451.3,465.4 2453.5,461.9 2455.7,458.5 2457.9,455.2 2460.1,452.0 2462.3,448.7" fill="none" stroke="#22F522" stroke-width="1.4"/>
<g fill="none" stroke="#3ED83E" stroke-width="1.0">
<circle cx="2346.33" cy="481.65" r="2.1"/>
<circle cx="2179.01" cy="581.18" r="2.1"/>
<circle cx="2295.39" cy="581.18" r="2.1"/>
<circle cx="2323.60" cy="593.72" r="2.1"/>
<circle cx="2439.98" cy="483.22" r="2.1"/>
<circle cx="2461.92" cy="449.52" r="2.1"/>
<circle cx="2155.50" cy="623.11" r="2.1"/>
<circle cx="2163.73" cy="614.49" r="2.1"/>
<circle cx="2171.17" cy="623.11" r="2.1"/>
<circle cx="2174.31" cy="620.37" r="2.1"/>
<circle cx="2184.89" cy="599.60" r="2.1"/>
<circle cx="2198.99" cy="623.89" r="2.1"/>
<circle cx="2209.18" cy="598.82" r="2.1"/>
<circle cx="2216.63" cy="623.89" r="2.1"/>
<circle cx="2224.46" cy="614.49" r="2.1"/>
<circle cx="2233.87" cy="590.59" r="2.1"/>
<circle cx="2246.02" cy="607.44" r="2.1"/>
<circle cx="2257.77" cy="617.23" r="2.1"/>
<circle cx="2270.31" cy="614.49" r="2.1"/>
<circle cx="2283.24" cy="623.89" r="2.1"/>
<circle cx="2291.86" cy="599.99" r="2.1"/>
<circle cx="2304.79" cy="623.89" r="2.1"/>
<circle cx="2392.96" cy="623.89" r="2.1"/>
<circle cx="2414.90" cy="591.76" r="2.1"/>
</g>
<g stroke="#62E862" stroke-width="1">
<line x1="2155.50" y1="656.3" x2="2155.50" y2="663.8"/>
<line x1="2163.73" y1="656.3" x2="2163.73" y2="663.8"/>
<line x1="2171.17" y1="656.3" x2="2171.17" y2="663.8"/>
<line x1="2172.74" y1="656.3" x2="2172.74" y2="663.8"/>
<line x1="2174.31" y1="656.3" x2="2174.31" y2="663.8"/>
<line x1="2175.48" y1="656.3" x2="2175.48" y2="663.8"/>
<line x1="2177.05" y1="656.3" x2="2177.05" y2="663.8"/>
<line x1="2179.01" y1="656.3" x2="2179.01" y2="663.8"/>
<line x1="2184.89" y1="656.3" x2="2184.89" y2="663.8"/>
<line x1="2187.63" y1="656.3" x2="2187.63" y2="663.8"/>
<line x1="2193.12" y1="656.3" x2="2193.12" y2="663.8"/>
<line x1="2198.99" y1="656.3" x2="2198.99" y2="663.8"/>
<line x1="2209.18" y1="656.3" x2="2209.18" y2="663.8"/>
<line x1="2216.63" y1="656.3" x2="2216.63" y2="663.8"/>
<line x1="2224.46" y1="656.3" x2="2224.46" y2="663.8"/>
<line x1="2233.87" y1="656.3" x2="2233.87" y2="663.8"/>
<line x1="2246.02" y1="656.3" x2="2246.02" y2="663.8"/>
<line x1="2257.77" y1="656.3" x2="2257.77" y2="663.8"/>
<line x1="2270.31" y1="656.3" x2="2270.31" y2="663.8"/>
<line x1="2283.24" y1="656.3" x2="2283.24" y2="663.8"/>
<line x1="2291.86" y1="656.3" x2="2291.86" y2="663.8"/>
<line x1="2293.82" y1="656.3" x2="2293.82" y2="663.8"/>
<line x1="2295.39" y1="656.3" x2="2295.39" y2="663.8"/>
<line x1="2304.79" y1="656.3" x2="2304.79" y2="663.8"/>
<line x1="2323.60" y1="656.3" x2="2323.60" y2="663.8"/>
<line x1="2346.33" y1="656.3" x2="2346.33" y2="663.8"/>
<line x1="2369.84" y1="656.3" x2="2369.84" y2="663.8"/>
<line x1="2392.96" y1="656.3" x2="2392.96" y2="663.8"/>
<line x1="2414.90" y1="656.3" x2="2414.90" y2="663.8"/>
<line x1="2439.59" y1="656.3" x2="2439.59" y2="663.8"/>
<line x1="2461.92" y1="656.3" x2="2461.92" y2="663.8"/>
</g>
<rect x="2142.7" y="393.1" width="331.0" height="271.2" fill="none" stroke="#3C3C3C" stroke-width="1.6"/>
<line x1="2138.20" y1="399.80" x2="2142.70" y2="399.80" stroke="#3C3C3C" stroke-width="1.2" />
<text transform="translate(2134.40,399.80) rotate(-90)" font-family="'Liberation Sans', sans-serif" font-size="10.4" fill="#161616" text-anchor="middle" textLength="15.0" lengthAdjust="spacingAndGlyphs" stroke="#161616" stroke-width="0.3">5000</text>
<line x1="2138.20" y1="438.90" x2="2142.70" y2="438.90" stroke="#3C3C3C" stroke-width="1.2" />
<text transform="translate(2134.40,438.90) rotate(-90)" font-family="'Liberation Sans', sans-serif" font-size="10.4" fill="#161616" text-anchor="middle" textLength="15.0" lengthAdjust="spacingAndGlyphs" stroke="#161616" stroke-width="0.3">4000</text>
<line x1="2138.20" y1="478.10" x2="2142.70" y2="478.10" stroke="#3C3C3C" stroke-width="1.2" />
<text transform="translate(2134.40,478.10) rotate(-90)" font-family="'Liberation Sans', sans-serif" font-size="10.4" fill="#161616" text-anchor="middle" textLength="15.0" lengthAdjust="spacingAndGlyphs" stroke="#161616" stroke-width="0.3">3000</text>
<line x1="2138.20" y1="517.30" x2="2142.70" y2="517.30" stroke="#3C3C3C" stroke-width="1.2" />
<text transform="translate(2134.40,517.30) rotate(-90)" font-family="'Liberation Sans', sans-serif" font-size="10.4" fill="#161616" text-anchor="middle" textLength="15.0" lengthAdjust="spacingAndGlyphs" stroke="#161616" stroke-width="0.3">2000</text>
<line x1="2138.20" y1="556.00" x2="2142.70" y2="556.00" stroke="#3C3C3C" stroke-width="1.2" />
<text transform="translate(2134.40,556.00) rotate(-90)" font-family="'Liberation Sans', sans-serif" font-size="10.4" fill="#161616" text-anchor="middle" textLength="15.0" lengthAdjust="spacingAndGlyphs" stroke="#161616" stroke-width="0.3">1000</text>
<line x1="2138.20" y1="594.80" x2="2142.70" y2="594.80" stroke="#3C3C3C" stroke-width="1.2" />
<text transform="translate(2134.40,594.80) rotate(-90)" font-family="'Liberation Sans', sans-serif" font-size="10.4" fill="#161616" text-anchor="middle" textLength="4.0" lengthAdjust="spacingAndGlyphs" stroke="#161616" stroke-width="0.3">0</text>
<line x1="2138.20" y1="633.60" x2="2142.70" y2="633.60" stroke="#3C3C3C" stroke-width="1.2" />
<text transform="translate(2134.40,633.60) rotate(-90)" font-family="'Liberation Sans', sans-serif" font-size="10.4" fill="#161616" text-anchor="middle" textLength="18.5" lengthAdjust="spacingAndGlyphs" stroke="#161616" stroke-width="0.3">-1000</text>
<line x1="2145.70" y1="664.30" x2="2145.70" y2="668.90" stroke="#3C3C3C" stroke-width="1.2" />
<text x="2145.70" y="680.00" font-family="'Liberation Sans', sans-serif" font-size="7.6" fill="#222" font-weight="bold" text-anchor="middle" textLength="27.650000000000002" lengthAdjust="spacingAndGlyphs">1400000</text>
<line x1="2210.40" y1="664.30" x2="2210.40" y2="668.90" stroke="#3C3C3C" stroke-width="1.2" />
<text x="2210.40" y="680.00" font-family="'Liberation Sans', sans-serif" font-size="7.6" fill="#222" font-weight="bold" text-anchor="middle" textLength="27.650000000000002" lengthAdjust="spacingAndGlyphs">1600000</text>
<line x1="2275.40" y1="664.30" x2="2275.40" y2="668.90" stroke="#3C3C3C" stroke-width="1.2" />
<text x="2275.40" y="680.00" font-family="'Liberation Sans', sans-serif" font-size="7.6" fill="#222" font-weight="bold" text-anchor="middle" textLength="27.650000000000002" lengthAdjust="spacingAndGlyphs">1800000</text>
<line x1="2340.10" y1="664.30" x2="2340.10" y2="668.90" stroke="#3C3C3C" stroke-width="1.2" />
<text x="2340.10" y="680.00" font-family="'Liberation Sans', sans-serif" font-size="7.6" fill="#222" font-weight="bold" text-anchor="middle" textLength="27.650000000000002" lengthAdjust="spacingAndGlyphs">2000000</text>
<line x1="2404.70" y1="664.30" x2="2404.70" y2="668.90" stroke="#3C3C3C" stroke-width="1.2" />
<text x="2404.70" y="680.00" font-family="'Liberation Sans', sans-serif" font-size="7.6" fill="#222" font-weight="bold" text-anchor="middle" textLength="27.650000000000002" lengthAdjust="spacingAndGlyphs">2200000</text>
<line x1="2469.40" y1="664.30" x2="2469.40" y2="668.90" stroke="#3C3C3C" stroke-width="1.2" />
<text x="2469.40" y="680.00" font-family="'Liberation Sans', sans-serif" font-size="7.6" fill="#222" font-weight="bold" text-anchor="middle" textLength="27.650000000000002" lengthAdjust="spacingAndGlyphs">2400000</text>
<text x="2309.20" y="694.30" font-family="'Liberation Sans', sans-serif" font-size="16.3" fill="#000" font-weight="bold" text-anchor="middle" textLength="259.4" lengthAdjust="spacingAndGlyphs" stroke="#000" stroke-width="0.7">Stockholm County population</text>
<text transform="translate(2124.50,527.70) rotate(-90)" font-family="'Liberation Sans', sans-serif" font-size="16" fill="#000" font-weight="bold" text-anchor="middle" textLength="72.5" lengthAdjust="spacingAndGlyphs" stroke="#000" stroke-width="0.35">s(x,8.124)</text>
<text x="2153.10" y="440.00" font-family="'Liberation Sans', sans-serif" font-size="17.2" fill="#1E1E1E" textLength="201.5" lengthAdjust="spacingAndGlyphs" letter-spacing="-0.6" stroke="#1E1E1E" stroke-width="0.5">Deviance explained = 83.9%,</text>
<text x="2154.50" y="465.80" font-family="'Liberation Sans', sans-serif" font-size="17.2" fill="#1E1E1E" stroke="#1E1E1E" stroke-width="0.5" letter-spacing="-0.6" textLength="86.7" lengthAdjust="spacingAndGlyphs"><tspan font-style="italic">p</tspan> = 1.07e-05</text>
<text x="1716.70" y="29.60" font-family="'Liberation Sans', sans-serif" font-size="16.3" fill="#000" font-weight="bold" text-anchor="middle" textLength="223" lengthAdjust="spacingAndGlyphs" stroke="#000" stroke-width="0.6">MP cocentration at SE-05</text>
<text x="1716.70" y="376.30" font-family="'Liberation Sans', sans-serif" font-size="16.3" fill="#000" font-weight="bold" text-anchor="middle" textLength="223" lengthAdjust="spacingAndGlyphs" stroke="#000" stroke-width="0.6">MP cocentration at SE-08</text>
<text x="950.20" y="342.20" font-family="'Liberation Sans', sans-serif" font-size="52" fill="#FF0000" stroke="#FF0000" stroke-width="0.9">b</text>
<text x="954.30" y="689.00" font-family="'Liberation Sans', sans-serif" font-size="54" fill="#FF0000" stroke="#FF0000" stroke-width="0.9">c</text>
</svg></body></html>
